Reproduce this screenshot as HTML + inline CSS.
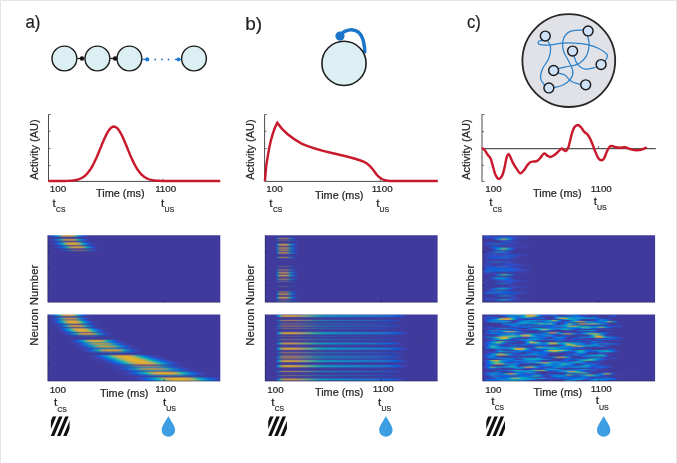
<!DOCTYPE html>
<html><head><meta charset="utf-8"><title>figure</title>
<style>
html,body{margin:0;padding:0;background:#fff;}
body{position:relative;width:677px;height:463px;overflow:hidden;font-family:"Liberation Sans", sans-serif;}
.hm{position:absolute;background:#3f3a9b;overflow:hidden}
.hm i{display:block;height:1px;width:100%}
svg{position:absolute;left:0;top:0;display:block;font-family:"Liberation Sans", sans-serif;will-change:transform;}
</style></head><body>
<div class="hm" style="left:47px;top:235px;width:174px;height:68px">
<i style="background:linear-gradient(90deg,#3f3da3 0.5px,#3d41ad 2.5px,#354ac1 4.5px,#2353ce 5.5px,#0d5ed4 6.5px,#1b72cc 8.5px,#197fc8 9.5px,#108ec3 10.5px,#1698b5 11.5px,#33a1a1 12.5px,#5da589 13.5px,#82a175 14.5px,#9d9c67 15.5px,#b1975c 16.5px,#bf9452 17.5px,#c49c41 19.5px,#c49e40 21.5px,#c59649 23.5px,#bd9454 24.5px,#989d6a 26.5px,#7ca279 27.5px,#54a58e 28.5px,#2c9fa5 29.5px,#1397b8 30.5px,#118cc5 31.5px,#1a7cc8 32.5px,#1a70cd 33.5px,#0e5bd4 35.5px,#2850cc 36.5px,#3749be 37.5px,#3e3ea6 40.5px,#3f3b9e 43.5px,#3f3a9b 173.5px)"></i>
<i style="background:linear-gradient(90deg,#3f3ca0 0.5px,#3e3fa8 2.5px,#3845b6 4.5px,#1c53c3 6.5px,#2661be 8.5px,#1e75b8 10.5px,#227dad 11.5px,#37839f 12.5px,#6e8380 14.5px,#8f7b6e 16.5px,#997967 17.5px,#9d7f5c 19.5px,#9d815a 21.5px,#9d7b61 23.5px,#987969 24.5px,#7e8078 26.5px,#6a8483 27.5px,#4e8692 28.5px,#3281a2 29.5px,#207bb0 30.5px,#1e74b9 31.5px,#2568bb 32.5px,#2560bf 33.5px,#1c52c3 35.5px,#2f4abe 36.5px,#3944b4 37.5px,#3f3da3 40.5px,#3f3b9d 43.5px,#3f3a9b 173.5px)"></i>
<i style="background:linear-gradient(90deg,#3f3a9c 0.5px,#393fa2 6.5px,#3a469e 11.5px,#4d4693 16.5px,#504691 23.5px,#3944a0 31.5px,#393ea2 35.5px,#3e3c9f 37.5px,#3f3a9b 43.5px,#3f3a9b 173.5px)"></i>
<i style="background:linear-gradient(90deg,#3f3a9c 0.5px,#3e3da1 5.5px,#3740a6 7.5px,#364ba2 12.5px,#384d9f 13.5px,#464f97 15.5px,#554c8f 18.5px,#594d8a 23.5px,#534d90 27.5px,#364ca1 32.5px,#3541a6 37.5px,#3d3da2 39.5px,#3f3a9c 45.5px,#3f3a9b 173.5px)"></i>
<i style="background:linear-gradient(90deg,#3f3c9f 0.5px,#3e40a9 3.5px,#3946b8 5.5px,#304cc4 6.5px,#1956d0 7.5px,#1060d1 8.5px,#1e72c8 10.5px,#138dbe 12.5px,#1d96b0 13.5px,#3b9d9c 14.5px,#619f87 15.5px,#829c76 16.5px,#99976a 17.5px,#aa9260 18.5px,#bd904f 20.5px,#be934a 21.5px,#be9449 23.5px,#ba8f54 25.5px,#a09565 27.5px,#8c9a71 28.5px,#6f9e7f 29.5px,#4a9f94 30.5px,#2899a8 31.5px,#1491b9 32.5px,#1486c4 33.5px,#1d77c6 34.5px,#105ad1 37.5px,#2950ca 38.5px,#3648bd 39.5px,#3e3ea6 42.5px,#3f3b9e 45.5px,#3f3a9b 173.5px)"></i>
<i style="background:linear-gradient(90deg,#3f3b9e 0.5px,#3e3ea5 3.5px,#3b43b1 5.5px,#3447b9 6.5px,#234ec2 7.5px,#1d55c3 8.5px,#2763bc 10.5px,#1f77b5 12.5px,#267daa 13.5px,#3c829c 14.5px,#58848c 15.5px,#708180 16.5px,#8d7a70 18.5px,#9b7963 20.5px,#9c7c5f 23.5px,#997867 25.5px,#867c74 27.5px,#628387 29.5px,#478496 30.5px,#2e7fa5 31.5px,#1f79b1 32.5px,#1f72b9 33.5px,#2667bb 34.5px,#1d51c3 37.5px,#2f4abd 38.5px,#3944b4 39.5px,#3e3da3 42.5px,#3f3b9d 45.5px,#3f3a9b 173.5px)"></i>
<i style="background:linear-gradient(90deg,#3f3a9c 0.5px,#3e3ca1 5.5px,#3543a8 9.5px,#364ea3 13.5px,#55518f 18.5px,#5e5186 22.5px,#58508c 28.5px,#3a50a0 33.5px,#3448a7 36.5px,#3c3da3 41.5px,#3f3a9b 48.5px,#3f3a9b 173.5px)"></i>
<i style="background:linear-gradient(90deg,#3f3b9c 0.5px,#3f3da2 4.5px,#3a44b2 7.5px,#3248bb 8.5px,#214fc1 9.5px,#1e56c2 10.5px,#2664bc 12.5px,#1f77b4 14.5px,#297da9 15.5px,#5c838a 17.5px,#73817e 18.5px,#847d75 19.5px,#9a7965 21.5px,#9c7d5e 22.5px,#9a8259 24.5px,#9a815a 26.5px,#9b7a63 28.5px,#94796b 29.5px,#78807b 31.5px,#628387 32.5px,#468396 33.5px,#2e7fa5 34.5px,#2179b1 35.5px,#2071b9 36.5px,#2667bb 37.5px,#1f51c2 40.5px,#2f4abd 41.5px,#3c41ad 43.5px,#3e3da3 45.5px,#3f3b9d 48.5px,#3f3a9b 173.5px)"></i>
<i style="background:linear-gradient(90deg,#3f3b9d 0.5px,#3f3da2 3.5px,#3e41ab 5.5px,#3948bd 7.5px,#2e4fca 8.5px,#1859d7 9.5px,#0964db 10.5px,#157bd3 12.5px,#0b99c8 14.5px,#14a5b9 15.5px,#31afa3 16.5px,#5cb38a 17.5px,#86b073 18.5px,#a6ab62 19.5px,#bea554 20.5px,#cfa247 21.5px,#d7a53b 22.5px,#d5b02f 24.5px,#d5b12f 26.5px,#d7a63a 28.5px,#d0a246 29.5px,#c0a453 30.5px,#a8aa61 31.5px,#89b071 32.5px,#36afa0 34.5px,#17a6b6 35.5px,#0c9ac6 36.5px,#147dd3 38.5px,#0b65db 40.5px,#185ad6 41.5px,#3749be 43.5px,#3e3fa7 46.5px,#3f3b9e 49.5px,#3f3a9b 173.5px)"></i>
<i style="background:linear-gradient(90deg,#3f3b9c 0.5px,#3f3da3 4.5px,#3b45b5 7.5px,#354ac0 8.5px,#2751cd 9.5px,#105bd5 10.5px,#0f66d4 11.5px,#176fd0 12.5px,#1a7bca 13.5px,#128ac7 14.5px,#1196bd 15.5px,#229fac 16.5px,#45a696 17.5px,#6fa77f 18.5px,#90a26e 19.5px,#a89c61 20.5px,#ba9856 21.5px,#c6974a 22.5px,#c89d40 23.5px,#c5a539 25.5px,#c6a33b 27.5px,#c79848 29.5px,#bc9754 30.5px,#93a16d 32.5px,#73a67d 33.5px,#4ba793 34.5px,#27a0a9 35.5px,#1197bb 36.5px,#118cc7 37.5px,#197dca 38.5px,#1871cf 39.5px,#0f5dd5 41.5px,#2353ce 42.5px,#344ac1 43.5px,#3b45b6 44.5px,#3e3fa8 46.5px,#3f3b9f 49.5px,#3f3a9b 57.5px,#3f3a9b 173.5px)"></i>
<i style="background:linear-gradient(90deg,#3f3a9b 0.5px,#3d3da3 8.5px,#3544aa 11.5px,#3152a9 15.5px,#415a9b 18.5px,#605988 22.5px,#695a7e 26.5px,#6a597f 29.5px,#615987 32.5px,#40599b 36.5px,#2f4bac 41.5px,#3844a9 43.5px,#3d3da2 47.5px,#3f3a9c 53.5px,#3f3a9b 173.5px)"></i>
<i style="background:linear-gradient(90deg,#3f3a9b 0.5px,#3f3ca1 7.5px,#3945b4 11.5px,#3149bd 12.5px,#1f50c4 13.5px,#1b58c5 14.5px,#2565be 16.5px,#1d79b8 18.5px,#2180ae 19.5px,#3485a1 20.5px,#4f8991 21.5px,#6a8782 22.5px,#8d8070 24.5px,#a07c62 26.5px,#a2805b 27.5px,#a18458 29.5px,#a18259 31.5px,#9d7c65 33.5px,#947e6c 34.5px,#77857c 36.5px,#608888 37.5px,#2b83a6 39.5px,#1d7db2 40.5px,#1d75bb 41.5px,#246bbc 42.5px,#2462c0 43.5px,#1a55c5 45.5px,#264ec2 46.5px,#3547b9 47.5px,#3b43b1 48.5px,#3e3ea6 50.5px,#3f3b9e 53.5px,#3f3a9b 61.5px,#3f3a9b 173.5px)"></i>
<i style="background:linear-gradient(90deg,#3f3a9b 0.5px,#3f3da3 7.5px,#3d41ac 9.5px,#3748bd 11.5px,#2b4fca 12.5px,#1359d3 13.5px,#0e62d4 14.5px,#1c75cb 16.5px,#1090c3 18.5px,#1699b5 19.5px,#30a1a3 20.5px,#56a68d 21.5px,#7aa379 22.5px,#959e6b 23.5px,#aa9960 24.5px,#c4954c 26.5px,#c69944 27.5px,#c59f3f 29.5px,#c59c41 31.5px,#c09451 33.5px,#b3975a 34.5px,#8ba171 36.5px,#6da580 37.5px,#46a596 38.5px,#249eab 39.5px,#1196bb 40.5px,#118bc6 41.5px,#1a7dc9 42.5px,#1a71cd 43.5px,#0d5fd5 45.5px,#1d55d1 46.5px,#324cc4 47.5px,#3947b9 48.5px,#3e40aa 50.5px,#3f3ca0 53.5px,#3f3a9b 61.5px,#3f3a9b 173.5px)"></i>
<i style="background:linear-gradient(90deg,#3f3a9b 0.5px,#3f3b9e 7.5px,#3c40a9 11.5px,#2e46b2 13.5px,#2b4ab2 14.5px,#3152ae 16.5px,#2c5cab 18.5px,#2f60a5 19.5px,#486595 21.5px,#57648e 22.5px,#6a6083 24.5px,#756078 27.5px,#756177 31.5px,#6e5f81 34.5px,#516590 37.5px,#3462a1 39.5px,#2c5fa8 40.5px,#3050af 43.5px,#2b49b2 45.5px,#3d3fa7 48.5px,#3f3b9d 53.5px,#3f3a9b 173.5px)"></i>
<i style="background:linear-gradient(90deg,#3f3a9b 0.5px,#3e3ca0 12.5px,#3841a4 16.5px,#3a47a0 20.5px,#4f4991 27.5px,#53488f 32.5px,#4e4993 36.5px,#3b499e 41.5px,#3846a2 43.5px,#3e3ca0 50.5px,#3f3a9c 56.5px,#3f3a9b 173.5px)"></i>
<i style="background:linear-gradient(90deg,#3f3a9b 0.5px,#3f3b9d 8.5px,#3d40a8 13.5px,#3a42ad 14.5px,#284ab6 16.5px,#2f56b1 19.5px,#2962ad 21.5px,#2b66a8 22.5px,#3669a0 23.5px,#536b8f 25.5px,#686884 27.5px,#74657e 29.5px,#79647a 32.5px,#74657e 35.5px,#686884 37.5px,#536b8f 39.5px,#3669a0 41.5px,#2b66a8 42.5px,#2962ad 43.5px,#2f56b1 45.5px,#284ab6 48.5px,#3a42ad 50.5px,#3d40a8 51.5px,#3f3b9d 56.5px,#3f3a9b 173.5px)"></i>
<i style="background:linear-gradient(90deg,#3f3a9b 0.5px,#3e3b9e 13.5px,#3a3ea1 16.5px,#3a439f 21.5px,#494596 27.5px,#4d4493 32.5px,#494596 37.5px,#3a439f 43.5px,#3a3ea1 48.5px,#3f3a9c 56.5px,#3f3a9b 173.5px)"></i>
<i></i>
<i></i>
<i></i>
<i></i>
<i></i>
<i></i>
<i></i>
<i></i>
<i></i>
<i></i>
<i></i>
<i></i>
<i></i>
<i></i>
<i></i>
<i></i>
<i></i>
<i></i>
<i></i>
<i></i>
<i></i>
<i></i>
<i></i>
<i></i>
<i></i>
<i></i>
<i></i>
<i></i>
<i></i>
<i></i>
<i></i>
<i></i>
<i></i>
<i></i>
<i></i>
<i></i>
<i></i>
<i></i>
<i></i>
<i></i>
<i></i>
<i></i>
<i></i>
<i></i>
<i></i>
<i></i>
<i></i>
<i></i>
<i></i>
<i></i>
<i></i>
</div>
<div class="hm" style="left:47px;top:314px;width:174px;height:68px">
<i style="background:linear-gradient(90deg,#3f3da1 0.5px,#3e40aa 2.5px,#3847ba 4.5px,#2b4ec7 5.5px,#1358cf 6.5px,#1e75c5 9.5px,#1584c2 10.5px,#168eb7 11.5px,#2b96a6 12.5px,#4f9c91 13.5px,#749a7d 14.5px,#8f956f 15.5px,#b18c5b 17.5px,#b98d50 18.5px,#b9924a 19.5px,#b99449 22.5px,#b58c57 24.5px,#a98e60 25.5px,#97936a 26.5px,#809877 27.5px,#5f9c88 28.5px,#38999e 29.5px,#1c91b1 30.5px,#1488bf 31.5px,#1f6ec7 33.5px,#115ccf 35.5px,#2152cc 36.5px,#3449bf 37.5px,#3b45b4 38.5px,#3e3fa7 40.5px,#3f3b9e 43.5px,#3f3a9b 173.5px)"></i>
<i style="background:linear-gradient(90deg,#3f3da2 0.5px,#3e41ab 2.5px,#3748bd 4.5px,#2950cb 5.5px,#105ad3 6.5px,#1b7ac8 9.5px,#128ac5 10.5px,#1395b9 11.5px,#2a9da7 12.5px,#50a490 13.5px,#78a17b 14.5px,#959c6b 15.5px,#ba9355 17.5px,#c3944a 18.5px,#c39944 19.5px,#c39b42 22.5px,#bf9351 24.5px,#b1955c 25.5px,#9e9a66 26.5px,#859f74 27.5px,#61a387 28.5px,#38a09e 29.5px,#1998b2 30.5px,#118fc1 31.5px,#1c73cb 33.5px,#0e5fd4 35.5px,#1f54d0 36.5px,#334bc2 37.5px,#3a45b6 38.5px,#3e3fa8 40.5px,#3f3b9e 43.5px,#3f3a9b 51.5px,#3f3a9b 173.5px)"></i>
<i style="background:linear-gradient(90deg,#3f3b9d 0.5px,#3d3ea5 4.5px,#3144ac 6.5px,#3156a5 11.5px,#425b99 13.5px,#585a8d 15.5px,#655786 17.5px,#69597f 20.5px,#695880 23.5px,#5f598a 26.5px,#3659a1 30.5px,#3047ad 35.5px,#3a40a8 37.5px,#3e3da2 39.5px,#3f3a9b 46.5px,#3f3a9b 173.5px)"></i>
<i style="background:linear-gradient(90deg,#3f3b9c 0.5px,#3d3ea5 5.5px,#3543ae 7.5px,#2c47b1 8.5px,#3153ac 11.5px,#2f5da7 13.5px,#436298 15.5px,#516290 16.5px,#655f86 18.5px,#6f5d80 20.5px,#725d7c 23.5px,#705c7f 25.5px,#675e85 27.5px,#56628e 29.5px,#315ea4 32.5px,#2d5aaa 33.5px,#3045b0 38.5px,#3d3fa7 40.5px,#3f3a9c 46.5px,#3f3a9b 173.5px)"></i>
<i style="background:linear-gradient(90deg,#3f3b9e 0.5px,#3e3fa6 3.5px,#3649bd 6.5px,#2850ca 7.5px,#105ad1 8.5px,#1d77c6 11.5px,#1485c4 12.5px,#1390ba 13.5px,#2598aa 14.5px,#459e97 15.5px,#6a9f82 16.5px,#869b73 17.5px,#9b9668 18.5px,#b58f58 20.5px,#bb8f52 21.5px,#be914e 23.5px,#b98f55 25.5px,#b1905b 26.5px,#94986c 28.5px,#7c9c79 29.5px,#5c9f8a 30.5px,#379c9f 31.5px,#1b95b1 32.5px,#138cbf 33.5px,#1e72c8 35.5px,#1060d1 37.5px,#1856d0 38.5px,#2f4cc5 39.5px,#3946b9 40.5px,#3e3ea5 43.5px,#3f3b9e 46.5px,#3f3a9b 173.5px)"></i>
<i style="background:linear-gradient(90deg,#3f3b9d 0.5px,#3f3da3 3.5px,#3944b2 6.5px,#3148bb 7.5px,#214fc1 8.5px,#2056c0 9.5px,#2764ba 11.5px,#2075b2 13.5px,#2b7ba7 14.5px,#40809a 15.5px,#6f7e80 17.5px,#7e7b78 18.5px,#92766c 20.5px,#987863 23.5px,#91776c 26.5px,#7e7b78 28.5px,#5a808b 30.5px,#2c7ba7 32.5px,#2375b1 33.5px,#2664ba 35.5px,#2056c0 37.5px,#234fc0 38.5px,#3944b2 40.5px,#3c41ab 41.5px,#3f3ca0 44.5px,#3f3a9b 49.5px,#3f3a9b 173.5px)"></i>
<i style="background:linear-gradient(90deg,#3f3b9d 0.5px,#3f3da3 3.5px,#3b44b3 6.5px,#3548bd 7.5px,#2450c7 8.5px,#1759cb 9.5px,#1f69c5 11.5px,#1880be 13.5px,#1c89b3 14.5px,#3090a3 15.5px,#509591 16.5px,#70937f 17.5px,#888f72 18.5px,#a88760 20.5px,#b08857 21.5px,#b18c51 22.5px,#b08f4e 25.5px,#ae8958 27.5px,#a58961 28.5px,#849075 30.5px,#6a9382 31.5px,#4a9394 32.5px,#2e8fa6 33.5px,#1d88b4 34.5px,#1a7ebe 35.5px,#1f72c2 36.5px,#1957ca 39.5px,#294fc4 40.5px,#3b44b2 42.5px,#3e3ea6 44.5px,#3f3b9e 47.5px,#3f3a9b 173.5px)"></i>
<i style="background:linear-gradient(90deg,#3f3b9d 0.5px,#3e3fa7 4.5px,#3749bf 7.5px,#2a51cd 8.5px,#155bd8 9.5px,#0b67dc 10.5px,#137fd3 12.5px,#0c9dc6 14.5px,#18a8b6 15.5px,#38b19f 16.5px,#62b487 17.5px,#8ab171 18.5px,#a9ac60 19.5px,#c1a653 20.5px,#d1a446 21.5px,#d9ad33 23.5px,#d9af30 26.5px,#d5a73e 28.5px,#cca54a 29.5px,#b9a857 30.5px,#9eae66 31.5px,#53b38f 33.5px,#2eaea7 34.5px,#16a4bb 35.5px,#0f97c8 36.5px,#107bd5 38.5px,#0d6ed9 39.5px,#1163d9 40.5px,#1d58d4 41.5px,#2d4fc8 42.5px,#3748bc 43.5px,#3e3ea6 46.5px,#3f3b9e 49.5px,#3f3a9b 173.5px)"></i>
<i style="background:linear-gradient(90deg,#3f3b9c 0.5px,#3e3fa8 5.5px,#354ac1 8.5px,#165cd9 10.5px,#0968dc 11.5px,#1380d3 13.5px,#0d9dc5 15.5px,#19a8b5 16.5px,#37b09f 17.5px,#60b488 18.5px,#88b272 19.5px,#a8ac61 20.5px,#bfa753 21.5px,#cea646 22.5px,#d7a73d 23.5px,#d9ab34 24.5px,#d9b02f 26.5px,#daaa35 28.5px,#d7a53e 29.5px,#cda44a 30.5px,#baa857 31.5px,#a1ad65 32.5px,#81b276 33.5px,#31afa4 35.5px,#16a6b9 36.5px,#0c9ac7 37.5px,#137dd4 39.5px,#0e65db 41.5px,#165ad6 42.5px,#2a50cc 43.5px,#3749bf 44.5px,#3e3fa7 47.5px,#3f3b9e 50.5px,#3f3a9b 58.5px,#3f3a9b 173.5px)"></i>
<i style="background:linear-gradient(90deg,#3f3a9c 0.5px,#3f3da2 5.5px,#3b43b1 8.5px,#3647b9 9.5px,#1955c7 11.5px,#2264c2 13.5px,#236dbe 14.5px,#1c78bc 15.5px,#1d81b3 16.5px,#2c87a6 17.5px,#468c96 18.5px,#648c85 19.5px,#7c8979 20.5px,#9b8167 22.5px,#a48060 23.5px,#a78655 25.5px,#a78656 28.5px,#a38061 30.5px,#8a8571 32.5px,#78897b 33.5px,#5f8c89 34.5px,#2886a9 36.5px,#1b7fb6 37.5px,#236bbf 39.5px,#1b54c7 42.5px,#3746b7 44.5px,#3e3ea5 47.5px,#3f3b9e 50.5px,#3f3a9b 173.5px)"></i>
<i style="background:linear-gradient(90deg,#3f3a9b 0.5px,#3d3da3 9.5px,#3247ac 13.5px,#3454a5 17.5px,#3e599c 19.5px,#5f5889 23.5px,#675882 26.5px,#695781 29.5px,#5d588a 33.5px,#3c599e 37.5px,#3250a9 40.5px,#3446ab 43.5px,#3b3fa6 46.5px,#3f3a9c 53.5px,#3f3a9b 173.5px)"></i>
<i style="background:linear-gradient(90deg,#3f3a9b 0.5px,#3f3da3 7.5px,#3d41ab 9.5px,#3748bb 11.5px,#2c4ec7 12.5px,#1557cf 13.5px,#1260cf 14.5px,#1f71c7 16.5px,#1489bf 18.5px,#1991b3 19.5px,#2f98a3 20.5px,#509d91 21.5px,#709b7f 22.5px,#889772 23.5px,#9a9369 24.5px,#b28d5a 26.5px,#b88d55 27.5px,#ba8e50 29.5px,#b88d55 31.5px,#b28d5a 32.5px,#9a9369 34.5px,#889772 35.5px,#709b7f 36.5px,#509d91 37.5px,#2f98a3 38.5px,#1991b3 39.5px,#1489bf 40.5px,#1f71c7 42.5px,#1260cf 44.5px,#1557cf 45.5px,#2c4ec7 46.5px,#3748bb 47.5px,#3e3fa6 50.5px,#3f3b9e 53.5px,#3f3a9b 61.5px,#3f3a9b 173.5px)"></i>
<i style="background:linear-gradient(90deg,#3f3a9b 0.5px,#3f3da3 7.5px,#3d41ab 9.5px,#3748bb 11.5px,#2c4ec7 12.5px,#1557cf 13.5px,#1260cf 14.5px,#1f71c7 16.5px,#1489bf 18.5px,#1991b3 19.5px,#2f98a3 20.5px,#509d91 21.5px,#709b7f 22.5px,#889772 23.5px,#9a9369 24.5px,#b28d5a 26.5px,#b88d55 27.5px,#ba8e50 29.5px,#b88d55 31.5px,#b28d5a 32.5px,#9a9369 34.5px,#889772 35.5px,#709b7f 36.5px,#509d91 37.5px,#2f98a3 38.5px,#1991b3 39.5px,#1489bf 40.5px,#1f71c7 42.5px,#1260cf 44.5px,#1557cf 45.5px,#2c4ec7 46.5px,#3748bb 47.5px,#3e3fa6 50.5px,#3f3b9e 53.5px,#3f3a9b 61.5px,#3f3a9b 173.5px)"></i>
<i style="background:linear-gradient(90deg,#3f3a9b 0.5px,#3f3b9d 7.5px,#3d3ea4 11.5px,#3148ad 15.5px,#3156a7 19.5px,#3b5b9d 21.5px,#5f5a89 25.5px,#685884 27.5px,#6b5980 30.5px,#655985 34.5px,#5a5b8c 36.5px,#395aa1 40.5px,#304cac 44.5px,#3b3fa6 49.5px,#3f3a9c 56.5px,#3f3a9b 173.5px)"></i>
<i style="background:linear-gradient(90deg,#3f3a9b 0.5px,#3f3ca0 8.5px,#3e40aa 11.5px,#3846b8 13.5px,#2f4bc2 14.5px,#1c53c9 15.5px,#175bcb 16.5px,#1f6bc5 18.5px,#1880be 20.5px,#1a88b5 21.5px,#2b8fa7 22.5px,#459597 23.5px,#7c9279 25.5px,#908e6e 26.5px,#a9885f 28.5px,#b08858 29.5px,#b28c50 31.5px,#b18a55 34.5px,#ac895b 35.5px,#988d69 37.5px,#889072 38.5px,#72937e 39.5px,#55958e 40.5px,#39919e 41.5px,#248cad 42.5px,#1d85b8 43.5px,#1f70c2 45.5px,#1660ca 47.5px,#1a57ca 48.5px,#2a50c5 49.5px,#3c42ae 52.5px,#3f3da1 55.5px,#3f3a9c 60.5px,#3f3a9b 173.5px)"></i>
<i style="background:linear-gradient(90deg,#3f3a9b 0.5px,#3f3ca0 8.5px,#3e40ab 11.5px,#3947ba 13.5px,#314cc5 14.5px,#155ed9 16.5px,#0c69db 17.5px,#1080d5 19.5px,#0c9ac8 21.5px,#16a6bb 22.5px,#2cafa8 23.5px,#73b57d 25.5px,#94b16b 26.5px,#afad5d 27.5px,#d2a646 29.5px,#daa73b 30.5px,#dbac35 31.5px,#dbae33 34.5px,#d3ac3d 36.5px,#bfaa52 38.5px,#a9ad5f 39.5px,#6cb282 41.5px,#31aca9 43.5px,#1ea2b9 44.5px,#1297c6 45.5px,#0d8cd0 46.5px,#0f72d8 48.5px,#1767d7 49.5px,#195dd3 50.5px,#304dc4 52.5px,#3d41ab 55.5px,#3f3b9f 59.5px,#3f3a9b 67.5px,#3f3a9b 173.5px)"></i>
<i style="background:linear-gradient(90deg,#3f3a9b 0.5px,#3f3ca0 9.5px,#3e40aa 12.5px,#3a46b9 14.5px,#2753cf 16.5px,#175cd7 17.5px,#1166dc 18.5px,#0a72dc 19.5px,#0e98cb 22.5px,#14a4c0 23.5px,#25afb0 24.5px,#40b59b 25.5px,#63b787 26.5px,#a5b362 28.5px,#bdae54 29.5px,#cead46 30.5px,#dfb131 33.5px,#e1b32d 35.5px,#e0ad35 37.5px,#dbaa3e 38.5px,#cfaa49 39.5px,#a5b263 41.5px,#64b887 43.5px,#23afb0 45.5px,#12a4c1 46.5px,#0d97cb 47.5px,#0e7ed8 49.5px,#1167db 51.5px,#2254ce 53.5px,#314cc5 54.5px,#3947ba 55.5px,#3e40ab 57.5px,#3f3ca0 60.5px,#3f3a9b 69.5px,#3f3a9b 173.5px)"></i>
<i style="background:linear-gradient(90deg,#3f3a9b 0.5px,#3f3c9f 10.5px,#3e3fa7 13.5px,#3b44b3 15.5px,#2e4ec6 17.5px,#2056d1 18.5px,#0e5fd6 19.5px,#197ccb 22.5px,#1395c0 24.5px,#1b9db2 25.5px,#34a3a2 26.5px,#54a88e 27.5px,#76a77b 28.5px,#91a36d 29.5px,#b59c58 31.5px,#c89a49 33.5px,#cb9e40 35.5px,#cb9d41 37.5px,#c5984d 39.5px,#ad9d5e 41.5px,#82a675 43.5px,#41a79a 45.5px,#25a0ac 46.5px,#1398bb 47.5px,#118ec6 48.5px,#1976cd 50.5px,#1063d4 52.5px,#135ad3 53.5px,#2851cc 54.5px,#354ac0 55.5px,#3d40aa 58.5px,#3f3ca0 61.5px,#3f3a9b 70.5px,#3f3a9b 173.5px)"></i>
<i style="background:linear-gradient(90deg,#3f3a9b 0.5px,#3f3b9c 11.5px,#3e3ea4 16.5px,#2f4bb4 21.5px,#2a4fb4 22.5px,#2b59b1 24.5px,#3062aa 26.5px,#3c689e 28.5px,#5f6a89 31.5px,#71677e 33.5px,#7d6675 36.5px,#7e6673 38.5px,#796677 41.5px,#70677f 43.5px,#40689d 48.5px,#2b5dae 51.5px,#2959b2 52.5px,#314fb2 54.5px,#3145af 57.5px,#3b40a8 59.5px,#3f3b9d 65.5px,#3f3a9b 173.5px)"></i>
<i style="background:linear-gradient(90deg,#3f3a9b 0.5px,#3f3b9d 12.5px,#3f3da3 15.5px,#3c43b1 18.5px,#334bc3 20.5px,#0e5bd4 22.5px,#1c74ca 25.5px,#118cc4 27.5px,#1395b9 28.5px,#259caa 29.5px,#64a385 31.5px,#81a076 32.5px,#a79862 34.5px,#bd9352 36.5px,#c2944b 37.5px,#c39845 39.5px,#c2944b 42.5px,#bd9352 43.5px,#a79862 45.5px,#81a076 47.5px,#64a385 48.5px,#259caa 50.5px,#1395b9 51.5px,#118cc4 52.5px,#1c74ca 54.5px,#0e5bd4 57.5px,#334bc3 59.5px,#3946b9 60.5px,#3e3fa6 63.5px,#3f3c9f 66.5px,#3f3a9b 75.5px,#3f3a9b 173.5px)"></i>
<i style="background:linear-gradient(90deg,#3f3a9b 0.5px,#3f3b9d 12.5px,#3f3da1 15.5px,#3d41ac 18.5px,#3548bb 20.5px,#1955c8 22.5px,#2369c2 25.5px,#197cbd 27.5px,#1a83b5 28.5px,#2989a9 29.5px,#5b8f8c 31.5px,#718d80 32.5px,#8f876f 34.5px,#a18363 36.5px,#a5855d 37.5px,#a68858 39.5px,#a68759 41.5px,#a28462 43.5px,#90886e 45.5px,#718e7f 47.5px,#5a918b 48.5px,#298ba8 50.5px,#1a85b4 51.5px,#197ebd 52.5px,#226ac2 54.5px,#1756ca 57.5px,#3448bc 59.5px,#3a44b4 60.5px,#3e3ea5 63.5px,#3f3b9e 66.5px,#3f3a9b 173.5px)"></i>
<i style="background:linear-gradient(90deg,#3f3a9b 0.5px,#3f3a9c 13.5px,#3e3ca1 19.5px,#3746aa 25.5px,#2f4cac 27.5px,#2f4fab 28.5px,#40569f 32.5px,#4e5c91 40.5px,#4d5c93 44.5px,#425c99 47.5px,#2f58a8 51.5px,#334eab 54.5px,#2e47ae 57.5px,#3d3ea5 61.5px,#3f3b9d 66.5px,#3f3a9b 173.5px)"></i>
<i style="background:linear-gradient(90deg,#3f3a9b 0.5px,#3f3c9f 22.5px,#3541a7 27.5px,#354ca2 35.5px,#3d4f9c 43.5px,#364da1 49.5px,#3541a7 58.5px,#3d3da2 61.5px,#3f3a9c 67.5px,#3f3a9b 173.5px)"></i>
<i style="background:linear-gradient(90deg,#3f3a9b 0.5px,#3f3e9b 43.5px,#3f3a9b 67.5px,#3f3a9b 173.5px)"></i>
<i style="background:linear-gradient(90deg,#3f3a9b 0.5px,#3f3a9b 173.5px)"></i>
<i style="background:linear-gradient(90deg,#3f3a9b 0.5px,#3f3a9c 18.5px,#3e3da1 25.5px,#3c3fa6 27.5px,#3243ab 29.5px,#354aa9 32.5px,#3253a5 35.5px,#3455a2 36.5px,#435898 38.5px,#535790 40.5px,#615388 43.5px,#645682 47.5px,#645483 51.5px,#5a558c 55.5px,#455897 58.5px,#3555a1 60.5px,#3253a5 61.5px,#354aa8 64.5px,#3144ab 67.5px,#3d3ea4 70.5px,#3f3b9c 76.5px,#3f3a9b 173.5px)"></i>
<i style="background:linear-gradient(90deg,#3f3a9b 0.5px,#3f3b9d 18.5px,#3f3ea5 22.5px,#3c44b3 25.5px,#324cc5 27.5px,#2353d0 28.5px,#0d5cd6 29.5px,#0c65d6 30.5px,#1975ce 32.5px,#197fcb 33.5px,#108cc9 34.5px,#0e96c1 35.5px,#169eb4 36.5px,#2ea4a4 37.5px,#4eaa92 38.5px,#70a97f 39.5px,#8ba571 40.5px,#a0a166 41.5px,#be9954 43.5px,#c8984b 44.5px,#cb9b43 45.5px,#caa23c 47.5px,#caa23b 49.5px,#cb9c42 51.5px,#c99849 52.5px,#c09852 53.5px,#a4a064 55.5px,#76a87c 57.5px,#55aa8e 58.5px,#34a6a1 59.5px,#1a9fb1 60.5px,#0e98bf 61.5px,#0f8ec8 62.5px,#1a76cd 64.5px,#0b5ed7 67.5px,#1e55d2 68.5px,#304dc7 69.5px,#3848bd 70.5px,#3e40a9 73.5px,#3f3ca0 76.5px,#3f3a9b 85.5px,#3f3a9b 173.5px)"></i>
<i style="background:linear-gradient(90deg,#3f3a9b 0.5px,#3f3b9d 18.5px,#3e3ea5 22.5px,#3c44b4 25.5px,#324dc6 27.5px,#2354d2 28.5px,#0d5dd9 29.5px,#0c66d9 30.5px,#1877d3 32.5px,#1781d0 33.5px,#0d8fd0 34.5px,#099ac9 35.5px,#10a3bc 36.5px,#27aaac 37.5px,#48b099 38.5px,#6ab086 39.5px,#86ad77 40.5px,#9ba96c 41.5px,#b8a35a 43.5px,#c1a351 44.5px,#c4a648 45.5px,#c4ae41 47.5px,#c4af40 49.5px,#c5a946 51.5px,#c3a54e 52.5px,#baa557 53.5px,#9dac68 55.5px,#6fb481 57.5px,#4fb594 58.5px,#2eb0a7 59.5px,#15a8b7 60.5px,#0aa0c5 61.5px,#0a96cf 62.5px,#1288d1 63.5px,#147dd5 64.5px,#076bde 66.5px,#0662df 67.5px,#1b58d9 68.5px,#2e50cd 69.5px,#374ac1 70.5px,#3e41ab 73.5px,#3f3ca1 76.5px,#3f3a9b 85.5px,#3f3a9b 173.5px)"></i>
<i style="background:linear-gradient(90deg,#3f3a9b 0.5px,#3f3b9c 19.5px,#3f3ca1 23.5px,#3d40a9 26.5px,#3148b8 29.5px,#2d55c4 32.5px,#1c63ce 34.5px,#136bcf 35.5px,#1172cc 36.5px,#237ec0 38.5px,#3f89ab 41.5px,#52929a 44.5px,#5b998d 47.5px,#609a86 50.5px,#59998e 54.5px,#509897 56.5px,#4095a5 58.5px,#318cb2 60.5px,#257cc2 63.5px,#0e6ad0 66.5px,#1263d1 67.5px,#215cce 68.5px,#2d54c6 69.5px,#334fbf 70.5px,#3e3fa6 76.5px,#3f3b9d 82.5px,#3f3a9b 173.5px)"></i>
<i style="background:linear-gradient(90deg,#3f3a9b 0.5px,#3f3b9d 21.5px,#3f3da2 25.5px,#3d41ab 28.5px,#354abf 31.5px,#2c4fc9 32.5px,#1a57d0 33.5px,#115ed3 34.5px,#1b74cb 37.5px,#1389c6 39.5px,#1490be 40.5px,#1f97b2 41.5px,#4da196 43.5px,#66a088 44.5px,#899b74 46.5px,#a7965f 49.5px,#a99b55 51.5px,#a89d55 55.5px,#a7965d 57.5px,#99956c 59.5px,#819a7b 61.5px,#709c84 62.5px,#3f9ca0 64.5px,#2697ae 65.5px,#1591ba 66.5px,#108ac4 67.5px,#1f6dca 70.5px,#1559cf 73.5px,#314bc2 75.5px,#3847b9 76.5px,#3e3fa8 79.5px,#3f3ca0 82.5px,#3f3a9b 91.5px,#3f3a9b 173.5px)"></i>
<i style="background:linear-gradient(90deg,#3f3a9b 0.5px,#3f3b9d 22.5px,#3f3da2 26.5px,#3d41ac 29.5px,#3846b8 31.5px,#304bc1 32.5px,#2151c7 33.5px,#1b57ca 34.5px,#216ac9 37.5px,#137ec9 39.5px,#1085c3 40.5px,#1a8cb9 41.5px,#4296a1 43.5px,#69968a 45.5px,#8d9374 48.5px,#989666 50.5px,#9a9b5f 52.5px,#9c995f 56.5px,#979569 58.5px,#879975 60.5px,#6d9d84 62.5px,#5a9e8f 63.5px,#3098a9 65.5px,#2193b4 66.5px,#1b8dbd 67.5px,#1b74ca 70.5px,#0f66d2 72.5px,#115fd3 73.5px,#2f50c6 75.5px,#364bbd 76.5px,#3b42ad 79.5px,#3e3da3 82.5px,#3f3a9b 92.5px,#3f3a9b 173.5px)"></i>
<i style="background:linear-gradient(90deg,#3f3a9b 0.5px,#3f3a9c 23.5px,#3f3da1 28.5px,#3d40aa 31.5px,#2f51c7 36.5px,#185ed3 38.5px,#0e6dd5 40.5px,#1984c9 43.5px,#2291bb 45.5px,#479e9f 48.5px,#60a08f 50.5px,#6f9f83 52.5px,#7ba076 55.5px,#79a275 58.5px,#729d81 62.5px,#5f9695 65.5px,#4391a9 68.5px,#1583c5 71.5px,#0c7dcc 72.5px,#1175cf 73.5px,#2664ca 75.5px,#2a5dc6 76.5px,#264fc0 79.5px,#2e4abd 80.5px,#3b43b0 82.5px,#3f3ca0 87.5px,#3f3a9b 97.5px,#3f3a9b 173.5px)"></i>
<i style="background:linear-gradient(90deg,#3f3a9b 0.5px,#3f3a9c 24.5px,#3f3da2 29.5px,#3e41ac 32.5px,#364ac0 35.5px,#2e4fca 36.5px,#0d5ed8 38.5px,#177ece 42.5px,#0d94c7 44.5px,#109bbd 45.5px,#21a2b0 46.5px,#56ab90 48.5px,#70a981 49.5px,#96a36d 51.5px,#b79c56 54.5px,#bba34a 56.5px,#baa548 60.5px,#ba9e4f 62.5px,#af9c5e 64.5px,#97a16d 66.5px,#87a477 67.5px,#56a891 69.5px,#1fa0b1 71.5px,#0f99be 72.5px,#0d91c7 73.5px,#1a7ccc 75.5px,#1b73cf 76.5px,#0e5dd5 79.5px,#2e4ec8 81.5px,#3749be 82.5px,#3e40ab 85.5px,#3f3da1 88.5px,#3f3a9b 98.5px,#3f3a9b 173.5px)"></i>
<i style="background:linear-gradient(90deg,#3f3a9b 0.5px,#3f3a9c 25.5px,#3e3fa6 33.5px,#3645b3 36.5px,#264dbb 38.5px,#2b59bb 41.5px,#2365bc 43.5px,#1f6fb5 45.5px,#2874af 46.5px,#45799e 48.5px,#5e7990 50.5px,#6c7787 52.5px,#767a7b 55.5px,#757f76 59.5px,#747a7d 63.5px,#637c89 66.5px,#437f9c 69.5px,#2a79ac 71.5px,#2275b3 72.5px,#2464bd 75.5px,#1e55c3 78.5px,#2050c2 79.5px,#3447b9 81.5px,#3a44b3 82.5px,#3f3da1 87.5px,#3f3a9b 97.5px,#3f3a9b 173.5px)"></i>
<i style="background:linear-gradient(90deg,#3f3a9b 0.5px,#3f3b9e 31.5px,#3e3ea4 35.5px,#3747b6 40.5px,#1b58c6 44.5px,#195dc6 45.5px,#317cae 53.5px,#3c83a0 58.5px,#3e849d 62.5px,#3980a5 67.5px,#3271b3 72.5px,#1a60c4 77.5px,#1b5bc4 78.5px,#2d51bf 80.5px,#364ab6 82.5px,#3f3ca0 90.5px,#3f3a9b 100.5px,#3f3a9b 173.5px)"></i>
<i style="background:linear-gradient(90deg,#3f3a9b 0.5px,#3f3a9c 28.5px,#3e3fa8 36.5px,#3449be 40.5px,#1b54cb 42.5px,#165acc 43.5px,#1f6cc5 46.5px,#1883bc 49.5px,#1d88b3 50.5px,#2b8da9 51.5px,#539392 53.5px,#669287 54.5px,#808d79 56.5px,#998868 59.5px,#9b8d5f 61.5px,#9b8d5f 66.5px,#9a8867 68.5px,#8f8872 70.5px,#6d8d85 73.5px,#468f9a 75.5px,#318ca6 76.5px,#2087b1 77.5px,#1782ba 78.5px,#197bc0 79.5px,#236bc2 81.5px,#1a54c7 85.5px,#3149be 87.5px,#3846b7 88.5px,#3e3fa8 91.5px,#3f3ca0 94.5px,#3f3a9b 104.5px,#3f3a9b 173.5px)"></i>
<i style="background:linear-gradient(90deg,#3f3a9b 0.5px,#3f3b9c 28.5px,#3f3da2 33.5px,#3e40ab 36.5px,#3b45b6 38.5px,#314dc7 40.5px,#0f5bd6 42.5px,#0b63d7 43.5px,#1a79cc 46.5px,#0f8ec8 48.5px,#0e97c0 49.5px,#169eb5 50.5px,#2aa4a6 51.5px,#45a996 52.5px,#7fa777 54.5px,#a59f63 56.5px,#c7984c 59.5px,#cb9e3f 61.5px,#caa33b 63.5px,#cba03e 66.5px,#c99948 68.5px,#b89a58 70.5px,#9ba268 72.5px,#88a672 73.5px,#52aa90 75.5px,#34a6a0 76.5px,#1da0af 77.5px,#0f9abc 78.5px,#0e92c5 79.5px,#1a7dcb 81.5px,#1974cf 82.5px,#0b5ed7 85.5px,#1a57d4 86.5px,#2c4fcb 87.5px,#354ac1 88.5px,#3d41ad 91.5px,#3f3da3 94.5px,#3f3a9b 104.5px,#3f3a9b 173.5px)"></i>
<i style="background:linear-gradient(90deg,#3f3a9b 0.5px,#3f3a9c 28.5px,#3e3ea4 36.5px,#3745b4 40.5px,#254dbc 42.5px,#2351bd 43.5px,#2a5eb9 46.5px,#216fb4 49.5px,#2473ae 50.5px,#2f77a7 51.5px,#4f7b94 53.5px,#6a7986 55.5px,#807578 58.5px,#877670 60.5px,#867b6b 62.5px,#87786d 67.5px,#827675 69.5px,#6d7b83 72.5px,#457f99 75.5px,#2979aa 77.5px,#2175b1 78.5px,#2763ba 81.5px,#1e51c1 85.5px,#3844b4 88.5px,#3e3fa7 91.5px,#3f3ca0 94.5px,#3f3a9b 104.5px,#3f3a9b 173.5px)"></i>
<i style="background:linear-gradient(90deg,#3f3a9b 0.5px,#3f3a9b 30.5px,#3e3ca1 39.5px,#3945ad 46.5px,#2750b5 50.5px,#395caa 56.5px,#3765a4 61.5px,#3868a0 66.5px,#2d65ac 75.5px,#2c55b4 81.5px,#264eb8 84.5px,#274bb8 85.5px,#3445b3 87.5px,#3c41ab 89.5px,#3f3c9f 95.5px,#3f3a9b 106.5px,#3f3a9b 173.5px)"></i>
<i style="background:linear-gradient(90deg,#3f3a9b 0.5px,#3f3b9c 42.5px,#3a3da1 50.5px,#3b439e 68.5px,#3a3da1 85.5px,#3f3a9c 95.5px,#3f3a9b 173.5px)"></i>
<i style="background:linear-gradient(90deg,#3f3a9b 0.5px,#3f3b9d 44.5px,#3e3ca1 48.5px,#373fa4 51.5px,#3749a0 59.5px,#4f4a92 66.5px,#554a8c 71.5px,#534990 81.5px,#4a4b95 85.5px,#3a4a9e 89.5px,#3748a2 91.5px,#373fa4 98.5px,#3e3ca1 101.5px,#3f3b9d 106.5px,#3f3a9b 173.5px)"></i>
<i style="background:linear-gradient(90deg,#3f3a9b 0.5px,#3f3a9c 36.5px,#3f3ca0 41.5px,#3e40a9 45.5px,#334abf 49.5px,#1b54cc 51.5px,#165ace 52.5px,#1d6cc8 55.5px,#187cc4 57.5px,#178ab9 59.5px,#1f90b1 60.5px,#2e95a6 61.5px,#599a8c 63.5px,#90946e 66.5px,#b18d59 69.5px,#b58e53 70.5px,#b89548 73.5px,#b8934a 78.5px,#b68d54 80.5px,#9d9166 83.5px,#819776 85.5px,#569a8d 87.5px,#2e94a6 89.5px,#2090b0 90.5px,#1983bf 92.5px,#1d73c5 94.5px,#1461cd 97.5px,#175acd 98.5px,#2c4fc4 100.5px,#3647b8 102.5px,#3e3ea4 107.5px,#3f3a9b 117.5px,#3f3a9b 173.5px)"></i>
<i style="background:linear-gradient(90deg,#3f3a9b 0.5px,#3f3a9c 37.5px,#3f3ca1 42.5px,#3e41ac 46.5px,#3748bd 49.5px,#135fda 53.5px,#0c67dc 54.5px,#0e77d9 56.5px,#0e9cc8 60.5px,#1eabb3 62.5px,#32b1a5 63.5px,#63b686 65.5px,#95b26b 67.5px,#baac56 69.5px,#c7aa4d 70.5px,#d8a93e 72.5px,#ddae32 74.5px,#ddb22d 76.5px,#ddb02f 79.5px,#d7aa3d 82.5px,#c6aa4d 84.5px,#a8af60 86.5px,#64b586 89.5px,#35b0a4 91.5px,#23aab1 92.5px,#17a3bc 93.5px,#0e93cd 95.5px,#0e77d8 98.5px,#1360d7 101.5px,#2853cd 103.5px,#344abe 105.5px,#3b43b2 107.5px,#3e3ea6 110.5px,#3f3b9f 114.5px,#3f3a9c 120.5px,#3f3a9b 173.5px)"></i>
<i style="background:linear-gradient(90deg,#3f3a9b 0.5px,#3f3a9c 38.5px,#3f3c9f 43.5px,#3e3fa8 47.5px,#3a45b6 50.5px,#324cc4 52.5px,#165eda 55.5px,#0c66dd 56.5px,#0d7ed8 59.5px,#0e9acb 62.5px,#19abb8 64.5px,#29b1ab 65.5px,#57b88e 67.5px,#8bb670 69.5px,#b3b15a 71.5px,#c2ae50 72.5px,#ddad39 75.5px,#e1b42c 78.5px,#e0b32e 82.5px,#ddaf37 84.5px,#d1ac45 86.5px,#a7b261 89.5px,#4bb696 93.5px,#24acb1 95.5px,#17a5bc 96.5px,#0d95ce 98.5px,#1071da 102.5px,#1362d8 104.5px,#2d4fc8 107.5px,#3a44b4 110.5px,#3e3fa7 113.5px,#3f3c9f 117.5px,#3f3a9c 123.5px,#3f3a9b 173.5px)"></i>
<i style="background:linear-gradient(90deg,#3f3a9b 0.5px,#3f3a9c 40.5px,#3f3ca1 46.5px,#3e40ab 50.5px,#344bc2 54.5px,#1063dc 58.5px,#0b6bdd 59.5px,#0d7ad9 61.5px,#0f9fc7 65.5px,#1faeb2 67.5px,#32b3a5 68.5px,#62b887 70.5px,#93b56c 72.5px,#b9b056 74.5px,#c6ad4d 75.5px,#dead37 78.5px,#e1b42c 81.5px,#e0b22e 85.5px,#dcae37 87.5px,#d0ac46 89.5px,#a6b261 92.5px,#4db695 96.5px,#25adb0 98.5px,#18a6bb 99.5px,#0e96cd 101.5px,#0f73da 105.5px,#1364d8 107.5px,#165dd6 108.5px,#2b51ca 110.5px,#314cc3 111.5px,#3945b6 113.5px,#3e40a9 116.5px,#3f3ca0 120.5px,#3f3a9c 126.5px,#3f3a9b 173.5px)"></i>
<i style="background:linear-gradient(90deg,#3f3a9b 0.5px,#3f3a9c 42.5px,#3f3ca0 48.5px,#3e40aa 52.5px,#354ac0 56.5px,#1360db 60.5px,#0b68dd 61.5px,#0e7fd8 64.5px,#0e9aca 67.5px,#19aab9 69.5px,#27b0ac 70.5px,#6db881 73.5px,#9bb467 75.5px,#beaf53 77.5px,#daac3c 80.5px,#e1b32e 83.5px,#e1b52b 85.5px,#e0b22f 88.5px,#dcae38 90.5px,#d0ac46 92.5px,#a6b261 95.5px,#4eb694 99.5px,#27adaf 101.5px,#1aa7ba 102.5px,#0e97cb 104.5px,#0e75da 108.5px,#1366d9 110.5px,#155fd7 111.5px,#1d59d3 112.5px,#2853cd 113.5px,#344abe 115.5px,#3e40aa 119.5px,#3f3ca1 123.5px,#3f3a9c 129.5px,#3f3a9b 173.5px)"></i>
<i style="background:linear-gradient(90deg,#3f3a9b 0.5px,#3f3a9c 44.5px,#3f3ca0 50.5px,#3e40a9 54.5px,#3749be 58.5px,#1f57d4 61.5px,#0e65dc 63.5px,#0b6cdd 64.5px,#0d7cd9 66.5px,#0e9fc7 70.5px,#1fadb3 72.5px,#30b3a6 73.5px,#5eb88a 75.5px,#8eb66e 77.5px,#c2ae50 80.5px,#dcac3a 83.5px,#e1b32d 86.5px,#e1b52a 88.5px,#e0b22f 91.5px,#dbae38 93.5px,#cfac46 95.5px,#a6b261 98.5px,#67b685 101.5px,#3ab3a1 103.5px,#29aeae 104.5px,#12a0c2 106.5px,#0d90d0 108.5px,#106fdb 112.5px,#1561d7 114.5px,#324bc1 118.5px,#3a45b5 120.5px,#3e3fa8 123.5px,#3f3ca0 127.5px,#3f3a9c 133.5px,#3f3a9b 173.5px)"></i>
<i style="background:linear-gradient(90deg,#3f3a9b 0.5px,#3f3a9c 46.5px,#3f3ca0 52.5px,#3e40a9 56.5px,#3b45b6 59.5px,#334bc3 61.5px,#1163dc 65.5px,#0b6add 66.5px,#0d78da 68.5px,#0e9bca 72.5px,#19aab9 74.5px,#26b0ad 75.5px,#68b984 78.5px,#96b56a 80.5px,#c6ad4e 83.5px,#ddad39 86.5px,#e1b42c 89.5px,#e1b52a 91.5px,#e0b130 94.5px,#dbae39 96.5px,#cfac47 98.5px,#a6b261 101.5px,#67b785 104.5px,#3bb3a0 106.5px,#2aaead 107.5px,#13a1c1 109.5px,#0d92d0 111.5px,#0e70da 115.5px,#1562d8 117.5px,#185cd5 118.5px,#314cc3 121.5px,#3946b7 123.5px,#3e40a9 126.5px,#3f3ca0 130.5px,#3f3a9c 136.5px,#3f3a9b 173.5px)"></i>
<i style="background:linear-gradient(90deg,#3f3a9b 0.5px,#3f3a9c 47.5px,#3f3b9f 53.5px,#3e3fa8 58.5px,#354ac1 63.5px,#1c59d6 66.5px,#0c67dd 68.5px,#0e85d5 72.5px,#0e9fc7 75.5px,#1eadb4 77.5px,#2eb3a7 78.5px,#5ab88c 80.5px,#89b771 82.5px,#beaf53 85.5px,#daac3d 88.5px,#e1b42c 92.5px,#e1b52a 94.5px,#e0b130 97.5px,#dbad3a 99.5px,#ceac47 101.5px,#a6b261 104.5px,#68b784 107.5px,#3cb49f 109.5px,#2bafac 110.5px,#14a2c0 112.5px,#0d93cf 114.5px,#0d72da 118.5px,#1464d9 120.5px,#175ed6 121.5px,#2f4ec5 124.5px,#3d40ab 129.5px,#3f3ca1 133.5px,#3f3a9c 139.5px,#3f3a9b 173.5px)"></i>
<i style="background:linear-gradient(90deg,#3f3a9b 0.5px,#3f3a9c 49.5px,#3f3b9e 55.5px,#3e3fa7 60.5px,#3649be 65.5px,#1f56d1 68.5px,#0f63d9 70.5px,#0c69d9 71.5px,#1277d4 73.5px,#1196c5 77.5px,#149ebe 78.5px,#28a9aa 80.5px,#69af83 83.5px,#93ac6c 85.5px,#b2a65b 87.5px,#cda246 90.5px,#d4a737 93.5px,#d4ac33 96.5px,#d3a936 99.5px,#cea343 102.5px,#c1a251 104.5px,#98aa69 107.5px,#5ead8a 110.5px,#25a5af 113.5px,#1298c1 115.5px,#1091c8 116.5px,#1082d1 118.5px,#175fd5 123.5px,#2054ce 125.5px,#334bc2 127.5px,#3847bb 128.5px,#3d41ac 131.5px,#3f3da2 135.5px,#3f3b9c 141.5px,#3f3a9b 173.5px)"></i>
<i style="background:linear-gradient(90deg,#3f3a9b 0.5px,#3f3a9b 51.5px,#3e3da3 62.5px,#3844b2 67.5px,#2151c0 71.5px,#2760bb 75.5px,#2373b1 79.5px,#2e7aa6 81.5px,#557f8e 84.5px,#787b7c 87.5px,#8d766f 90.5px,#957667 92.5px,#967b60 95.5px,#967a61 101.5px,#92756a 104.5px,#817977 107.5px,#637e86 110.5px,#487f95 112.5px,#307aa5 114.5px,#2374b1 116.5px,#2761ba 120.5px,#2152bf 124.5px,#3744b3 128.5px,#3e3ea6 132.5px,#3f3a9c 142.5px,#3f3a9b 173.5px)"></i>
<i style="background:linear-gradient(90deg,#3f3a9b 0.5px,#3f3a9b 52.5px,#3f3c9f 63.5px,#3b40aa 69.5px,#2d48b1 73.5px,#2e5da9 81.5px,#3361a3 83.5px,#5f6289 89.5px,#6c6081 92.5px,#745f7a 96.5px,#756078 102.5px,#735e7c 105.5px,#676185 109.5px,#466497 114.5px,#3762a0 116.5px,#2e5ea8 118.5px,#2e49b1 126.5px,#3045b0 128.5px,#3b40a9 131.5px,#3e3da3 134.5px,#3f3a9c 144.5px,#3f3a9b 173.5px)"></i>
<i style="background:linear-gradient(90deg,#3f3a9b 0.5px,#3f3a9b 53.5px,#3f3da2 64.5px,#3944b2 70.5px,#254dbd 73.5px,#2350be 74.5px,#2a5ebc 78.5px,#1e70b8 82.5px,#2777ae 84.5px,#567d93 88.5px,#6f7a85 91.5px,#7d787c 94.5px,#837a74 97.5px,#837c71 102.5px,#7f7979 106.5px,#677e88 111.5px,#4a8098 114.5px,#297aad 117.5px,#2177b2 118.5px,#1e6fbb 120.5px,#2461be 123.5px,#2052c2 127.5px,#3845b4 131.5px,#3e3fa7 135.5px,#3f3a9c 145.5px,#3f3a9b 173.5px)"></i>
<i style="background:linear-gradient(90deg,#3f3a9b 0.5px,#3f3a9c 56.5px,#3e3ea4 68.5px,#324cbc 76.5px,#2855c7 79.5px,#1b5ecc 81.5px,#1467cb 83.5px,#186fc7 85.5px,#3c82ac 93.5px,#448b9f 103.5px,#3d82ac 113.5px,#2475bf 119.5px,#1467ca 123.5px,#1a5fcc 125.5px,#314fbf 129.5px,#3d3fa8 137.5px,#3f3b9c 147.5px,#3f3a9b 173.5px)"></i>
<i style="background:linear-gradient(90deg,#3f3a9b 0.5px,#3f3a9b 56.5px,#3e3ea5 68.5px,#3748bb 74.5px,#284fc7 76.5px,#1758cd 78.5px,#1c6bc9 82.5px,#1484c1 86.5px,#1d8cb4 88.5px,#47969a 91.5px,#719482 94.5px,#8b8f74 97.5px,#9d8d65 101.5px,#9f905f 104.5px,#9f905f 107.5px,#9b8b69 111.5px,#858e79 115.5px,#65938a 118.5px,#45949b 120.5px,#268dae 122.5px,#1585bc 124.5px,#187bc4 126.5px,#2268c6 129.5px,#1857ca 133.5px,#294ec5 135.5px,#3747b9 137.5px,#3d41ac 140.5px,#3f3da2 144.5px,#3f3b9d 149.5px,#3f3a9b 173.5px)"></i>
<i style="background:linear-gradient(90deg,#3f3a9b 0.5px,#3f3a9b 56.5px,#3e3ea4 68.5px,#3747b9 74.5px,#294ec5 76.5px,#1857ca 78.5px,#2268c6 82.5px,#226ec5 83.5px,#177bc5 85.5px,#1486bc 87.5px,#268eae 89.5px,#46949b 91.5px,#729283 94.5px,#8c8e74 97.5px,#9d8d65 101.5px,#9f915e 104.5px,#9f915d 107.5px,#9b8d67 111.5px,#839277 115.5px,#649888 118.5px,#45999a 120.5px,#2892ac 122.5px,#168aba 124.5px,#1680c4 126.5px,#1d72c7 128.5px,#125bd0 133.5px,#1955ce 134.5px,#304cc4 136.5px,#3946b8 138.5px,#3d42af 140.5px,#3f3ea4 144.5px,#3f3b9d 150.5px,#3f3a9b 173.5px)"></i>
<i style="background:linear-gradient(90deg,#3f3a9b 0.5px,#3f3a9b 59.5px,#3e3da3 72.5px,#334ebc 82.5px,#2159c8 85.5px,#1561c9 87.5px,#3075b7 94.5px,#3685a9 101.5px,#3b8aa0 107.5px,#3989a2 113.5px,#2e85af 119.5px,#256dc1 127.5px,#175dca 132.5px,#2255c8 134.5px,#314ebf 136.5px,#3b45b0 140.5px,#3f3b9e 152.5px,#3f3a9b 173.5px)"></i>
<i style="background:linear-gradient(90deg,#3f3a9b 0.5px,#3f3a9b 63.5px,#3e3da3 76.5px,#3844b2 82.5px,#264cbc 85.5px,#2252bd 87.5px,#295eb8 91.5px,#2569b4 94.5px,#276fad 96.5px,#457699 100.5px,#5c748d 103.5px,#71707f 108.5px,#737478 113.5px,#736f7d 120.5px,#6f6d84 123.5px,#636e8c 126.5px,#4e7097 129.5px,#326da6 132.5px,#2765b1 135.5px,#2f58b4 139.5px,#294bb6 144.5px,#3c41ab 149.5px,#3f3b9e 157.5px,#3f3a9b 173.5px)"></i>
<i style="background:linear-gradient(90deg,#3f3a9b 0.5px,#3f3a9c 63.5px,#3e3ea6 75.5px,#3c44b3 79.5px,#344bc3 82.5px,#2054d1 84.5px,#1359d5 85.5px,#0e5fd7 86.5px,#177bce 91.5px,#108bcb 93.5px,#0e98c1 95.5px,#139eba 96.5px,#1ea3b0 97.5px,#2da7a6 98.5px,#55ad8d 100.5px,#8ea86f 103.5px,#a9a361 105.5px,#bd9e55 107.5px,#ca9d49 109.5px,#d0a43a 113.5px,#cfa638 116.5px,#d0a23c 119.5px,#ca9d49 122.5px,#bd9e54 124.5px,#aaa360 126.5px,#7eab77 129.5px,#55ac8e 131.5px,#2ea7a5 133.5px,#169fb9 135.5px,#1299c0 136.5px,#167cce 140.5px,#0b66d8 144.5px,#0f5fd7 145.5px,#1a5ad5 146.5px,#2b50c9 148.5px,#3946b9 151.5px,#3e40a9 155.5px,#3f3ca1 159.5px,#3f3a9b 173.5px)"></i>
<i style="background:linear-gradient(90deg,#3f3a9b 0.5px,#3f3a9c 64.5px,#3f3c9f 72.5px,#3e3fa7 77.5px,#3c43b1 80.5px,#354ac1 83.5px,#1f57d5 86.5px,#0a63dc 88.5px,#0869dc 89.5px,#1382d2 93.5px,#0c99c9 96.5px,#13a6bb 98.5px,#1dabb1 99.5px,#41b299 101.5px,#6db581 103.5px,#94b16b 105.5px,#b1ab5c 107.5px,#c5a64f 109.5px,#d3a444 111.5px,#daa935 114.5px,#daae31 117.5px,#daac33 120.5px,#d5a541 124.5px,#c8a54e 126.5px,#b3aa5a 128.5px,#97af6a 130.5px,#4bb394 134.5px,#36b1a1 135.5px,#18a7b7 137.5px,#0c9bc6 139.5px,#0d8dd0 141.5px,#127dd4 143.5px,#106bda 146.5px,#0f60d9 148.5px,#145ad6 149.5px,#2055d2 150.5px,#2c50cc 151.5px,#3849be 153.5px,#3e41ac 157.5px,#3f3da2 161.5px,#3f3a9b 173.5px)"></i>
<i style="background:linear-gradient(90deg,#3f3a9b 0.5px,#3f3a9b 65.5px,#3e3ea4 78.5px,#3846b7 84.5px,#2e4cc2 86.5px,#1b54c9 88.5px,#1858ca 89.5px,#216dc4 94.5px,#187ac3 96.5px,#1684bc 98.5px,#248cae 100.5px,#509394 103.5px,#6d9284 105.5px,#818e79 107.5px,#9b8968 111.5px,#a28d5d 114.5px,#a19159 121.5px,#a18c5f 124.5px,#958c6c 127.5px,#75937f 131.5px,#4d9695 134.5px,#248dae 137.5px,#1786bc 139.5px,#1e6fc6 143.5px,#1659cd 148.5px,#1a55cc 149.5px,#2450c9 150.5px,#2e4cc4 151.5px,#3946b8 153.5px,#3e40a9 157.5px,#3f3da1 161.5px,#3f3a9b 173.5px)"></i>
<i style="background:linear-gradient(90deg,#3f3a9b 0.5px,#3f3a9b 68.5px,#3e3da2 82.5px,#344ab6 93.5px,#2058bc 98.5px,#3867ac 106.5px,#3a759e 120.5px,#3973a2 126.5px,#2f6fad 133.5px,#255dbb 141.5px,#2250bf 146.5px,#3446b6 150.5px,#3c41ad 153.5px,#3f3c9f 161.5px,#3f3a9b 173.5px)"></i>
<i style="background:linear-gradient(90deg,#3f3a9b 0.5px,#3f3a9b 73.5px,#3f3c9f 88.5px,#3c3ea4 93.5px,#3343a8 98.5px,#354da4 108.5px,#3c509e 112.5px,#484f96 120.5px,#495194 127.5px,#4a4c98 137.5px,#3947a3 150.5px,#3f3a9c 173.5px)"></i>
<i style="background:linear-gradient(90deg,#3f3a9b 0.5px,#3f3a9b 72.5px,#3f3da2 86.5px,#3845b4 93.5px,#1f51c2 97.5px,#2665bb 103.5px,#1f77b4 107.5px,#287da9 109.5px,#4a8494 112.5px,#78807b 116.5px,#987967 121.5px,#9b7e5d 124.5px,#9a8259 127.5px,#9a8259 131.5px,#9c7c5e 135.5px,#95796a 138.5px,#7d7f79 142.5px,#6a8283 144.5px,#508491 146.5px,#2c7ea6 149.5px,#2179b2 151.5px,#2663bc 156.5px,#1d52c2 161.5px,#3248ba 164.5px,#3944b2 166.5px,#3f3da2 173.5px)"></i>
<i style="background:linear-gradient(90deg,#3f3a9b 0.5px,#3f3a9c 73.5px,#3f3c9f 81.5px,#3e3fa8 87.5px,#364ac0 93.5px,#2951ce 95.5px,#1e56d4 96.5px,#0e61db 98.5px,#0c6bda 100.5px,#147cd3 103.5px,#0e92cc 106.5px,#0d9fc1 108.5px,#1ea9b0 110.5px,#2daea5 111.5px,#56b28d 113.5px,#7eb178 115.5px,#9fac66 117.5px,#b7a658 119.5px,#caa24b 121.5px,#d6a63a 124.5px,#d5b02f 128.5px,#d5b12f 132.5px,#d7a739 136.5px,#cca349 139.5px,#afa85d 142.5px,#94ae6c 144.5px,#6fb27f 146.5px,#24aaac 150.5px,#12a1bf 152.5px,#0e9ac5 153.5px,#1286d0 156.5px,#0b68da 161.5px,#1062da 162.5px,#3748bd 168.5px,#3e40a9 173.5px)"></i>
<i style="background:linear-gradient(90deg,#3f3a9b 0.5px,#3f3a9c 74.5px,#3f3b9f 82.5px,#3e3fa8 88.5px,#3c45b5 92.5px,#334cc6 95.5px,#195ada 98.5px,#0666e0 100.5px,#1283d5 105.5px,#09a2c9 109.5px,#0ba8c2 110.5px,#20b2ae 112.5px,#32b6a2 113.5px,#5dbb89 115.5px,#88b972 117.5px,#b7b059 120.5px,#cdab4b 122.5px,#dca93e 124.5px,#e2b22e 127.5px,#dfb927 131.5px,#e0b729 135.5px,#e0ab37 139.5px,#d5aa45 141.5px,#c3ad52 143.5px,#a9b360 145.5px,#88b872 147.5px,#5ebb89 149.5px,#23b2ad 152.5px,#0da8c0 154.5px,#099bce 156.5px,#0c93d1 157.5px,#1184d5 159.5px,#0866de 164.5px,#0d60dd 165.5px,#185bda 166.5px,#324dc6 169.5px,#3c43b1 173.5px)"></i>
<i style="background:linear-gradient(90deg,#3f3a9b 0.5px,#3f3a9b 75.5px,#3e3ea5 89.5px,#3d42b0 93.5px,#3748bd 96.5px,#2c4fc9 98.5px,#105dd6 101.5px,#0c62d6 102.5px,#187bcc 107.5px,#1095c1 111.5px,#1b9fb1 113.5px,#39a69e 115.5px,#5fa988 117.5px,#83a675 119.5px,#9ea166 121.5px,#c29950 125.5px,#ca9b45 127.5px,#c9a539 131.5px,#c8a737 135.5px,#caa03e 139.5px,#c5994c 142.5px,#a59f62 146.5px,#7da778 149.5px,#46a896 152.5px,#25a1ab 154.5px,#1298bc 156.5px,#118dc6 158.5px,#1879cd 161.5px,#1060d5 166.5px,#1a56d1 168.5px,#344ac1 171.5px,#3a45b6 173.5px)"></i>
<i style="background:linear-gradient(90deg,#3f3a9b 0.5px,#3f3b9e 90.5px,#3c3ea6 97.5px,#3045ac 102.5px,#344ca9 107.5px,#3155a5 112.5px,#3657a0 114.5px,#465a97 117.5px,#59588d 121.5px,#645586 125.5px,#66587f 131.5px,#675781 140.5px,#655585 143.5px,#5b578c 147.5px,#445a98 152.5px,#3256a3 156.5px,#3144ac 167.5px,#3d3ea4 173.5px)"></i>
</div>
<div class="hm" style="left:265px;top:235px;width:173px;height:68px">
<i></i>
<i></i>
<i style="background:linear-gradient(90deg,#3f3a9b 0.5px,#3f3a9b 10.5px,#383fa3 11.5px,#3846a1 12.5px,#4e4893 14.5px,#52478f 16.5px,#524790 21.5px,#39489f 25.5px,#383fa3 29.5px,#3f3a9b 33.5px,#3f3a9b 172.5px)"></i>
<i style="background:linear-gradient(90deg,#3f3a9b 0.5px,#3f3a9b 10.5px,#2051be 11.5px,#226db4 12.5px,#477b96 13.5px,#7e7578 14.5px,#8d716e 15.5px,#917269 16.5px,#917664 18.5px,#8e716d 21.5px,#7b767a 22.5px,#617a88 23.5px,#3e7a9b 24.5px,#2674ab 25.5px,#236bb6 26.5px,#2a5fb8 27.5px,#2051be 29.5px,#2f49ba 30.5px,#3a43b0 31.5px,#3f3a9b 33.5px,#3f3a9b 172.5px)"></i>
<i style="background:linear-gradient(90deg,#3f3a9b 0.5px,#3f3a9b 10.5px,#3442a7 11.5px,#354ca4 12.5px,#40519a 13.5px,#534f90 14.5px,#5b4f89 17.5px,#594e8c 21.5px,#364ea1 25.5px,#3442a7 29.5px,#3d3da2 31.5px,#3f3a9b 33.5px,#3f3a9b 172.5px)"></i>
<i style="background:linear-gradient(90deg,#3f3a9b 0.5px,#3f3a9b 10.5px,#3044ac 11.5px,#3251a8 12.5px,#3b599d 13.5px,#56588e 14.5px,#5e578a 15.5px,#635587 17.5px,#5f5689 21.5px,#38589f 24.5px,#3155a5 25.5px,#344baa 27.5px,#3044ac 29.5px,#3d3ea4 31.5px,#3f3a9b 33.5px,#3f3a9b 172.5px)"></i>
<i style="background:linear-gradient(90deg,#3f3a9b 0.5px,#3f3a9b 10.5px,#3c3f9e 12.5px,#454198 14.5px,#484096 17.5px,#464197 21.5px,#3c409d 25.5px,#3f3a9b 33.5px,#3f3a9b 172.5px)"></i>
<i style="background:linear-gradient(90deg,#3f3a9b 0.5px,#3e3c9c 12.5px,#423c99 16.5px,#3e3b9c 29.5px,#3f3a9b 172.5px)"></i>
<i style="background:linear-gradient(90deg,#3f3a9b 0.5px,#3f3a9b 10.5px,#3045ac 11.5px,#3153a7 12.5px,#435998 13.5px,#5d568a 14.5px,#665583 16.5px,#655485 21.5px,#4f5992 23.5px,#3356a3 25.5px,#354ca9 27.5px,#3045ac 29.5px,#3d3ea5 31.5px,#3f3a9b 33.5px,#3f3a9b 172.5px)"></i>
<i style="background:linear-gradient(90deg,#3f3a9b 0.5px,#3f3a9b 10.5px,#0f5ed2 11.5px,#128ac2 12.5px,#4ca093 13.5px,#a29565 14.5px,#b99055 15.5px,#bf924c 16.5px,#bf9845 17.5px,#bf9746 18.5px,#bb9053 21.5px,#9c9768 22.5px,#739e7d 23.5px,#3e9e9a 24.5px,#1894b4 25.5px,#1386c4 26.5px,#1e74c8 27.5px,#0f5ed2 29.5px,#2651cc 30.5px,#3848bb 31.5px,#3f3a9b 33.5px,#3f3a9b 172.5px)"></i>
<i style="background:linear-gradient(90deg,#3f3a9b 0.5px,#3f3a9b 10.5px,#2052bf 11.5px,#226fb5 12.5px,#477d96 13.5px,#807677 14.5px,#8f726d 15.5px,#937367 16.5px,#937763 18.5px,#90726c 21.5px,#7c7779 22.5px,#617c87 23.5px,#3e7c9b 24.5px,#2575ab 25.5px,#226cb6 26.5px,#2960b8 27.5px,#1f52bf 29.5px,#2e49bb 30.5px,#3a43b0 31.5px,#3f3a9b 33.5px,#3f3a9b 172.5px)"></i>
<i style="background:linear-gradient(90deg,#3f3a9b 0.5px,#3f3a9b 10.5px,#3442a7 11.5px,#354ca4 12.5px,#425199 13.5px,#554e8f 14.5px,#5c4e89 16.5px,#5b4d8b 21.5px,#364ea1 25.5px,#3442a7 29.5px,#3d3da2 31.5px,#3f3a9b 33.5px,#3f3a9b 172.5px)"></i>
<i style="background:linear-gradient(90deg,#3f3a9b 0.5px,#3f3a9b 10.5px,#2150bd 11.5px,#246bb3 12.5px,#477996 13.5px,#7c7279 14.5px,#8a6f70 15.5px,#8e706b 16.5px,#8e7366 18.5px,#8b6f6f 21.5px,#5f7889 23.5px,#3e789b 24.5px,#2772aa 25.5px,#2469b5 26.5px,#2a5eb6 27.5px,#2150bd 29.5px,#2f48b9 30.5px,#3b42af 31.5px,#3f3a9b 33.5px,#3f3a9b 172.5px)"></i>
<i style="background:linear-gradient(90deg,#3f3a9b 0.5px,#3f3a9b 10.5px,#1f53c0 11.5px,#2170b5 12.5px,#477f96 13.5px,#827876 14.5px,#92746c 15.5px,#957566 16.5px,#957961 18.5px,#93746b 21.5px,#7e7978 22.5px,#627e87 23.5px,#3e7e9b 24.5px,#2577ac 25.5px,#226db7 26.5px,#2861b9 27.5px,#1f52c0 29.5px,#2e49bc 30.5px,#3a43b1 31.5px,#3f3a9b 33.5px,#3f3a9b 172.5px)"></i>
<i style="background:linear-gradient(90deg,#3f3a9b 0.5px,#3f3a9b 10.5px,#264db7 11.5px,#2863af 12.5px,#456e97 13.5px,#72697f 14.5px,#7e6677 15.5px,#816773 16.5px,#806a6f 18.5px,#7e6676 21.5px,#5a6d8c 23.5px,#3e6d9b 24.5px,#2b68a8 25.5px,#2961b0 26.5px,#2e58b2 27.5px,#264cb7 29.5px,#3b41ac 31.5px,#3f3a9b 33.5px,#3f3a9b 172.5px)"></i>
<i style="background:linear-gradient(90deg,#3f3a9b 0.5px,#3f3a9b 10.5px,#1f52bf 11.5px,#226fb5 12.5px,#477d96 13.5px,#807677 14.5px,#90736d 15.5px,#937467 16.5px,#937863 18.5px,#91736c 21.5px,#7c7779 22.5px,#627c87 23.5px,#3e7c9b 24.5px,#2576ab 25.5px,#226cb6 26.5px,#2961b8 27.5px,#1f52bf 29.5px,#2e49bb 30.5px,#3a43b0 31.5px,#3f3a9b 33.5px,#3f3a9b 172.5px)"></i>
<i style="background:linear-gradient(90deg,#3f3a9b 0.5px,#3f3a9b 10.5px,#3144ab 11.5px,#3251a6 12.5px,#435799 13.5px,#5b548b 14.5px,#645384 16.5px,#635386 21.5px,#4e5792 23.5px,#3454a2 25.5px,#3144ab 29.5px,#3d3ea4 31.5px,#3f3a9b 33.5px,#3f3a9b 172.5px)"></i>
<i style="background:linear-gradient(90deg,#3f3a9b 0.5px,#3f3a9b 10.5px,#1c54c3 11.5px,#1f74b7 12.5px,#488495 13.5px,#877c73 14.5px,#987868 15.5px,#9c7a62 16.5px,#9c7e5d 18.5px,#997867 21.5px,#827d76 22.5px,#658385 23.5px,#3e839b 24.5px,#237cad 25.5px,#1f71b9 26.5px,#2764bb 27.5px,#1c54c3 29.5px,#2d4bbe 30.5px,#3a44b2 31.5px,#3f3a9b 33.5px,#3f3a9b 172.5px)"></i>
<i style="background:linear-gradient(90deg,#3f3a9b 0.5px,#3f3a9b 10.5px,#2350bc 11.5px,#256ab2 12.5px,#467796 13.5px,#79707b 14.5px,#876d71 15.5px,#8b6e6c 16.5px,#8b7168 18.5px,#886d70 21.5px,#5e7689 23.5px,#3e759b 24.5px,#2870aa 25.5px,#2567b4 26.5px,#2b5db5 27.5px,#224fbc 29.5px,#3b42ae 31.5px,#3f3a9b 33.5px,#3f3a9b 172.5px)"></i>
<i style="background:linear-gradient(90deg,#3f3a9b 0.5px,#3f3a9b 10.5px,#3a3ea1 11.5px,#3a429f 12.5px,#494495 14.5px,#4c4393 16.5px,#4c4393 21.5px,#3b449e 25.5px,#3a3ea1 29.5px,#3f3a9b 33.5px,#3f3a9b 172.5px)"></i>
<i></i>
<i style="background:linear-gradient(90deg,#3f3a9b 0.5px,#3f3a9b 10.5px,#383fa3 11.5px,#3846a1 12.5px,#4d4893 14.5px,#52478f 17.5px,#514791 21.5px,#39479f 25.5px,#383fa3 29.5px,#3f3a9b 33.5px,#3f3a9b 172.5px)"></i>
<i style="background:linear-gradient(90deg,#3f3a9b 0.5px,#3f3a9b 10.5px,#2051be 11.5px,#236cb5 12.5px,#437b98 13.5px,#7b767a 14.5px,#8a7171 15.5px,#917367 17.5px,#8b7170 21.5px,#77767c 22.5px,#5c7b8a 23.5px,#3b7a9d 24.5px,#2473ac 25.5px,#246ab6 26.5px,#295fb8 27.5px,#2051be 29.5px,#3b42af 31.5px,#3f3a9b 33.5px,#3f3a9b 172.5px)"></i>
<i style="background:linear-gradient(90deg,#3f3a9b 0.5px,#3f3a9b 10.5px,#383fa3 11.5px,#3846a1 12.5px,#4d4893 14.5px,#52478f 17.5px,#514791 21.5px,#39479f 25.5px,#383fa3 29.5px,#3f3a9b 33.5px,#3f3a9b 172.5px)"></i>
<i></i>
<i></i>
<i></i>
<i></i>
<i></i>
<i></i>
<i style="background:linear-gradient(90deg,#3f3a9b 0.5px,#3f3a9b 10.5px,#3c3f9e 12.5px,#444198 14.5px,#474097 17.5px,#464097 21.5px,#3c409d 25.5px,#3f3a9b 33.5px,#3f3a9b 172.5px)"></i>
<i style="background:linear-gradient(90deg,#3f3a9b 0.5px,#3f3a9b 10.5px,#3243ab 11.5px,#334fa7 12.5px,#3b569d 13.5px,#54568f 14.5px,#5b548b 15.5px,#605388 17.5px,#5c548b 21.5px,#39559f 24.5px,#3252a4 25.5px,#3549a8 27.5px,#3243ab 29.5px,#3d3da3 31.5px,#3f3a9b 33.5px,#3f3a9b 172.5px)"></i>
<i style="background:linear-gradient(90deg,#3f3a9b 0.5px,#3f3a9b 10.5px,#3c3f9e 12.5px,#444198 14.5px,#474097 17.5px,#464097 21.5px,#3c409d 25.5px,#3f3a9b 33.5px,#3f3a9b 172.5px)"></i>
<i style="background:linear-gradient(90deg,#3f3a9b 0.5px,#3f3a9b 10.5px,#3c409e 12.5px,#464197 14.5px,#494195 17.5px,#484196 21.5px,#3c419d 25.5px,#3b3d9f 29.5px,#3f3a9b 33.5px,#3f3a9b 172.5px)"></i>
<i style="background:linear-gradient(90deg,#3f3a9b 0.5px,#3f3a9b 10.5px,#2c48b1 11.5px,#2d59ab 12.5px,#416299 13.5px,#645f87 14.5px,#6d5c81 15.5px,#725d7b 17.5px,#6e5c80 21.5px,#516291 23.5px,#3c619c 24.5px,#2f5da6 25.5px,#3251ad 27.5px,#2c48b1 29.5px,#3c3fa7 31.5px,#3f3a9b 33.5px,#3f3a9b 172.5px)"></i>
<i style="background:linear-gradient(90deg,#3f3a9b 0.5px,#3f3a9b 10.5px,#2c48b1 11.5px,#2d59ab 12.5px,#416299 13.5px,#645f87 14.5px,#6d5c81 15.5px,#725d7b 17.5px,#6e5c80 21.5px,#516291 23.5px,#3c619c 24.5px,#2f5da6 25.5px,#3251ad 27.5px,#2c48b1 29.5px,#3c3fa7 31.5px,#3f3a9b 33.5px,#3f3a9b 172.5px)"></i>
<i style="background:linear-gradient(90deg,#3f3a9b 0.5px,#3f3a9b 10.5px,#3343a8 11.5px,#344da5 12.5px,#425399 13.5px,#56508e 14.5px,#5c4f8a 15.5px,#5e5087 18.5px,#5d4f8a 21.5px,#4b5294 23.5px,#3550a1 25.5px,#3343a8 29.5px,#3d3da3 31.5px,#3f3a9b 33.5px,#3f3a9b 172.5px)"></i>
<i style="background:linear-gradient(90deg,#3f3a9b 0.5px,#3f3a9b 10.5px,#1957c6 11.5px,#1c79ba 12.5px,#498b95 13.5px,#8d8270 14.5px,#a07e63 15.5px,#a47f5d 16.5px,#a48457 17.5px,#a48457 18.5px,#a17e62 21.5px,#898472 22.5px,#698a83 23.5px,#3e899b 24.5px,#2082af 25.5px,#1c76bc 26.5px,#2468be 27.5px,#1957c7 29.5px,#2b4cc2 30.5px,#3945b5 31.5px,#3f3a9b 33.5px,#3f3a9b 172.5px)"></i>
<i style="background:linear-gradient(90deg,#3f3a9b 0.5px,#3f3a9b 10.5px,#254eb9 11.5px,#2766b0 12.5px,#467297 13.5px,#756c7d 14.5px,#826975 15.5px,#856a70 16.5px,#856d6c 18.5px,#836974 21.5px,#5c718b 23.5px,#3e719b 24.5px,#2a6ba9 25.5px,#2764b2 26.5px,#2d5ab3 27.5px,#254eb9 29.5px,#3b41ad 31.5px,#3f3a9b 33.5px,#3f3a9b 172.5px)"></i>
<i style="background:linear-gradient(90deg,#3f3a9b 0.5px,#3f3a9b 10.5px,#2d48af 11.5px,#2e58aa 12.5px,#446098 13.5px,#645c87 14.5px,#6d5a81 15.5px,#6f5b7e 16.5px,#6f5d7b 18.5px,#6d5a80 21.5px,#536090 23.5px,#305ca4 25.5px,#3250ac 27.5px,#2d47af 29.5px,#3c3fa7 31.5px,#3f3a9b 33.5px,#3f3a9b 172.5px)"></i>
<i style="background:linear-gradient(90deg,#3f3a9b 0.5px,#3f3a9b 10.5px,#115dcf 11.5px,#1586c0 12.5px,#4b9b93 13.5px,#9d9167 14.5px,#b38b59 15.5px,#b88d50 16.5px,#b89349 17.5px,#b8924a 18.5px,#b48b57 21.5px,#97926a 22.5px,#71997f 23.5px,#3e999a 24.5px,#1a90b2 25.5px,#1682c2 26.5px,#1f71c5 27.5px,#115ccf 29.5px,#2750c9 30.5px,#3847ba 31.5px,#3f3a9b 33.5px,#3f3a9b 172.5px)"></i>
<i style="background:linear-gradient(90deg,#3f3a9b 0.5px,#3f3a9b 10.5px,#294bb4 11.5px,#2a5fad 12.5px,#456997 13.5px,#6d6482 14.5px,#77627b 15.5px,#7a6377 16.5px,#7a6574 18.5px,#78627a 21.5px,#57688d 23.5px,#3f689b 24.5px,#2d64a6 25.5px,#2b5dae 26.5px,#3055b0 27.5px,#294bb4 29.5px,#3c40aa 31.5px,#3f3a9b 33.5px,#3f3a9b 172.5px)"></i>
<i style="background:linear-gradient(90deg,#3f3a9b 0.5px,#3f3a9b 10.5px,#3a3ea1 11.5px,#3a429f 12.5px,#494495 14.5px,#4c4392 18.5px,#4c4394 21.5px,#3b439e 25.5px,#3a3ea1 29.5px,#3f3a9b 33.5px,#3f3a9b 172.5px)"></i>
<i style="background:linear-gradient(90deg,#3f3a9b 0.5px,#3f3a9b 10.5px,#3045ac 11.5px,#3152a7 12.5px,#41599a 13.5px,#5c578b 14.5px,#635587 15.5px,#665582 17.5px,#635486 21.5px,#4d5993 23.5px,#3255a3 25.5px,#354ca9 27.5px,#3045ac 29.5px,#3d3ea5 31.5px,#3f3a9b 33.5px,#3f3a9b 172.5px)"></i>
<i style="background:linear-gradient(90deg,#3f3a9b 0.5px,#3f3a9b 10.5px,#244eba 11.5px,#2667b2 12.5px,#427498 13.5px,#746f7e 14.5px,#826c75 15.5px,#886d6c 17.5px,#836b75 21.5px,#59748c 23.5px,#3b739d 24.5px,#276daa 25.5px,#2665b3 26.5px,#2c5bb5 27.5px,#244eba 29.5px,#3b42ad 31.5px,#3f3a9b 33.5px,#3f3a9b 172.5px)"></i>
<i style="background:linear-gradient(90deg,#3f3a9b 0.5px,#3f3a9b 10.5px,#3641a6 11.5px,#3649a3 12.5px,#3f4e9b 13.5px,#504d92 14.5px,#584c8c 17.5px,#554b8f 21.5px,#374ba1 25.5px,#3641a6 29.5px,#3e3da1 31.5px,#3f3a9b 33.5px,#3f3a9b 172.5px)"></i>
<i style="background:linear-gradient(90deg,#3f3a9b 0.5px,#3f3a9b 10.5px,#3044ac 11.5px,#3251a8 12.5px,#3b599d 13.5px,#56588e 14.5px,#5e578a 15.5px,#635587 17.5px,#5f5689 21.5px,#38589f 24.5px,#3155a5 25.5px,#344baa 27.5px,#3044ac 29.5px,#3d3ea4 31.5px,#3f3a9b 33.5px,#3f3a9b 172.5px)"></i>
<i style="background:linear-gradient(90deg,#3f3a9b 0.5px,#3f3a9b 10.5px,#3c3f9e 12.5px,#454198 14.5px,#484096 17.5px,#464197 21.5px,#3c409d 25.5px,#3f3a9b 33.5px,#3f3a9b 172.5px)"></i>
<i></i>
<i></i>
<i style="background:linear-gradient(90deg,#3f3a9b 0.5px,#3f3a9b 10.5px,#3c3e9e 12.5px,#444098 14.5px,#463f97 17.5px,#453f98 21.5px,#3c3f9d 25.5px,#3f3a9b 33.5px,#3f3a9b 172.5px)"></i>
<i style="background:linear-gradient(90deg,#3f3a9b 0.5px,#3f3a9b 10.5px,#3342a9 11.5px,#344da6 12.5px,#3c539d 13.5px,#525390 14.5px,#5d508a 17.5px,#59518d 21.5px,#39539e 24.5px,#3450a3 25.5px,#3342a9 29.5px,#3e3da3 31.5px,#3f3a9b 33.5px,#3f3a9b 172.5px)"></i>
<i style="background:linear-gradient(90deg,#3f3a9b 0.5px,#3f3a9b 10.5px,#3c3e9e 12.5px,#444098 14.5px,#463f97 17.5px,#453f98 21.5px,#3c3f9d 25.5px,#3f3a9b 33.5px,#3f3a9b 172.5px)"></i>
<i></i>
<i></i>
<i style="background:linear-gradient(90deg,#3f3a9b 0.5px,#3f3a9b 10.5px,#3c409e 12.5px,#464197 14.5px,#484095 17.5px,#474096 21.5px,#3c409d 25.5px,#3c3c9f 29.5px,#3f3a9b 33.5px,#3f3a9b 172.5px)"></i>
<i style="background:linear-gradient(90deg,#3f3a9b 0.5px,#3f3a9b 10.5px,#2d47af 11.5px,#2f57aa 12.5px,#415f99 13.5px,#615c88 14.5px,#6a5a83 15.5px,#6e5b7d 17.5px,#6b5a82 21.5px,#505f91 23.5px,#3c5f9c 24.5px,#305ba5 25.5px,#334fac 27.5px,#2d47af 29.5px,#3d3fa7 31.5px,#3f3a9b 33.5px,#3f3a9b 172.5px)"></i>
<i style="background:linear-gradient(90deg,#3f3a9b 0.5px,#3f3a9b 10.5px,#294ab4 11.5px,#2b5ead 12.5px,#426899 13.5px,#6a6483 14.5px,#75617d 15.5px,#796376 17.5px,#75617c 21.5px,#54688f 23.5px,#3c679c 24.5px,#2c63a7 25.5px,#3054af 27.5px,#294ab4 29.5px,#3c40a9 31.5px,#3f3a9b 33.5px,#3f3a9b 172.5px)"></i>
<i style="background:linear-gradient(90deg,#3f3a9b 0.5px,#3f3a9b 10.5px,#2250bc 11.5px,#246ab2 12.5px,#467796 13.5px,#79717b 14.5px,#886d71 15.5px,#8b7268 17.5px,#8b7168 18.5px,#896d71 21.5px,#5e7689 23.5px,#3e769b 24.5px,#2870aa 25.5px,#2567b4 26.5px,#2b5db6 27.5px,#224fbc 29.5px,#3b42ae 31.5px,#3f3a9b 33.5px,#3f3a9b 172.5px)"></i>
<i style="background:linear-gradient(90deg,#3f3a9b 0.5px,#3f3a9b 10.5px,#1957c6 11.5px,#1c79ba 12.5px,#498b95 13.5px,#8d8270 14.5px,#a07e63 15.5px,#a47f5d 16.5px,#a48457 17.5px,#a48457 18.5px,#a17e62 21.5px,#898472 22.5px,#698a83 23.5px,#3e899b 24.5px,#2082af 25.5px,#1c76bc 26.5px,#2468be 27.5px,#1957c7 29.5px,#2b4cc2 30.5px,#3945b5 31.5px,#3f3a9b 33.5px,#3f3a9b 172.5px)"></i>
<i style="background:linear-gradient(90deg,#3f3a9b 0.5px,#3f3a9b 10.5px,#3641a5 11.5px,#3749a2 12.5px,#514b91 14.5px,#564a8d 16.5px,#564a8e 21.5px,#384ba0 25.5px,#3641a5 29.5px,#3e3ca1 31.5px,#3f3a9b 33.5px,#3f3a9b 172.5px)"></i>
<i style="background:linear-gradient(90deg,#3f3a9b 0.5px,#3f3a9b 10.5px,#3244aa 11.5px,#3350a6 12.5px,#425699 13.5px,#5a538c 14.5px,#625286 16.5px,#615187 21.5px,#4d5593 23.5px,#3453a2 25.5px,#3244aa 29.5px,#3d3ea4 31.5px,#3f3a9b 33.5px,#3f3a9b 172.5px)"></i>
<i style="background:linear-gradient(90deg,#3f3a9b 0.5px,#3f3a9b 10.5px,#105ed1 11.5px,#1389c1 12.5px,#4b9e93 13.5px,#a09466 14.5px,#b78e56 15.5px,#bd904e 16.5px,#bc9646 17.5px,#bd9647 18.5px,#b98e55 21.5px,#9a9569 22.5px,#739d7e 23.5px,#3e9c9a 24.5px,#1993b3 25.5px,#1485c4 26.5px,#1e73c7 27.5px,#105dd1 29.5px,#2650cb 30.5px,#3847bb 31.5px,#3f3a9b 33.5px,#3f3a9b 172.5px)"></i>
<i style="background:linear-gradient(90deg,#3f3a9b 0.5px,#3f3a9b 10.5px,#2151bd 11.5px,#236cb3 12.5px,#477996 13.5px,#7c7379 14.5px,#8b6f70 15.5px,#8e706a 16.5px,#8e7466 18.5px,#8c6f6f 21.5px,#607888 23.5px,#3e789b 24.5px,#2772aa 25.5px,#2469b5 26.5px,#2a5eb7 27.5px,#2150bd 29.5px,#2f48b9 30.5px,#3a42af 31.5px,#3f3a9b 33.5px,#3f3a9b 172.5px)"></i>
<i style="background:linear-gradient(90deg,#3f3a9b 0.5px,#3f3a9b 10.5px,#383fa3 11.5px,#3946a1 12.5px,#4c4894 14.5px,#51488f 17.5px,#504791 21.5px,#39479f 25.5px,#383fa3 29.5px,#3f3a9b 33.5px,#3f3a9b 172.5px)"></i>
<i style="background:linear-gradient(90deg,#3f3a9b 0.5px,#3f3a9b 10.5px,#3343a9 11.5px,#344da6 12.5px,#3c549d 13.5px,#535490 14.5px,#5e518a 17.5px,#5a528c 21.5px,#39539e 24.5px,#3351a4 25.5px,#3648a7 27.5px,#3343a9 29.5px,#3e3da3 31.5px,#3f3a9b 33.5px,#3f3a9b 172.5px)"></i>
<i style="background:linear-gradient(90deg,#3f3a9b 0.5px,#3f3a9b 10.5px,#3343a9 11.5px,#344da6 12.5px,#3c549d 13.5px,#535490 14.5px,#5e518a 17.5px,#5a528c 21.5px,#39539e 24.5px,#3351a4 25.5px,#3648a7 27.5px,#3343a9 29.5px,#3e3da3 31.5px,#3f3a9b 33.5px,#3f3a9b 172.5px)"></i>
<i style="background:linear-gradient(90deg,#3f3a9b 0.5px,#3f3a9b 10.5px,#3d3e9d 12.5px,#453e98 17.5px,#443f98 21.5px,#3d3e9d 25.5px,#3f3a9b 33.5px,#3f3a9b 172.5px)"></i>
</div>
<div class="hm" style="left:265px;top:314px;width:173px;height:68px">
<i style="background:linear-gradient(90deg,#3f3a9b 0.5px,#3f3a9b 10.5px,#393fa4 11.5px,#3748a2 13.5px,#434d98 15.5px,#544a8f 18.5px,#574b8c 27.5px,#3b4c9d 51.5px,#374aa1 59.5px,#3640a5 132.5px,#3e3ca0 138.5px,#3f3a9b 145.5px,#3f3a9b 172.5px)"></i>
<i style="background:linear-gradient(90deg,#3f3a9b 0.5px,#3f3a9b 10.5px,#2053cc 11.5px,#1485c2 13.5px,#2595aa 14.5px,#559d8e 15.5px,#849874 16.5px,#9f9266 17.5px,#af8e5c 18.5px,#ba8f4e 19.5px,#ba9647 22.5px,#bb914b 27.5px,#b68d56 30.5px,#a39164 34.5px,#7b9a79 40.5px,#5a9d8b 44.5px,#2c97a6 51.5px,#158eb8 59.5px,#148abf 63.5px,#1584c3 74.5px,#1e6fc7 116.5px,#1a67cc 125.5px,#115ad0 132.5px,#1d54ce 134.5px,#304cc3 136.5px,#3a45b6 138.5px,#3f3a9b 145.5px,#3f3a9b 172.5px)"></i>
<i style="background:linear-gradient(90deg,#3f3a9b 0.5px,#3f3a9b 10.5px,#2053cc 11.5px,#1485c2 13.5px,#2595aa 14.5px,#559d8e 15.5px,#849874 16.5px,#9f9266 17.5px,#af8e5c 18.5px,#ba8f4e 19.5px,#ba9647 22.5px,#bb914b 27.5px,#b68d56 30.5px,#a39164 34.5px,#7b9a79 40.5px,#5a9d8b 44.5px,#2c97a6 51.5px,#158eb8 59.5px,#148abf 63.5px,#1584c3 74.5px,#1e6fc7 116.5px,#1a67cc 125.5px,#115ad0 132.5px,#1d54ce 134.5px,#304cc3 136.5px,#3a45b6 138.5px,#3f3a9b 145.5px,#3f3a9b 172.5px)"></i>
<i style="background:linear-gradient(90deg,#3f3a9b 0.5px,#3f3a9b 10.5px,#393fa4 11.5px,#3748a2 13.5px,#434d98 15.5px,#544a8f 18.5px,#574b8c 27.5px,#3b4c9d 51.5px,#374aa1 59.5px,#3640a5 132.5px,#3e3ca0 138.5px,#3f3a9b 145.5px,#3f3a9b 172.5px)"></i>
<i></i>
<i style="background:linear-gradient(90deg,#3f3a9b 0.5px,#3f3a9b 10.5px,#393fa4 11.5px,#3748a3 13.5px,#3a4b9e 14.5px,#514b91 17.5px,#574b8c 21.5px,#544a8f 32.5px,#3c4c9d 50.5px,#374aa1 59.5px,#3640a5 126.5px,#3e3ca0 132.5px,#3f3a9b 139.5px,#3f3a9b 172.5px)"></i>
<i style="background:linear-gradient(90deg,#3f3a9b 0.5px,#3f3a9b 10.5px,#294cbf 11.5px,#2071b8 13.5px,#2b7da7 14.5px,#4d8392 15.5px,#70807f 16.5px,#847c75 17.5px,#9a7864 19.5px,#9b7b60 21.5px,#9a7864 28.5px,#8f796e 32.5px,#6f8180 39.5px,#57838d 43.5px,#3380a1 50.5px,#1f78b1 59.5px,#1f71b8 72.5px,#2762bc 110.5px,#1d51c2 126.5px,#2f4abd 129.5px,#3b42af 132.5px,#3f3a9b 139.5px,#3f3a9b 172.5px)"></i>
<i style="background:linear-gradient(90deg,#3f3a9b 0.5px,#3f3a9b 10.5px,#3a3ea4 11.5px,#3847a2 13.5px,#4f4992 17.5px,#54498d 21.5px,#524991 32.5px,#3c4a9c 50.5px,#3849a0 59.5px,#373fa4 126.5px,#3f3a9b 139.5px,#3f3a9b 172.5px)"></i>
<i style="background:linear-gradient(90deg,#3f3a9b 0.5px,#3f3a9b 10.5px,#3b419f 13.5px,#484296 18.5px,#4a4294 23.5px,#3b429e 56.5px,#3b3da0 121.5px,#3f3a9b 135.5px,#3f3a9b 172.5px)"></i>
<i style="background:linear-gradient(90deg,#3f3a9b 0.5px,#3f3a9b 10.5px,#3543ae 11.5px,#2f56ab 13.5px,#315da4 14.5px,#54608f 16.5px,#665d86 18.5px,#6b5b82 19.5px,#6f5b7f 23.5px,#655d86 32.5px,#3d609c 46.5px,#2e5ca6 56.5px,#324fad 103.5px,#2d47b0 121.5px,#3c3fa7 127.5px,#3f3a9b 135.5px,#3f3a9b 172.5px)"></i>
<i style="background:linear-gradient(90deg,#3f3a9b 0.5px,#3f3a9b 10.5px,#3a3ea3 11.5px,#3847a2 13.5px,#414b9a 15.5px,#514991 18.5px,#54498e 23.5px,#514991 32.5px,#3c4a9d 49.5px,#3849a0 58.5px,#3840a4 123.5px,#3f3a9b 141.5px,#3f3a9b 172.5px)"></i>
<i style="background:linear-gradient(90deg,#3f3a9b 0.5px,#3f3a9b 10.5px,#3244b0 11.5px,#2d59ac 13.5px,#3360a2 14.5px,#5b628b 16.5px,#675f85 17.5px,#735d7c 19.5px,#735f79 21.5px,#735e7b 28.5px,#6d5e82 32.5px,#4c6493 43.5px,#38629f 50.5px,#2d5da8 59.5px,#3151ae 112.5px,#2c47b1 129.5px,#3d3fa6 135.5px,#3f3a9b 142.5px,#3f3a9b 172.5px)"></i>
<i style="background:linear-gradient(90deg,#3f3a9b 0.5px,#3f3a9b 10.5px,#3244b0 11.5px,#2d59ac 13.5px,#3360a2 14.5px,#5b628b 16.5px,#675f85 17.5px,#735d7c 19.5px,#735f79 21.5px,#735e7b 28.5px,#6d5e82 32.5px,#4c6493 43.5px,#38629f 50.5px,#2d5da8 59.5px,#3151ae 112.5px,#2c47b1 129.5px,#3d3fa6 135.5px,#3f3a9b 142.5px,#3f3a9b 172.5px)"></i>
<i style="background:linear-gradient(90deg,#3f3a9b 0.5px,#3f3a9b 10.5px,#3a3ea3 11.5px,#3847a2 13.5px,#414b9a 15.5px,#514991 18.5px,#54498e 23.5px,#514991 32.5px,#3c4a9d 49.5px,#3849a0 58.5px,#3940a4 121.5px,#3f3a9b 141.5px,#3f3a9b 172.5px)"></i>
<i style="background:linear-gradient(90deg,#3f3a9b 0.5px,#3f3a9b 10.5px,#3543ae 11.5px,#2f56ab 13.5px,#315da4 14.5px,#54608f 16.5px,#665d86 18.5px,#6b5b82 19.5px,#6f5b7f 23.5px,#655d86 32.5px,#3d609c 46.5px,#2e5ca6 56.5px,#324fad 102.5px,#2d47b0 119.5px,#3c3fa7 125.5px,#3f3a9b 133.5px,#3f3a9b 172.5px)"></i>
<i style="background:linear-gradient(90deg,#3f3a9b 0.5px,#3f3a9b 10.5px,#3b419f 13.5px,#484296 18.5px,#4a4294 23.5px,#3b429e 56.5px,#3b3da0 119.5px,#3f3a9b 133.5px,#3f3a9b 172.5px)"></i>
<i></i>
<i style="background:linear-gradient(90deg,#3f3a9b 0.5px,#3f3a9b 10.5px,#3a3ea3 11.5px,#3847a2 13.5px,#524890 18.5px,#54498d 27.5px,#3848a0 59.5px,#373fa4 132.5px,#3f3a9b 145.5px,#3f3a9b 172.5px)"></i>
<i style="background:linear-gradient(90deg,#3f3a9b 0.5px,#3f3a9b 10.5px,#2251c9 11.5px,#1780c0 13.5px,#278fa9 14.5px,#54968e 15.5px,#809277 16.5px,#988c6a 17.5px,#a78860 18.5px,#b28954 19.5px,#b1904c 22.5px,#b28b50 27.5px,#ae875b 30.5px,#9c8b68 34.5px,#77937c 40.5px,#58968c 44.5px,#2d91a5 51.5px,#1889b6 59.5px,#187fc0 74.5px,#216cc4 116.5px,#1c64c9 125.5px,#1557cc 132.5px,#2052ca 134.5px,#314ac0 136.5px,#3a45b5 138.5px,#3f3a9b 145.5px,#3f3a9b 172.5px)"></i>
<i style="background:linear-gradient(90deg,#3f3a9b 0.5px,#3f3a9b 10.5px,#1d55d2 11.5px,#108dc7 13.5px,#23a0ac 14.5px,#58a88c 15.5px,#8ca370 16.5px,#aa9c60 17.5px,#bc9755 18.5px,#c89946 19.5px,#c7a03d 22.5px,#c99b42 27.5px,#c3964f 30.5px,#ae9b5e 34.5px,#82a475 40.5px,#5da889 44.5px,#2aa1a7 51.5px,#1098bb 59.5px,#0f92c3 63.5px,#108cc7 74.5px,#1a7cca 99.5px,#1b75cc 116.5px,#156cd1 125.5px,#0c5dd6 132.5px,#1a56d3 134.5px,#2f4dc8 136.5px,#3947b9 138.5px,#3d41ad 140.5px,#3f3a9b 145.5px,#3f3a9b 172.5px)"></i>
<i style="background:linear-gradient(90deg,#3f3a9b 0.5px,#3f3a9b 10.5px,#3344ae 11.5px,#2e57aa 13.5px,#355ea1 14.5px,#486196 15.5px,#5a5f8c 16.5px,#6b5b82 18.5px,#6f5e7a 22.5px,#6f5c7c 27.5px,#665c85 34.5px,#375e9f 51.5px,#2e5ba6 59.5px,#324fac 116.5px,#2d46b0 132.5px,#3d3ea6 138.5px,#3f3a9b 145.5px,#3f3a9b 172.5px)"></i>
<i style="background:linear-gradient(90deg,#3f3a9b 0.5px,#3f3a9b 10.5px,#3c3ca0 11.5px,#3b439d 14.5px,#494395 18.5px,#4b4394 23.5px,#3b439e 57.5px,#3b3ea0 124.5px,#3f3a9b 172.5px)"></i>
<i style="background:linear-gradient(90deg,#3f3a9b 0.5px,#3f3a9b 10.5px,#3940a7 11.5px,#3451a2 14.5px,#515491 17.5px,#56538e 18.5px,#5c518b 23.5px,#55538f 32.5px,#3d549c 44.5px,#3451a3 54.5px,#3343a9 122.5px,#3d3da3 129.5px,#3f3a9b 137.5px,#3f3a9b 172.5px)"></i>
<i style="background:linear-gradient(90deg,#3f3a9b 0.5px,#3f3a9b 10.5px,#3c3f9d 14.5px,#444098 18.5px,#463f97 23.5px,#3c3f9d 54.5px,#3f3a9b 172.5px)"></i>
<i style="background:linear-gradient(90deg,#3f3a9b 0.5px,#3f3a9b 10.5px,#3c3ca0 11.5px,#3b42a0 13.5px,#4a4495 18.5px,#4c4393 23.5px,#3a439e 56.5px,#3a3da1 123.5px,#3f3a9b 137.5px,#3f3a9b 172.5px)"></i>
<i style="background:linear-gradient(90deg,#3f3a9b 0.5px,#3f3a9b 10.5px,#3344b1 11.5px,#2c5bae 13.5px,#2f63a5 14.5px,#57678d 16.5px,#6d6382 18.5px,#74617d 19.5px,#78617a 23.5px,#6c6382 32.5px,#3d679c 46.5px,#2b62a8 56.5px,#2b5dad 63.5px,#3053b0 103.5px,#2a49b4 123.5px,#3c40aa 129.5px,#3f3a9b 137.5px,#3f3a9b 172.5px)"></i>
<i style="background:linear-gradient(90deg,#3f3a9b 0.5px,#3f3a9b 10.5px,#3c3ca0 11.5px,#3b42a0 13.5px,#4a4495 18.5px,#4c4393 23.5px,#3a439e 56.5px,#3a3da1 123.5px,#3f3a9b 137.5px,#3f3a9b 172.5px)"></i>
<i style="background:linear-gradient(90deg,#3f3a9b 0.5px,#3f3a9b 10.5px,#3c3f9e 13.5px,#454197 17.5px,#484095 22.5px,#3c409d 57.5px,#3f3a9b 172.5px)"></i>
<i style="background:linear-gradient(90deg,#3f3a9b 0.5px,#3f3a9b 10.5px,#3146b4 11.5px,#2960b0 13.5px,#2e69a5 14.5px,#5e6d8a 16.5px,#6c6a82 17.5px,#7d6678 19.5px,#806673 22.5px,#7e6676 27.5px,#74687e 32.5px,#4f6e91 42.5px,#396c9e 48.5px,#2967aa 57.5px,#2961b0 68.5px,#2e56b2 108.5px,#274bb7 127.5px,#3b41ac 133.5px,#3f3a9b 141.5px,#3f3a9b 172.5px)"></i>
<i style="background:linear-gradient(90deg,#3f3a9b 0.5px,#3f3a9b 10.5px,#2352cd 11.5px,#196bcd 12.5px,#1486c5 13.5px,#1d98b0 14.5px,#49a194 15.5px,#7c9f79 16.5px,#999969 17.5px,#ba9155 19.5px,#c0934c 22.5px,#bd9152 27.5px,#a99561 32.5px,#889d72 37.5px,#60a188 42.5px,#339da1 48.5px,#1f98ae 52.5px,#1393b9 57.5px,#128cc2 62.5px,#1288c4 68.5px,#1d72ca 108.5px,#1668cf 121.5px,#0f5cd2 127.5px,#2053ce 130.5px,#3748bd 133.5px,#3e41ab 136.5px,#3f3a9b 141.5px,#3f3a9b 172.5px)"></i>
<i style="background:linear-gradient(90deg,#3f3a9b 0.5px,#3f3a9b 10.5px,#3146b4 11.5px,#2960b0 13.5px,#2e69a5 14.5px,#5e6d8a 16.5px,#6c6a82 17.5px,#7d6678 19.5px,#806673 22.5px,#7e6676 27.5px,#74687e 32.5px,#4f6e91 42.5px,#396c9e 48.5px,#2967aa 57.5px,#2961b0 68.5px,#2e56b2 108.5px,#274bb7 127.5px,#3b41ac 133.5px,#3f3a9b 141.5px,#3f3a9b 172.5px)"></i>
<i style="background:linear-gradient(90deg,#3f3a9b 0.5px,#3f3a9b 10.5px,#3c3f9e 13.5px,#454197 17.5px,#484095 22.5px,#3c409d 57.5px,#3f3a9b 172.5px)"></i>
<i style="background:linear-gradient(90deg,#3f3a9b 0.5px,#3f3a9b 10.5px,#3c409e 13.5px,#474096 18.5px,#484095 28.5px,#3c409d 60.5px,#3f3a9b 172.5px)"></i>
<i style="background:linear-gradient(90deg,#3f3a9b 0.5px,#3f3a9b 10.5px,#2e47b5 11.5px,#2962af 13.5px,#336aa2 14.5px,#656b86 16.5px,#7b6679 18.5px,#806871 19.5px,#7f6c6e 22.5px,#806871 28.5px,#72687f 35.5px,#4f6e92 44.5px,#366ba0 51.5px,#2966ab 60.5px,#2e56b2 117.5px,#274bb7 132.5px,#3c40aa 138.5px,#3f3a9b 145.5px,#3f3a9b 172.5px)"></i>
<i style="background:linear-gradient(90deg,#3f3a9b 0.5px,#3f3a9b 10.5px,#1b56d3 11.5px,#0f90c7 13.5px,#24a2aa 14.5px,#5caa8a 15.5px,#91a46e 16.5px,#af9d5d 17.5px,#c19852 18.5px,#cb9c41 19.5px,#c9a53a 22.5px,#cb9d41 28.5px,#c4984f 31.5px,#ac9e5f 35.5px,#86a673 40.5px,#61aa87 44.5px,#2ca4a6 51.5px,#179eb4 56.5px,#0f99bd 60.5px,#0f8ec8 75.5px,#197ecb 100.5px,#1a76cd 117.5px,#146cd3 126.5px,#0b5ed7 132.5px,#1857d5 134.5px,#2e4ec9 136.5px,#3947ba 138.5px,#3d42ae 140.5px,#3f3a9b 145.5px,#3f3a9b 172.5px)"></i>
<i style="background:linear-gradient(90deg,#3f3a9b 0.5px,#3f3a9b 10.5px,#2350c7 11.5px,#197dbd 13.5px,#2a8ba7 14.5px,#55928d 15.5px,#7f8d78 16.5px,#96876b 17.5px,#a48462 18.5px,#ad8755 19.5px,#ab8d4f 22.5px,#ad8754 28.5px,#a78360 31.5px,#94886c 35.5px,#5a918b 44.5px,#308da3 51.5px,#2088ae 56.5px,#1984b6 60.5px,#197cbe 75.5px,#2269c2 117.5px,#1756ca 132.5px,#2051c8 134.5px,#324abf 136.5px,#3a44b4 138.5px,#3f3a9b 145.5px,#3f3a9b 172.5px)"></i>
<i style="background:linear-gradient(90deg,#3f3a9b 0.5px,#3f3a9b 10.5px,#3a3ea3 11.5px,#3846a1 13.5px,#514791 18.5px,#53488e 28.5px,#3847a0 60.5px,#383fa3 132.5px,#3f3a9b 145.5px,#3f3a9b 172.5px)"></i>
<i style="background:linear-gradient(90deg,#3f3a9b 0.5px,#3f3a9b 10.5px,#3b3da1 11.5px,#3a43a0 13.5px,#4a4595 17.5px,#4e4491 21.5px,#4c4494 32.5px,#3a449f 59.5px,#3a3ea1 127.5px,#3f3a9b 140.5px,#3f3a9b 172.5px)"></i>
<i style="background:linear-gradient(90deg,#3f3a9b 0.5px,#3f3a9b 10.5px,#2f47b5 11.5px,#2862b0 13.5px,#306ba4 14.5px,#636d87 16.5px,#716a7f 17.5px,#816773 19.5px,#826970 21.5px,#816773 28.5px,#79687b 32.5px,#506f91 43.5px,#366ca0 50.5px,#2867ab 59.5px,#2d57b3 111.5px,#274bb7 127.5px,#3c40aa 133.5px,#3f3a9b 140.5px,#3f3a9b 172.5px)"></i>
<i style="background:linear-gradient(90deg,#3f3a9b 0.5px,#3f3a9b 10.5px,#3740a8 11.5px,#344da5 13.5px,#38529f 14.5px,#515391 16.5px,#58518d 17.5px,#5f5088 19.5px,#5f5186 21.5px,#5b508b 32.5px,#3b539d 50.5px,#3450a3 59.5px,#3342a9 127.5px,#3e3da2 133.5px,#3f3a9b 140.5px,#3f3a9b 172.5px)"></i>
<i style="background:linear-gradient(90deg,#3f3a9b 0.5px,#3f3a9b 10.5px,#3c3da0 11.5px,#3a429f 13.5px,#494495 17.5px,#4c4392 21.5px,#4b4395 32.5px,#3a439e 59.5px,#3a3ea1 128.5px,#3f3a9b 143.5px,#3f3a9b 172.5px)"></i>
<i style="background:linear-gradient(90deg,#3f3a9b 0.5px,#3f3a9b 10.5px,#3244b0 11.5px,#2d5aac 13.5px,#3361a2 14.5px,#5c638b 16.5px,#676085 17.5px,#745e7b 19.5px,#746078 21.5px,#745e7b 28.5px,#6e5f81 32.5px,#4d6593 43.5px,#38629f 50.5px,#2d5ea8 59.5px,#3151ae 113.5px,#2b47b2 130.5px,#3d3fa7 136.5px,#3f3a9b 143.5px,#3f3a9b 172.5px)"></i>
<i style="background:linear-gradient(90deg,#3f3a9b 0.5px,#3f3a9b 10.5px,#2b4abc 11.5px,#236bb5 13.5px,#2d76a6 14.5px,#4c7c93 15.5px,#6b7982 16.5px,#7d7579 17.5px,#90726a 19.5px,#917466 21.5px,#917269 28.5px,#877273 32.5px,#547b8e 43.5px,#3478a1 50.5px,#2372af 59.5px,#236cb5 72.5px,#2a5fb8 105.5px,#295cb9 116.5px,#2350bd 128.5px,#2c49ba 132.5px,#3c41ab 136.5px,#3f3a9b 143.5px,#3f3a9b 172.5px)"></i>
<i style="background:linear-gradient(90deg,#3f3a9b 0.5px,#3f3a9b 10.5px,#2d49b9 11.5px,#2568b3 13.5px,#2e72a5 14.5px,#4b7794 15.5px,#687484 16.5px,#79717b 17.5px,#8b6e6d 19.5px,#8b706a 21.5px,#8b6e6d 28.5px,#826e76 32.5px,#53778f 43.5px,#3574a0 50.5px,#256ead 59.5px,#2568b3 72.5px,#2b5cb6 105.5px,#234ebb 125.5px,#3843af 131.5px,#3f3b9d 138.5px,#3f3a9b 172.5px)"></i>
<i style="background:linear-gradient(90deg,#3f3a9b 0.5px,#3f3a9b 10.5px,#3046b4 11.5px,#2a5faf 13.5px,#3167a3 14.5px,#606988 16.5px,#6e6681 17.5px,#7c6476 19.5px,#7d6673 21.5px,#7d6476 28.5px,#75647d 32.5px,#4f6b92 43.5px,#37699f 50.5px,#2a64aa 59.5px,#2f55b1 109.5px,#284ab5 125.5px,#3d40a9 131.5px,#3f3a9b 138.5px,#3f3a9b 172.5px)"></i>
<i style="background:linear-gradient(90deg,#3f3a9b 0.5px,#3f3a9b 10.5px,#3741a9 11.5px,#334fa6 13.5px,#38539f 14.5px,#525491 16.5px,#615186 19.5px,#615285 27.5px,#5a528c 34.5px,#3a549e 51.5px,#3351a3 59.5px,#3544a9 127.5px,#3f3a9b 145.5px,#3f3a9b 172.5px)"></i>
<i style="background:linear-gradient(90deg,#3f3a9b 0.5px,#3f3a9b 10.5px,#2152cb 11.5px,#1583c1 13.5px,#2693aa 14.5px,#559b8e 15.5px,#839675 16.5px,#9d9067 17.5px,#ac8c5e 18.5px,#b88d50 19.5px,#b79449 22.5px,#b88f4d 27.5px,#b38b58 30.5px,#a08f65 34.5px,#7a977a 40.5px,#599a8b 44.5px,#2c95a5 51.5px,#168cb7 59.5px,#1588be 63.5px,#1682c2 74.5px,#1f6ec6 116.5px,#1b66cb 125.5px,#1359cf 132.5px,#1e53cc 134.5px,#314bc2 136.5px,#3a45b6 138.5px,#3f3a9b 145.5px,#3f3a9b 172.5px)"></i>
<i style="background:linear-gradient(90deg,#3f3a9b 0.5px,#3f3a9b 10.5px,#1d55d1 11.5px,#118cc6 13.5px,#239eab 14.5px,#57a68c 15.5px,#8ba171 16.5px,#a89a61 17.5px,#b99556 18.5px,#c69747 19.5px,#c59e3f 22.5px,#c69944 27.5px,#c19450 30.5px,#ac995f 34.5px,#81a276 40.5px,#5ca689 44.5px,#2a9fa7 51.5px,#1196bb 59.5px,#1091c2 63.5px,#118bc6 74.5px,#1b7bc9 99.5px,#1b74cb 116.5px,#166bd0 125.5px,#0d5cd5 132.5px,#1a56d2 134.5px,#2f4dc7 136.5px,#3946b9 138.5px,#3d41ad 140.5px,#3f3a9b 145.5px,#3f3a9b 172.5px)"></i>
<i style="background:linear-gradient(90deg,#3f3a9b 0.5px,#3f3a9b 10.5px,#3740a8 11.5px,#344da5 13.5px,#38519f 14.5px,#455398 15.5px,#515291 16.5px,#5c4f8b 18.5px,#5f5285 22.5px,#5f5086 27.5px,#59508d 34.5px,#3a529e 51.5px,#3450a2 59.5px,#3342a9 132.5px,#3e3da2 138.5px,#3f3a9b 145.5px,#3f3a9b 172.5px)"></i>
<i></i>
<i style="background:linear-gradient(90deg,#3f3a9b 0.5px,#3f3a9b 10.5px,#393ea4 11.5px,#3748a2 13.5px,#4c4b94 16.5px,#54498f 18.5px,#554a8d 28.5px,#3c4b9d 51.5px,#3749a0 60.5px,#3740a5 131.5px,#3f3a9b 144.5px,#3f3a9b 172.5px)"></i>
<i style="background:linear-gradient(90deg,#3f3a9b 0.5px,#3f3a9b 10.5px,#2052cc 11.5px,#1584c1 13.5px,#2894a8 14.5px,#589b8c 15.5px,#859574 16.5px,#9f8f66 17.5px,#af8b5c 18.5px,#b88f4e 19.5px,#b69647 22.5px,#b88f4d 28.5px,#b18b5a 31.5px,#9d9067 35.5px,#5c9a89 44.5px,#2e95a4 51.5px,#1d90b0 56.5px,#158cb9 60.5px,#1683c2 75.5px,#1f6ec6 116.5px,#1a65cb 125.5px,#1259cf 131.5px,#1d53cd 133.5px,#304bc3 135.5px,#3a45b6 137.5px,#3f3a9b 144.5px,#3f3a9b 172.5px)"></i>
<i style="background:linear-gradient(90deg,#3f3a9b 0.5px,#3f3a9b 10.5px,#1b56d3 11.5px,#0f90c7 13.5px,#24a2aa 14.5px,#5caa8a 15.5px,#91a46e 16.5px,#af9d5d 17.5px,#c19852 18.5px,#cb9c41 19.5px,#c9a53a 22.5px,#cb9d41 28.5px,#c4984f 31.5px,#ac9e5f 35.5px,#86a673 40.5px,#61aa87 44.5px,#2ca4a6 51.5px,#179eb4 56.5px,#0f99bd 60.5px,#0f8ec8 75.5px,#197ecb 100.5px,#1a77cd 116.5px,#146cd3 125.5px,#0b5ed7 131.5px,#1857d5 133.5px,#2e4ec9 135.5px,#3947ba 137.5px,#3d42ae 139.5px,#3f3a9b 144.5px,#3f3a9b 172.5px)"></i>
<i style="background:linear-gradient(90deg,#3f3a9b 0.5px,#3f3a9b 10.5px,#3145b1 11.5px,#2c5bac 13.5px,#3562a1 14.5px,#5e638a 16.5px,#715e7f 18.5px,#756078 19.5px,#746375 22.5px,#756078 28.5px,#696084 35.5px,#38639f 51.5px,#2c5fa8 60.5px,#3151ae 116.5px,#2b48b2 131.5px,#3d3fa7 137.5px,#3f3a9b 144.5px,#3f3a9b 172.5px)"></i>
<i style="background:linear-gradient(90deg,#3f3a9b 0.5px,#3d3e9d 13.5px,#453e98 18.5px,#463f97 28.5px,#3d3e9d 60.5px,#3f3a9b 172.5px)"></i>
<i></i>
<i style="background:linear-gradient(90deg,#3f3a9b 0.5px,#3f3a9b 10.5px,#3a3ea4 11.5px,#3747a2 13.5px,#504a92 17.5px,#554a8d 21.5px,#524990 32.5px,#3c4b9d 50.5px,#3749a0 59.5px,#3740a4 126.5px,#3f3a9b 139.5px,#3f3a9b 172.5px)"></i>
<i style="background:linear-gradient(90deg,#3f3a9b 0.5px,#3f3a9b 10.5px,#284cc0 11.5px,#1f72b9 13.5px,#2a7fa7 14.5px,#4d8592 15.5px,#71827f 16.5px,#867d74 17.5px,#9c7963 19.5px,#9d7c5e 21.5px,#9c7a62 28.5px,#917a6e 32.5px,#708280 39.5px,#57858d 43.5px,#3381a1 50.5px,#1f79b2 59.5px,#1f72b9 72.5px,#2662bd 110.5px,#1d52c3 126.5px,#2f4abe 129.5px,#3b43af 132.5px,#3f3a9b 139.5px,#3f3a9b 172.5px)"></i>
<i style="background:linear-gradient(90deg,#3f3a9b 0.5px,#3f3a9b 10.5px,#3a3ea4 11.5px,#3747a2 13.5px,#504a92 17.5px,#554a8d 21.5px,#524990 32.5px,#3c4b9d 50.5px,#3749a0 59.5px,#3740a4 126.5px,#3f3a9b 139.5px,#3f3a9b 172.5px)"></i>
<i></i>
<i style="background:linear-gradient(90deg,#3f3a9b 0.5px,#3f3a9b 10.5px,#3b3da2 11.5px,#3945a1 13.5px,#4e4793 18.5px,#514790 23.5px,#39479f 56.5px,#383fa3 122.5px,#3f3a9b 136.5px,#3f3a9b 172.5px)"></i>
<i style="background:linear-gradient(90deg,#3f3a9b 0.5px,#3f3a9b 10.5px,#3444af 11.5px,#2e58ac 13.5px,#3060a4 14.5px,#55638e 16.5px,#695f84 18.5px,#6f5e80 19.5px,#735d7d 23.5px,#686084 32.5px,#3d639c 46.5px,#2d5ea7 56.5px,#3151ae 103.5px,#2c48b2 122.5px,#3c40a8 128.5px,#3f3a9b 136.5px,#3f3a9b 172.5px)"></i>
<i style="background:linear-gradient(90deg,#3f3a9b 0.5px,#3f3a9b 10.5px,#3b419f 13.5px,#484396 18.5px,#4b4294 23.5px,#3b429e 56.5px,#3b3da0 122.5px,#3f3a9b 136.5px,#3f3a9b 172.5px)"></i>
<i style="background:linear-gradient(90deg,#3f3a9b 0.5px,#3f3a9b 10.5px,#3b409e 13.5px,#474297 17.5px,#494194 23.5px,#3b419e 58.5px,#3b3d9f 128.5px,#3f3a9b 172.5px)"></i>
<i style="background:linear-gradient(90deg,#3f3a9b 0.5px,#3f3a9b 10.5px,#2f47b7 11.5px,#2764b2 13.5px,#2d6da6 14.5px,#627187 16.5px,#726d7f 17.5px,#836973 19.5px,#866b6e 23.5px,#846973 28.5px,#7a6b7a 32.5px,#53728f 42.5px,#37709f 49.5px,#276aac 58.5px,#2764b2 70.5px,#2c59b4 109.5px,#254db9 128.5px,#2d48b7 131.5px,#3c40aa 135.5px,#3f3a9b 142.5px,#3f3a9b 172.5px)"></i>
<i style="background:linear-gradient(90deg,#3f3a9b 0.5px,#3f3a9b 10.5px,#2153cf 11.5px,#196cce 12.5px,#1288c6 13.5px,#1e9aaf 14.5px,#4ca392 15.5px,#80a076 16.5px,#9e9a67 17.5px,#bf9351 19.5px,#c39647 23.5px,#bf9351 28.5px,#ad965e 32.5px,#8d9e70 37.5px,#64a385 42.5px,#2f9fa3 49.5px,#1d9ab0 53.5px,#1294bb 58.5px,#118dc3 63.5px,#1289c5 70.5px,#1c73ca 109.5px,#1669d0 122.5px,#0e5dd4 128.5px,#0f5ad3 129.5px,#1e54d0 131.5px,#314cc4 133.5px,#3a46b7 135.5px,#3f3a9b 142.5px,#3f3a9b 172.5px)"></i>
<i style="background:linear-gradient(90deg,#3f3a9b 0.5px,#3f3a9b 10.5px,#2f47b7 11.5px,#2764b2 13.5px,#2d6da6 14.5px,#627187 16.5px,#726d7f 17.5px,#836973 19.5px,#866b6e 23.5px,#846973 28.5px,#7a6b7a 32.5px,#53728f 42.5px,#37709f 49.5px,#276aac 58.5px,#2764b2 70.5px,#2c59b4 109.5px,#254db9 128.5px,#2d48b7 131.5px,#3c40aa 135.5px,#3f3a9b 142.5px,#3f3a9b 172.5px)"></i>
<i style="background:linear-gradient(90deg,#3f3a9b 0.5px,#3f3a9b 10.5px,#3b409e 13.5px,#474297 17.5px,#494194 23.5px,#3b419e 58.5px,#3b3d9f 128.5px,#3f3a9b 172.5px)"></i>
</div>
<div class="hm" style="left:482px;top:235px;width:174px;height:68px">
<i style="background:linear-gradient(90deg,#3f3a9b 0.5px,#3d41ad 3.5px,#3a43b0 5.5px,#3c3ca0 8.5px,#3d3c9f 11.5px,#3b3da0 20.5px,#3b3fa6 24.5px,#3d3ca0 27.5px,#3f3a9b 48.5px,#3f3a9b 173.5px)"></i>
<i style="background:linear-gradient(90deg,#3f3a9b 0.5px,#3a46b7 3.5px,#284ec3 5.5px,#2d48b7 8.5px,#3346b5 12.5px,#274bb9 18.5px,#254dbc 22.5px,#2a4bbc 25.5px,#3c41ab 32.5px,#3f3a9b 49.5px,#3f3a9b 173.5px)"></i>
<i style="background:linear-gradient(90deg,#3f3a9b 0.5px,#3748bd 3.5px,#1b55cf 5.5px,#2c4ec8 11.5px,#2555cf 14.5px,#175ed4 16.5px,#1867cf 22.5px,#1864d2 25.5px,#1f5cd2 27.5px,#324cc2 31.5px,#3b43b0 36.5px,#3f3a9c 49.5px,#3f3a9b 173.5px)"></i>
<i style="background:linear-gradient(90deg,#3f3a9b 0.5px,#3a42ad 4.5px,#3543ae 5.5px,#3941aa 9.5px,#3941ab 10.5px,#3945b5 11.5px,#314cc3 12.5px,#2156cb 13.5px,#255fcc 14.5px,#1678cd 16.5px,#1c81c4 17.5px,#4187ae 19.5px,#5188a6 21.5px,#498caa 23.5px,#3a8eb2 24.5px,#1286cc 26.5px,#1671d6 28.5px,#1068da 29.5px,#1a5dd6 30.5px,#2555c9 31.5px,#274cbb 33.5px,#3a43b0 38.5px,#3f3ca0 46.5px,#3f3a9b 52.5px,#3f3a9b 173.5px)"></i>
<i style="background:linear-gradient(90deg,#3f3a9b 0.5px,#3f3b9e 10.5px,#3d40ab 11.5px,#3249bd 12.5px,#1b57c7 13.5px,#2463c2 14.5px,#1c7fb7 16.5px,#3188a7 17.5px,#538b94 18.5px,#6c8987 19.5px,#7a8780 20.5px,#7e877e 21.5px,#7b8880 22.5px,#6f8b86 23.5px,#598e91 24.5px,#1b85b7 26.5px,#187ac3 27.5px,#1f6bc7 28.5px,#175fcc 29.5px,#2651c8 30.5px,#3647b5 31.5px,#3841a7 32.5px,#393ea3 34.5px,#3f3a9b 52.5px,#3f3a9b 173.5px)"></i>
<i style="background:linear-gradient(90deg,#3f3a9b 0.5px,#3f3a9b 10.5px,#3641a5 13.5px,#374ba2 16.5px,#4451a1 18.5px,#4853a4 20.5px,#3758ac 24.5px,#2b55b4 26.5px,#3248b5 29.5px,#3c41ab 31.5px,#3e3da3 33.5px,#3f3b9e 37.5px,#3f3a9b 173.5px)"></i>
<i style="background:linear-gradient(90deg,#3f3a9b 0.5px,#3d3da1 5.5px,#3f3a9b 15.5px,#3f3b9d 16.5px,#3c43b1 18.5px,#2750c9 21.5px,#1c54ce 23.5px,#1d54cf 25.5px,#344bc3 29.5px,#3c45b5 32.5px,#3f3da2 38.5px,#3f3da3 46.5px,#3f3a9b 52.5px,#3f3a9b 173.5px)"></i>
<i style="background:linear-gradient(90deg,#3f3a9c 0.5px,#3d41ac 3.5px,#3548ba 5.5px,#3648b9 7.5px,#3c409f 15.5px,#3a43a8 18.5px,#2e4abc 22.5px,#314bc1 26.5px,#3b46b7 32.5px,#3f3da2 40.5px,#3f3a9b 52.5px,#3f3a9b 173.5px)"></i>
<i style="background:linear-gradient(90deg,#3f3ca0 0.5px,#3a45b6 3.5px,#2850c8 5.5px,#2653c8 6.5px,#3057bb 10.5px,#3056b2 15.5px,#2750c0 21.5px,#2f4cc2 23.5px,#3748bd 25.5px,#3b43b2 30.5px,#3f3a9c 44.5px,#3f3a9b 173.5px)"></i>
<i style="background:linear-gradient(90deg,#3f3ca0 0.5px,#3a42af 3.5px,#2c4aba 5.5px,#3056b5 11.5px,#2f59b8 14.5px,#2351c8 22.5px,#324abf 25.5px,#3f3ca1 35.5px,#3f3a9b 52.5px,#3f3a9b 173.5px)"></i>
<i style="background:linear-gradient(90deg,#3f3a9c 0.5px,#3546a9 13.5px,#3e3da2 33.5px,#3d41ad 40.5px,#3f3a9b 52.5px,#3f3a9b 173.5px)"></i>
<i style="background:linear-gradient(90deg,#3f3a9b 0.5px,#3f3a9b 4.5px,#3d41ac 6.5px,#2f4abd 8.5px,#1e51c2 10.5px,#1c53c4 13.5px,#2d4dbe 16.5px,#3a47b1 18.5px,#3f42a2 21.5px,#3f409f 23.5px,#3a43b0 30.5px,#3c43b1 35.5px,#3f3a9b 52.5px,#3f3a9b 173.5px)"></i>
<i style="background:linear-gradient(90deg,#3f3a9b 0.5px,#3f3a9c 4.5px,#3c42af 6.5px,#2c4cc1 8.5px,#2051c6 9.5px,#0d5fdb 12.5px,#0764dc 13.5px,#1c6ad1 16.5px,#3a68ae 19.5px,#4566a0 21.5px,#3e63a0 23.5px,#2f60ab 25.5px,#2c4dc4 30.5px,#3749bf 31.5px,#3a46b9 32.5px,#3e3ea5 39.5px,#3f3a9b 52.5px,#3f3a9b 173.5px)"></i>
<i style="background:linear-gradient(90deg,#3f3a9b 0.5px,#3f3a9b 4.5px,#3b3ea4 8.5px,#3840a7 9.5px,#3546b4 10.5px,#304ec6 11.5px,#165ada 12.5px,#0669de 13.5px,#1174d8 14.5px,#1481d2 15.5px,#0c90ce 16.5px,#1099c0 17.5px,#49a698 20.5px,#50a793 21.5px,#4ca695 22.5px,#3da49d 23.5px,#1499b9 25.5px,#1090c6 26.5px,#1a73d0 28.5px,#1067d7 29.5px,#1659d7 30.5px,#344cc5 31.5px,#3e3ea5 33.5px,#3e3ca0 34.5px,#3f3a9b 52.5px,#3f3a9b 173.5px)"></i>
<i style="background:linear-gradient(90deg,#3f3a9b 0.5px,#3f3a9b 8.5px,#3f3b9d 9.5px,#3e3fa8 10.5px,#3946b6 11.5px,#2450c8 12.5px,#165ccb 13.5px,#1f67c7 14.5px,#2073c3 15.5px,#1880c1 16.5px,#1989b7 17.5px,#47979c 20.5px,#4d9899 21.5px,#49979b 22.5px,#1b8cb8 25.5px,#1783c1 26.5px,#2069c7 28.5px,#175fcc 29.5px,#1d53cb 30.5px,#3747ba 31.5px,#3f3c9f 33.5px,#3f3a9b 34.5px,#3f3a9b 173.5px)"></i>
<i style="background:linear-gradient(90deg,#3f3a9b 0.5px,#3a3ea2 9.5px,#3059b0 17.5px,#3a5db0 20.5px,#3b5bad 22.5px,#3150b0 26.5px,#3d3da2 31.5px,#3f3a9b 34.5px,#3f3a9b 173.5px)"></i>
<i style="background:linear-gradient(90deg,#3f3a9b 0.5px,#3f3a9b 4.5px,#3c40aa 7.5px,#274ab7 9.5px,#2b5db2 13.5px,#2768b6 15.5px,#266eb9 18.5px,#2768be 21.5px,#2c5bba 23.5px,#264dbd 26.5px,#3c42ae 28.5px,#3f3b9d 31.5px,#3f3a9b 173.5px)"></i>
<i style="background:linear-gradient(90deg,#3f3a9b 0.5px,#3e3c9f 4.5px,#3b42af 7.5px,#264cbc 9.5px,#2c5bb8 12.5px,#2668b6 15.5px,#266cb5 17.5px,#266dbb 19.5px,#2960c5 23.5px,#2451c8 26.5px,#3a46b8 28.5px,#3e3da3 31.5px,#3f3b9d 35.5px,#3f3a9b 173.5px)"></i>
<i style="background:linear-gradient(90deg,#3f3a9b 0.5px,#3a44b3 5.5px,#324fbc 14.5px,#3549b9 25.5px,#3d3fa7 32.5px,#3f3a9b 52.5px,#3f3a9b 173.5px)"></i>
<i style="background:linear-gradient(90deg,#3f3a9b 0.5px,#3849bf 5.5px,#354bc4 11.5px,#3a47ba 21.5px,#2e49ba 28.5px,#3c42af 37.5px,#3f3a9b 52.5px,#3f3a9b 173.5px)"></i>
<i style="background:linear-gradient(90deg,#3f3a9b 0.5px,#3849bf 5.5px,#334cc6 8.5px,#334dc7 11.5px,#3948b7 19.5px,#344ec1 22.5px,#2455ce 25.5px,#1a57d1 28.5px,#1c55d0 30.5px,#2751cc 32.5px,#3a46b8 37.5px,#3e3fa8 43.5px,#3f3a9b 52.5px,#3f3a9b 173.5px)"></i>
<i style="background:linear-gradient(90deg,#3f3a9b 0.5px,#3845b5 5.5px,#2e4fcb 12.5px,#2652cf 14.5px,#2354cd 15.5px,#2d57bc 20.5px,#265ac3 25.5px,#2051c5 30.5px,#3547b9 33.5px,#3b43af 35.5px,#3e3ea4 39.5px,#3f3a9b 52.5px,#3f3a9b 173.5px)"></i>
<i style="background:linear-gradient(90deg,#3f3a9b 0.5px,#3d41ac 3.5px,#2e4abe 5.5px,#254fc5 8.5px,#1d57d7 14.5px,#2160cc 23.5px,#285ac8 26.5px,#294ec0 30.5px,#3646b7 32.5px,#3d41ad 34.5px,#3f3da1 38.5px,#3f3a9c 46.5px,#3f3a9b 173.5px)"></i>
<i style="background:linear-gradient(90deg,#3f3a9b 0.5px,#3c43b0 3.5px,#3647ba 4.5px,#294ec5 5.5px,#1b53ca 9.5px,#2153ce 13.5px,#2751c9 17.5px,#2454c9 22.5px,#2951c7 24.5px,#3648b9 28.5px,#3e3fa7 34.5px,#3f3b9c 45.5px,#3f3a9b 173.5px)"></i>
<i style="background:linear-gradient(90deg,#3f3a9b 0.5px,#3940a9 5.5px,#3641a8 9.5px,#3843af 13.5px,#3a3fa5 18.5px,#3a40a9 25.5px,#3f3b9d 34.5px,#3f3a9b 52.5px,#3f3a9b 173.5px)"></i>
<i style="background:linear-gradient(90deg,#3f3a9c 0.5px,#3a43af 5.5px,#3c41a3 11.5px,#3c3f9f 19.5px,#3945b4 25.5px,#3d42ae 29.5px,#3f3a9b 34.5px,#3f3a9b 173.5px)"></i>
<i style="background:linear-gradient(90deg,#3f3b9d 0.5px,#3c43b0 3.5px,#304bc1 5.5px,#294ec2 6.5px,#3056b0 12.5px,#2e58b1 15.5px,#3053b2 19.5px,#294fc4 23.5px,#2f4dc5 24.5px,#3a47ba 27.5px,#3f3b9f 33.5px,#3f3a9b 37.5px,#3f3a9b 173.5px)"></i>
<i style="background:linear-gradient(90deg,#3f3b9d 0.5px,#3c42ae 3.5px,#3149bb 5.5px,#2a4cbd 6.5px,#3056b4 11.5px,#2d5cb8 15.5px,#294ec1 23.5px,#3a47ba 26.5px,#3c41ac 30.5px,#3f3a9b 39.5px,#3f3a9b 173.5px)"></i>
<i style="background:linear-gradient(90deg,#3f3a9c 0.5px,#3a44ad 8.5px,#3b42a3 12.5px,#3941a9 22.5px,#3947bb 25.5px,#354ac1 28.5px,#3947bb 32.5px,#3e3b9e 39.5px,#3f3b9d 43.5px,#3f3a9b 173.5px)"></i>
<i style="background:linear-gradient(90deg,#3f3a9b 0.5px,#3944b1 5.5px,#3c43b1 8.5px,#3f3ca1 12.5px,#3f3da1 16.5px,#3943b1 22.5px,#354bc3 25.5px,#314eca 28.5px,#344cc4 32.5px,#3c41ac 39.5px,#3f3a9b 52.5px,#3f3a9b 173.5px)"></i>
<i style="background:linear-gradient(90deg,#3f3a9b 0.5px,#3846b7 3.5px,#2f4dc4 5.5px,#3a47ba 8.5px,#3b40a5 14.5px,#3b43a8 16.5px,#324fc5 23.5px,#2d50ca 27.5px,#3c42ae 41.5px,#3f3a9b 52.5px,#3f3a9b 173.5px)"></i>
<i style="background:linear-gradient(90deg,#3f3a9b 0.5px,#3a44b3 2.5px,#3149bd 3.5px,#2152c7 5.5px,#334cc2 8.5px,#284dbf 11.5px,#2e53b6 15.5px,#2d5dc3 21.5px,#2855c8 26.5px,#284fc6 28.5px,#3945b5 31.5px,#3c3fa6 35.5px,#3f3a9b 52.5px,#3f3a9b 173.5px)"></i>
<i style="background:linear-gradient(90deg,#3f3a9b 0.5px,#3b43b1 2.5px,#3249bd 3.5px,#2051c7 4.5px,#1a58ca 5.5px,#1c58d1 8.5px,#135ad8 11.5px,#245ecd 15.5px,#2b5dc1 21.5px,#2554ca 27.5px,#2d4fca 29.5px,#3b42af 35.5px,#3f3b9d 42.5px,#3f3a9b 173.5px)"></i>
<i style="background:linear-gradient(90deg,#3f3a9b 0.5px,#3c43b1 2.5px,#3449bf 3.5px,#2252cb 4.5px,#1a5ad1 5.5px,#0e5ddd 11.5px,#205bd0 17.5px,#2455c6 22.5px,#2453cd 27.5px,#2c50cd 31.5px,#3d3fa7 42.5px,#3f3a9b 52.5px,#3f3a9b 173.5px)"></i>
<i style="background:linear-gradient(90deg,#3f3a9b 0.5px,#3c42ae 2.5px,#2756cd 5.5px,#135edc 9.5px,#0763df 12.5px,#0967dd 16.5px,#0c61db 25.5px,#2355d6 32.5px,#3b45b6 42.5px,#3f3a9b 52.5px,#3f3a9b 173.5px)"></i>
<i style="background:linear-gradient(90deg,#3f3a9b 0.5px,#354ac0 2.5px,#1d55d1 3.5px,#145fd6 4.5px,#1868d6 5.5px,#0965d9 14.5px,#0e6ad8 23.5px,#0c61d9 28.5px,#1659d6 31.5px,#2a51ce 34.5px,#364ac0 38.5px,#3e3fa7 46.5px,#3f3a9b 52.5px,#3f3a9b 173.5px)"></i>
<i style="background:linear-gradient(90deg,#3f3a9b 0.5px,#364bc2 2.5px,#2155d3 3.5px,#165ed8 4.5px,#1963d8 5.5px,#235dcc 7.5px,#2454bd 10.5px,#2252bd 15.5px,#2557c0 23.5px,#224fbd 29.5px,#274cbc 31.5px,#3646b6 35.5px,#3b44b2 38.5px,#3f3a9b 52.5px,#3f3a9b 173.5px)"></i>
<i style="background:linear-gradient(90deg,#3f3a9b 0.5px,#3a46b8 2.5px,#314cc5 3.5px,#2754cf 5.5px,#354cbf 7.5px,#3942a9 10.5px,#3a3ea1 17.5px,#3a41a7 22.5px,#3c3ca0 33.5px,#3e40a9 42.5px,#3f3a9b 52.5px,#3f3a9b 173.5px)"></i>
<i style="background:linear-gradient(90deg,#3f3a9b 0.5px,#3847b8 5.5px,#3d43b1 11.5px,#3645b2 13.5px,#364ba3 17.5px,#42509a 22.5px,#364aa4 27.5px,#393fa6 31.5px,#3f3a9c 34.5px,#3f3b9d 37.5px,#3e41ab 43.5px,#3f3a9b 52.5px,#3f3a9b 173.5px)"></i>
<i style="background:linear-gradient(90deg,#3f3a9b 0.5px,#3e3fa7 10.5px,#3749bf 12.5px,#1e54cd 13.5px,#195ecc 14.5px,#2168c6 15.5px,#197fbc 17.5px,#1d86b1 18.5px,#4a9194 21.5px,#4d9192 22.5px,#489195 23.5px,#1b85b3 26.5px,#197dbd 27.5px,#2170c0 28.5px,#2065c5 29.5px,#175bc9 30.5px,#254fc6 31.5px,#3a45b6 32.5px,#3f3b9e 34.5px,#3f3b9c 35.5px,#3f3ca0 42.5px,#3f3a9b 52.5px,#3f3a9b 173.5px)"></i>
<i style="background:linear-gradient(90deg,#3f3a9b 0.5px,#3e3fa7 5.5px,#3f3b9d 9.5px,#3e3fa8 11.5px,#3944b3 12.5px,#274cbe 13.5px,#2354bd 14.5px,#2a5bb9 15.5px,#246cb3 17.5px,#2671ab 18.5px,#477996 21.5px,#497995 22.5px,#457997 23.5px,#2570ad 26.5px,#2961b6 28.5px,#2252bd 30.5px,#2c4abb 31.5px,#3b43b2 32.5px,#3e3ea4 34.5px,#3f3a9b 44.5px,#3f3a9b 173.5px)"></i>
<i style="background:linear-gradient(90deg,#3f3a9b 0.5px,#3d41ad 5.5px,#3a3ea3 9.5px,#3449a7 14.5px,#39519f 20.5px,#3b4fa0 23.5px,#3449a6 26.5px,#3b3da2 31.5px,#3d41ab 36.5px,#3f3a9b 44.5px,#3f3a9b 173.5px)"></i>
<i style="background:linear-gradient(90deg,#3f3a9b 0.5px,#3e3da3 5.5px,#3d42ae 7.5px,#3745b6 8.5px,#274cbe 9.5px,#2153bf 10.5px,#295ebb 12.5px,#1f71b7 15.5px,#2276b0 18.5px,#1f6eba 22.5px,#2561bd 24.5px,#1d55c2 26.5px,#244ec1 27.5px,#3646b7 28.5px,#3c42ad 29.5px,#3f3c9f 31.5px,#3f3b9e 32.5px,#3f3a9b 173.5px)"></i>
<i style="background:linear-gradient(90deg,#3f3a9b 0.5px,#3f3da2 5.5px,#3d43b0 7.5px,#3747bb 8.5px,#274fc6 9.5px,#2057c9 10.5px,#2565ca 12.5px,#0f7dce 15.5px,#0b82cc 16.5px,#0c87c9 19.5px,#0b80d3 22.5px,#1172d6 24.5px,#0863db 26.5px,#145ad9 27.5px,#2d50cc 28.5px,#3749be 29.5px,#3d3fa7 31.5px,#3e3b9d 33.5px,#3f3a9b 173.5px)"></i>
<i style="background:linear-gradient(90deg,#3f3a9b 0.5px,#3e40aa 7.5px,#344ebf 12.5px,#1363d2 16.5px,#116bd6 19.5px,#0f6bda 22.5px,#0b60de 26.5px,#155bdd 27.5px,#2e4fcb 29.5px,#3841ac 33.5px,#3f3a9b 52.5px,#3f3a9b 173.5px)"></i>
<i style="background:linear-gradient(90deg,#3f3a9b 0.5px,#3e3fa7 5.5px,#3d40a9 12.5px,#2b53cc 20.5px,#2056d7 27.5px,#2752ce 31.5px,#3b44b4 38.5px,#3f3a9b 52.5px,#3f3a9b 173.5px)"></i>
<i style="background:linear-gradient(90deg,#3f3a9b 0.5px,#3d41ab 2.5px,#3c43b1 4.5px,#3f3ca0 8.5px,#3f3ca0 13.5px,#344bc1 22.5px,#2e4fca 27.5px,#3d40aa 38.5px,#3f3a9b 52.5px,#3f3a9b 173.5px)"></i>
<i style="background:linear-gradient(90deg,#3f3a9b 0.5px,#3c41ad 3.5px,#3f3b9e 9.5px,#3642a8 14.5px,#364cb3 20.5px,#2f4fc6 27.5px,#3b45b5 31.5px,#3e3da3 36.5px,#3f3a9b 52.5px,#3f3a9b 173.5px)"></i>
<i style="background:linear-gradient(90deg,#3f3a9b 0.5px,#3e3ea4 4.5px,#3f3b9f 7.5px,#3e3da3 9.5px,#3b42af 11.5px,#254dbe 13.5px,#2052bf 14.5px,#295ebb 17.5px,#2765ba 20.5px,#2761c2 24.5px,#1e56ca 27.5px,#2351c8 28.5px,#3a46b8 30.5px,#3f3c9f 34.5px,#3f3b9d 37.5px,#3f3a9b 173.5px)"></i>
<i style="background:linear-gradient(90deg,#3f3a9b 0.5px,#3c44b2 5.5px,#3f3b9e 8.5px,#3f3b9d 9.5px,#3641a5 14.5px,#3846a3 20.5px,#3741a9 28.5px,#3f3b9f 34.5px,#3f3a9b 49.5px,#3f3a9b 173.5px)"></i>
<i style="background:linear-gradient(90deg,#3f3a9b 0.5px,#3e41ac 3.5px,#3c42af 5.5px,#3f3b9d 8.5px,#3f3a9b 9.5px,#3f3a9c 24.5px,#3d40aa 28.5px,#3c41ad 31.5px,#3f3a9b 50.5px,#3f3a9b 173.5px)"></i>
<i style="background:linear-gradient(90deg,#3f3a9b 0.5px,#3e3ea6 4.5px,#3f3a9b 9.5px,#3f3a9b 13.5px,#3c3fa7 18.5px,#3d3ea5 24.5px,#3a46b9 30.5px,#3d42af 41.5px,#3f3a9b 52.5px,#3f3a9b 173.5px)"></i>
<i style="background:linear-gradient(90deg,#3f3a9b 0.5px,#3f3c9f 8.5px,#3442a8 11.5px,#3746a6 13.5px,#3255b9 16.5px,#2d5cc0 19.5px,#3154bc 24.5px,#304cc2 28.5px,#3a48bc 30.5px,#3c45b5 32.5px,#3c43b0 42.5px,#3f3a9b 52.5px,#3f3a9b 173.5px)"></i>
<i style="background:linear-gradient(90deg,#3f3a9b 0.5px,#3d3d9f 6.5px,#3749bb 9.5px,#2951ca 10.5px,#125bd0 11.5px,#1e74c7 14.5px,#1488c7 16.5px,#1691be 19.5px,#1487c8 23.5px,#1e75cb 25.5px,#135bd5 28.5px,#2a51cd 29.5px,#3849be 30.5px,#3e3da2 33.5px,#3f3a9b 52.5px,#3f3a9b 173.5px)"></i>
<i style="background:linear-gradient(90deg,#3f3a9b 0.5px,#3641a7 4.5px,#3746ad 6.5px,#3350c1 9.5px,#1e5aca 11.5px,#2666bc 14.5px,#1f70ba 16.5px,#2073b3 19.5px,#216bba 23.5px,#295fbb 25.5px,#234fc0 28.5px,#3a44b2 30.5px,#3d3da1 33.5px,#3f3a9b 52.5px,#3f3a9b 173.5px)"></i>
<i style="background:linear-gradient(90deg,#3f3a9b 0.5px,#3e3c9f 3.5px,#3948b9 7.5px,#324cc0 9.5px,#304eba 11.5px,#344dab 13.5px,#3250aa 19.5px,#3148ad 24.5px,#3843aa 26.5px,#3d3c9f 33.5px,#3f3a9b 173.5px)"></i>
<i style="background:linear-gradient(90deg,#3f3a9b 0.5px,#3744ae 4.5px,#334ec2 7.5px,#1b59d0 9.5px,#2368c6 13.5px,#1e70c6 16.5px,#2068c9 20.5px,#1359d2 24.5px,#294fc5 26.5px,#2e46af 30.5px,#3d3fa6 39.5px,#3f3a9c 50.5px,#3f3a9b 173.5px)"></i>
<i style="background:linear-gradient(90deg,#3f3a9b 0.5px,#3747bb 2.5px,#2650c7 3.5px,#1e57cb 4.5px,#215dcb 5.5px,#225ecc 7.5px,#1c61cf 9.5px,#1b68d0 15.5px,#0b5fdc 24.5px,#115ad2 31.5px,#2651cc 35.5px,#3649be 38.5px,#3b45b4 40.5px,#3f3da3 46.5px,#3f3a9b 52.5px,#3f3a9b 173.5px)"></i>
<i style="background:linear-gradient(90deg,#3f3a9b 0.5px,#3647ba 2.5px,#2250c7 3.5px,#1958c9 4.5px,#1e5ec7 5.5px,#1e5ec7 16.5px,#1759d0 23.5px,#1855ca 31.5px,#2b4dc5 35.5px,#3c42b0 40.5px,#3f3a9b 52.5px,#3f3a9b 173.5px)"></i>
<i style="background:linear-gradient(90deg,#3f3a9b 0.5px,#383fa6 3.5px,#3842a4 9.5px,#3246ac 14.5px,#314bac 19.5px,#2f50b5 21.5px,#2f51b7 23.5px,#3045ad 30.5px,#3c3ea3 36.5px,#3f3a9b 52.5px,#3f3a9b 173.5px)"></i>
<i style="background:linear-gradient(90deg,#3f3a9b 0.5px,#3d3da2 4.5px,#3f3a9b 9.5px,#3e3ea4 11.5px,#3744b2 13.5px,#294aba 14.5px,#2350bb 15.5px,#2b5db5 18.5px,#256ab6 21.5px,#256cb6 23.5px,#2b5eb7 27.5px,#2351bd 30.5px,#294bbd 31.5px,#3745b5 32.5px,#3c41ad 33.5px,#3f3b9d 36.5px,#3f3a9b 173.5px)"></i>
<i style="background:linear-gradient(90deg,#3f3a9b 0.5px,#3d3da3 4.5px,#3f3a9b 9.5px,#3e3da2 11.5px,#3942ae 13.5px,#2e47b4 14.5px,#294bb4 15.5px,#2f53b1 17.5px,#2b5daf 20.5px,#2a60ad 23.5px,#2f57b1 27.5px,#294ebb 30.5px,#2d4abb 31.5px,#3845b5 32.5px,#3d42ae 33.5px,#3f3ca0 36.5px,#3f3b9c 39.5px,#3f3a9b 173.5px)"></i>
<i style="background:linear-gradient(90deg,#3f3a9b 0.5px,#3840a8 5.5px,#3f3ca0 11.5px,#3b419f 21.5px,#3944b1 31.5px,#3f3c9f 38.5px,#3f3a9b 43.5px,#3f3a9b 173.5px)"></i>
<i style="background:linear-gradient(90deg,#3f3a9b 0.5px,#3a45b4 3.5px,#334abf 4.5px,#2450c8 5.5px,#2b4dc5 7.5px,#3b45b5 10.5px,#3840a3 13.5px,#39479f 20.5px,#39479f 21.5px,#334fc0 27.5px,#304dc5 30.5px,#3947bb 33.5px,#3f3da3 39.5px,#3f3a9c 43.5px,#3f3a9b 173.5px)"></i>
<i style="background:linear-gradient(90deg,#3f3a9b 0.5px,#3c41ac 3.5px,#2f48b8 5.5px,#3745b5 8.5px,#3b46b9 10.5px,#3649be 11.5px,#274ec2 12.5px,#2153c0 13.5px,#285fbb 15.5px,#2170b6 18.5px,#2575ae 21.5px,#2475b2 22.5px,#2170c4 25.5px,#2665ca 27.5px,#1c5ad1 29.5px,#2254d0 30.5px,#334cc6 31.5px,#3948bc 32.5px,#3d40a9 35.5px,#3f3b9e 41.5px,#3f3a9b 173.5px)"></i>
<i style="background:linear-gradient(90deg,#3f3a9b 0.5px,#3c3fa7 4.5px,#3d3fa6 8.5px,#3c42b0 10.5px,#3846b7 11.5px,#2a4cbf 12.5px,#2551c0 13.5px,#2a5cbe 15.5px,#2367bd 17.5px,#256eb5 20.5px,#2669b7 24.5px,#2d59b9 27.5px,#2650bc 29.5px,#2b4abb 30.5px,#3845b4 31.5px,#3d41ac 32.5px,#3e3da1 35.5px,#3f3a9b 52.5px,#3f3a9b 173.5px)"></i>
<i style="background:linear-gradient(90deg,#3f3a9b 0.5px,#3e3c9f 10.5px,#3a3fa3 13.5px,#3945a1 20.5px,#3f3b9c 34.5px,#3f3da2 44.5px,#3f3a9b 52.5px,#3f3a9b 173.5px)"></i>
<i style="background:linear-gradient(90deg,#3f3a9b 0.5px,#3f3a9b 173.5px)"></i>
</div>
<div class="hm" style="left:482px;top:314px;width:174px;height:68px">
<i style="background:linear-gradient(90deg,#3f3a9b 0.5px,#3f3a9b 15.5px,#3844b3 19.5px,#1f53c0 23.5px,#2861ba 26.5px,#2174b0 31.5px,#3d7c9c 34.5px,#457d98 36.5px,#2376ae 39.5px,#2074b2 41.5px,#317ca3 42.5px,#737c7e 44.5px,#957568 46.5px,#947e5d 48.5px,#967763 50.5px,#7d7a79 52.5px,#637f87 53.5px,#3e7e9b 54.5px,#2477ac 55.5px,#2861ba 57.5px,#1f51c0 59.5px,#3347b8 61.5px,#3a43b1 63.5px,#3447b7 65.5px,#2051bf 67.5px,#275abb 71.5px,#244dbf 74.5px,#3844b3 75.5px,#3f3a9c 77.5px,#3f3c9f 80.5px,#3c41ac 81.5px,#2b4abc 82.5px,#2153be 83.5px,#295eb9 85.5px,#2863b7 88.5px,#1f51c0 95.5px,#274cbf 96.5px,#3c41ad 98.5px,#3f3b9c 100.5px,#3f3a9b 112.5px,#3e3da3 114.5px,#3f3a9b 118.5px,#3f3a9b 173.5px)"></i>
<i style="background:linear-gradient(90deg,#3f3a9b 0.5px,#3f3b9e 16.5px,#3248ba 20.5px,#0863dc 23.5px,#157dd3 26.5px,#1189d1 28.5px,#0b8ecb 31.5px,#3690b0 36.5px,#1a93be 38.5px,#0c97cb 40.5px,#09a1c4 41.5px,#25afaa 42.5px,#62b686 43.5px,#99b069 44.5px,#bea755 45.5px,#d5a342 46.5px,#d6ae33 47.5px,#d3b42f 48.5px,#d7a63a 50.5px,#c8a24f 51.5px,#aaaa61 52.5px,#7eb278 53.5px,#3eb19a 54.5px,#10a5b9 55.5px,#0b95cc 56.5px,#177fd0 57.5px,#0762dc 59.5px,#2f4ec8 61.5px,#3946b8 63.5px,#3348bb 65.5px,#1d53c2 67.5px,#255ec1 71.5px,#1f55ce 74.5px,#344cc4 75.5px,#3a46b5 76.5px,#3b42ab 77.5px,#3e3ea2 80.5px,#3b44af 81.5px,#294dbf 82.5px,#1d57c2 83.5px,#2666bb 86.5px,#2668bb 88.5px,#256bc6 89.5px,#0f70d8 91.5px,#0668dd 94.5px,#0862dd 95.5px,#175ada 96.5px,#354bc1 98.5px,#3845b4 99.5px,#3a42ae 104.5px,#3f3a9c 107.5px,#3e3b9c 112.5px,#3d3ea5 114.5px,#3f3a9b 118.5px,#3f3a9b 125.5px,#3b41ac 127.5px,#284ab6 129.5px,#284ab6 131.5px,#3345b3 133.5px,#3f3a9c 136.5px,#3f3a9b 137.5px,#3f3a9b 173.5px)"></i>
<i style="background:linear-gradient(90deg,#3f3a9b 0.5px,#3c3fa7 3.5px,#2d47b0 6.5px,#3045b0 12.5px,#3e3c9e 15.5px,#3f3d9d 20.5px,#3e40a6 21.5px,#3649ba 22.5px,#1b56c8 23.5px,#186ed6 25.5px,#1278d6 26.5px,#1680d3 28.5px,#0b73d9 33.5px,#186ad6 36.5px,#146cd7 37.5px,#07a2c7 41.5px,#1cadb2 42.5px,#4db593 43.5px,#7cb279 44.5px,#9aad69 45.5px,#a8aa5d 46.5px,#99b05b 48.5px,#9f9d67 50.5px,#929578 51.5px,#6b9287 53.5px,#3e909b 54.5px,#1c88b1 55.5px,#197cbf 56.5px,#226cc2 57.5px,#1657cb 59.5px,#2d4cc3 60.5px,#3946b6 61.5px,#3e3da3 64.5px,#3d3ea1 70.5px,#294fbe 72.5px,#2a61c5 75.5px,#2d63bb 78.5px,#305ca9 80.5px,#2e58ae 88.5px,#2b60c1 89.5px,#1d6ad3 90.5px,#0873da 91.5px,#0578da 93.5px,#0a70da 95.5px,#275fce 98.5px,#2056d3 102.5px,#334dc5 104.5px,#3c43af 106.5px,#3b41a9 107.5px,#2c48b0 109.5px,#2c49b1 114.5px,#3f3a9c 117.5px,#3f3a9b 125.5px,#3847b9 127.5px,#264fc6 128.5px,#1954c8 129.5px,#1955c7 130.5px,#1f51c6 132.5px,#2b4cc2 133.5px,#3746b8 134.5px,#3f3b9c 136.5px,#3f3a9b 137.5px,#3f3a9b 173.5px)"></i>
<i style="background:linear-gradient(90deg,#3f3a9b 0.5px,#3f3a9b 1.5px,#3848bd 3.5px,#1d55cf 5.5px,#1458ce 6.5px,#1762cf 10.5px,#135ed3 11.5px,#1a57d5 12.5px,#2b50cc 13.5px,#354aad 15.5px,#3653a0 18.5px,#5d538c 22.5px,#5e548b 23.5px,#5c5d9e 24.5px,#4869b5 25.5px,#3277bd 26.5px,#3288be 28.5px,#128bcf 31.5px,#1278d6 35.5px,#1d74ce 37.5px,#0b89d2 40.5px,#0996c9 42.5px,#31a1ab 44.5px,#3fa1a3 45.5px,#3b9fa6 46.5px,#1991c2 48.5px,#2279cc 50.5px,#186dd4 51.5px,#235cd2 52.5px,#364db3 53.5px,#3249aa 54.5px,#3244ab 62.5px,#3f3a9b 65.5px,#3f3a9b 69.5px,#3f3da2 70.5px,#304ec9 71.5px,#0765dc 72.5px,#1475d6 73.5px,#0f91cd 75.5px,#189cc1 76.5px,#339fad 78.5px,#399fa4 80.5px,#3198b3 84.5px,#118fcb 87.5px,#0c91d0 95.5px,#1486d0 98.5px,#0875d8 101.5px,#0b6cd8 102.5px,#2263d0 103.5px,#2c5cc4 104.5px,#2f59bf 106.5px,#2a5dc6 107.5px,#086dd8 109.5px,#0f75d5 111.5px,#0967db 114.5px,#1b59d6 115.5px,#334abe 116.5px,#3c3ea5 117.5px,#3f3a9b 120.5px,#3d3ea3 128.5px,#3f3a9b 136.5px,#3f3a9b 173.5px)"></i>
<i style="background:linear-gradient(90deg,#3f3a9b 0.5px,#3f3a9b 1.5px,#3847b9 4.5px,#3443a9 7.5px,#334ebd 11.5px,#2e54c9 12.5px,#1960d8 13.5px,#086dda 14.5px,#2389c3 16.5px,#1f9abb 17.5px,#2da5a7 18.5px,#8aad70 20.5px,#aba75f 21.5px,#d09e47 23.5px,#d4a142 24.5px,#c6a251 26.5px,#b2a75e 27.5px,#93af6e 28.5px,#63b587 29.5px,#2ab0a8 30.5px,#09a4c2 31.5px,#157fd4 33.5px,#0762de 35.5px,#2954d0 36.5px,#374cbf 37.5px,#364cbf 38.5px,#2655d0 39.5px,#125dd5 40.5px,#0c61d6 41.5px,#0f60d3 43.5px,#2756cb 47.5px,#2554cf 50.5px,#0f5dd3 54.5px,#1b6ecc 59.5px,#0e5fd3 62.5px,#2a4fca 63.5px,#3d41ad 64.5px,#3f3a9b 65.5px,#3f3b9d 70.5px,#3749bf 71.5px,#0b60d7 72.5px,#1972cf 73.5px,#0f95c1 75.5px,#42a69a 76.5px,#84a478 77.5px,#a39e6a 78.5px,#b39d5c 79.5px,#b8a451 80.5px,#b8a454 82.5px,#ada361 83.5px,#96a96e 84.5px,#71b182 85.5px,#32b2a3 86.5px,#0aa4c3 87.5px,#1283d3 91.5px,#1488d1 94.5px,#0896ce 97.5px,#0f93c2 100.5px,#0f8ac9 109.5px,#1484ca 111.5px,#1875d2 113.5px,#0666de 115.5px,#165bd9 116.5px,#2f51c7 117.5px,#3942a3 120.5px,#3f3a9b 130.5px,#3f3a9b 173.5px)"></i>
<i style="background:linear-gradient(90deg,#3f3a9b 0.5px,#3f3a9b 1.5px,#354bc4 3.5px,#115cdb 5.5px,#0665dd 7.5px,#1579d5 11.5px,#069dcc 14.5px,#27adad 15.5px,#6cb385 16.5px,#97ad6e 17.5px,#b0a85f 18.5px,#c6a550 20.5px,#bea657 22.5px,#cea24b 23.5px,#d4a245 25.5px,#cba24f 26.5px,#b6a75b 27.5px,#97ae6b 28.5px,#66b384 29.5px,#2caea5 30.5px,#0ba1bf 31.5px,#177bd2 33.5px,#0960dd 35.5px,#2a52d1 36.5px,#364ac1 37.5px,#3843ab 40.5px,#3a42a2 49.5px,#3843a9 62.5px,#3c3fa0 64.5px,#3c429d 68.5px,#46439a 71.5px,#3c499e 76.5px,#404faf 77.5px,#275ed1 78.5px,#156ed4 79.5px,#2482c6 81.5px,#0fa3bc 86.5px,#15aab9 89.5px,#08a2c8 91.5px,#1482d5 95.5px,#046ddf 97.5px,#1d5cd7 98.5px,#374dba 99.5px,#3b43a2 100.5px,#3b419e 101.5px,#3c409e 111.5px,#374bbd 113.5px,#2655d4 114.5px,#0463e0 115.5px,#1073da 117.5px,#1476d6 119.5px,#0762dc 124.5px,#155ad9 125.5px,#2c50cd 126.5px,#3948bd 127.5px,#3f3ca1 129.5px,#3f3a9b 130.5px,#3f3a9b 173.5px)"></i>
<i style="background:linear-gradient(90deg,#3f3a9b 0.5px,#3f3a9b 1.5px,#3a47bb 3.5px,#1b58d9 5.5px,#0860de 6.5px,#0467df 7.5px,#0e76da 10.5px,#0c79d8 14.5px,#1e7bcd 18.5px,#1771cf 22.5px,#2a65ca 24.5px,#385ec2 25.5px,#4454b1 27.5px,#3a47a0 30.5px,#3b41a1 33.5px,#304fcb 36.5px,#155ada 37.5px,#0964db 38.5px,#187bce 44.5px,#0d92c8 50.5px,#0f8fc8 53.5px,#1b77cc 57.5px,#1670d3 60.5px,#1979cf 64.5px,#0d95c6 67.5px,#19a1b3 68.5px,#50ab92 69.5px,#81a778 70.5px,#98a26c 71.5px,#9da06a 72.5px,#8fa371 73.5px,#66a986 74.5px,#20a1af 75.5px,#0d90c9 76.5px,#187cd0 77.5px,#0a6bdd 78.5px,#2b52cd 79.5px,#3941a4 80.5px,#3848a2 86.5px,#374fb1 87.5px,#1266d8 88.5px,#0d7ad7 89.5px,#1486d0 90.5px,#0e97cd 92.5px,#1296cb 93.5px,#1f82cc 95.5px,#1464d5 97.5px,#404fb7 98.5px,#46429a 99.5px,#3c419d 104.5px,#3c3d9f 111.5px,#3b40a6 112.5px,#354ac0 113.5px,#1a59d9 114.5px,#0468df 115.5px,#1279d7 117.5px,#147dd5 119.5px,#076ddb 124.5px,#0f64d8 125.5px,#2d59cc 126.5px,#3e4fba 127.5px,#3f44a0 129.5px,#3d419c 130.5px,#3f3a9b 137.5px,#3f3a9b 173.5px)"></i>
<i style="background:linear-gradient(90deg,#3f3a9b 0.5px,#3f3a9b 1.5px,#3947bb 3.5px,#2b51ce 4.5px,#0f5cda 5.5px,#0966db 6.5px,#1480d0 9.5px,#0d8ccf 10.5px,#0a97c9 19.5px,#1b9eb8 22.5px,#1a99ba 24.5px,#1291c2 25.5px,#1389c7 26.5px,#1f71c9 28.5px,#1656ce 30.5px,#3648bc 31.5px,#3d3fa7 33.5px,#3949ba 35.5px,#2954d1 36.5px,#0766de 37.5px,#127fd5 39.5px,#0f8ad2 40.5px,#0a96ce 43.5px,#1485d2 47.5px,#0571da 51.5px,#2860ca 53.5px,#3352b2 56.5px,#3253bc 58.5px,#2c58ca 59.5px,#1362db 60.5px,#086ddd 61.5px,#147fd4 63.5px,#0b95cf 67.5px,#3087bf 71.5px,#2c7fc3 73.5px,#0f77d2 75.5px,#0870d8 76.5px,#0a61db 78.5px,#2152cc 80.5px,#2153cd 81.5px,#115bd2 83.5px,#1e76cb 87.5px,#1182d2 88.5px,#0c8ecf 89.5px,#119fbd 91.5px,#2ca8a9 92.5px,#55ab92 93.5px,#78a681 94.5px,#8e9f76 95.5px,#a29169 98.5px,#879573 100.5px,#4e9b93 102.5px,#1891b6 104.5px,#128cc0 105.5px,#1b70cb 110.5px,#0f64d8 113.5px,#0468df 115.5px,#167cd5 120.5px,#0a95cb 123.5px,#24a0b2 124.5px,#50a399 125.5px,#719e88 126.5px,#7d9a7f 127.5px,#699b86 128.5px,#2794a9 130.5px,#158cb8 131.5px,#1f71c5 133.5px,#1955cd 135.5px,#3c42b0 136.5px,#3f3a9b 137.5px,#3f3a9b 173.5px)"></i>
<i style="background:linear-gradient(90deg,#3f3a9b 0.5px,#3d3ea5 3.5px,#2f45af 5.5px,#2f55aa 10.5px,#2f58ab 14.5px,#2a62c1 17.5px,#1f6ace 19.5px,#1c70ce 21.5px,#2d6bbf 23.5px,#2d5eae 25.5px,#2e48b0 30.5px,#3a43ac 31.5px,#3a48b7 32.5px,#2852c9 33.5px,#155fcf 34.5px,#1a75d3 36.5px,#0d82d5 37.5px,#0b8cd3 38.5px,#089cce 42.5px,#0888d4 51.5px,#1483ce 53.5px,#1981c3 56.5px,#207acb 59.5px,#1279d6 61.5px,#1583d2 68.5px,#0e6adb 72.5px,#245ed1 73.5px,#2d54c3 74.5px,#2e48af 76.5px,#2f45af 78.5px,#2f4ec7 81.5px,#2355d3 82.5px,#0f62dc 84.5px,#1d66d4 86.5px,#2e62c2 88.5px,#2d5daa 90.5px,#2e5fa6 91.5px,#546290 94.5px,#6a5f84 98.5px,#57628d 101.5px,#4a669c 102.5px,#396db6 103.5px,#1776ce 104.5px,#0d7ed2 105.5px,#1888ce 107.5px,#178ccd 110.5px,#147ad4 114.5px,#066bdd 117.5px,#1d65d6 120.5px,#2368cb 123.5px,#5164a1 126.5px,#566095 127.5px,#4f5e92 128.5px,#2f59a6 131.5px,#3144ae 135.5px,#3e3da3 136.5px,#3f3a9b 137.5px,#3f3a9b 173.5px)"></i>
<i style="background:linear-gradient(90deg,#3f3a9b 0.5px,#3e3c9d 14.5px,#3944ae 18.5px,#334cc0 19.5px,#1d59d8 20.5px,#1164db 21.5px,#206bd0 23.5px,#236abe 26.5px,#246abf 31.5px,#226fc8 32.5px,#0c7ed7 34.5px,#108ad3 36.5px,#0a97ce 40.5px,#118ad0 44.5px,#077cd7 49.5px,#1188d1 52.5px,#0a9ec5 55.5px,#36a8aa 57.5px,#46a6a2 58.5px,#4ba3a1 59.5px,#2a9bb6 63.5px,#2b9bb5 64.5px,#4c9ea3 67.5px,#4b9ea3 68.5px,#3a9eac 69.5px,#1896c1 70.5px,#0889d3 71.5px,#1b66d6 73.5px,#2652ce 74.5px,#3c41aa 75.5px,#3c3c9f 76.5px,#3c41a7 80.5px,#3949b9 81.5px,#135fda 82.5px,#1771d7 83.5px,#0c82d5 84.5px,#138ec6 85.5px,#3f94ac 86.5px,#58909e 87.5px,#578d9b 88.5px,#2581ac 90.5px,#1c7ab7 91.5px,#1f76b8 93.5px,#227caf 95.5px,#3d849b 96.5px,#688584 97.5px,#847f75 98.5px,#997a68 100.5px,#8f7e73 102.5px,#818584 103.5px,#688e94 104.5px,#5c9699 105.5px,#739f89 110.5px,#6f9e8d 112.5px,#579d9b 114.5px,#1490c2 117.5px,#0c88ca 118.5px,#1c72d1 121.5px,#185cd3 124.5px,#384bbd 126.5px,#403fa0 128.5px,#3f3c9b 129.5px,#3f3a9b 173.5px)"></i>
<i style="background:linear-gradient(90deg,#3f3a9b 0.5px,#3f3b9c 18.5px,#3d40aa 19.5px,#2b4fc8 20.5px,#1c5cd4 21.5px,#1865d8 22.5px,#0e72d6 25.5px,#107fd7 33.5px,#097ad9 35.5px,#1675d5 36.5px,#2070c9 37.5px,#2369b7 39.5px,#295fb9 44.5px,#2155be 49.5px,#2960b8 52.5px,#2371b0 55.5px,#4083ae 57.5px,#2d8fb8 61.5px,#208cbf 63.5px,#218bbe 64.5px,#4885ad 67.5px,#4c84aa 68.5px,#4282ae 69.5px,#2a7dba 70.5px,#1f74c5 71.5px,#2555d1 74.5px,#2f4cc0 75.5px,#2150be 76.5px,#2962b8 80.5px,#266ac2 81.5px,#097bd8 82.5px,#1088d3 83.5px,#0c95d0 84.5px,#149dc3 85.5px,#38a0ae 86.5px,#4a9da6 87.5px,#469aa8 88.5px,#178ec3 90.5px,#0c83ce 91.5px,#1c79cc 92.5px,#2672bf 93.5px,#2771ab 95.5px,#3b789c 96.5px,#5d788a 97.5px,#73737f 98.5px,#846f74 100.5px,#7e7079 102.5px,#667787 105.5px,#757480 110.5px,#717686 112.5px,#4f7a98 115.5px,#2c74a8 117.5px,#2370af 118.5px,#295bba 122.5px,#2250be 124.5px,#3944b2 126.5px,#3f3a9c 129.5px,#3d3ea4 136.5px,#3f3a9b 141.5px,#3f3a9b 173.5px)"></i>
<i style="background:linear-gradient(90deg,#3f3a9b 0.5px,#3f3a9b 18.5px,#3f3b9d 19.5px,#3c41ad 20.5px,#2b4cbf 22.5px,#1e52c2 24.5px,#1d58c7 26.5px,#1b60d2 27.5px,#0e69dc 28.5px,#137bd6 32.5px,#0b6fdb 35.5px,#1965d8 36.5px,#235ccc 37.5px,#244fba 39.5px,#2c5bb3 49.5px,#2b57b5 55.5px,#2b5bc0 56.5px,#1966d6 58.5px,#0c6ada 59.5px,#0768dc 62.5px,#175ed9 66.5px,#2961c7 72.5px,#2565cd 74.5px,#0e70d6 76.5px,#1680d1 79.5px,#0b97cd 83.5px,#139dc4 84.5px,#2fa0b3 85.5px,#4c9ca5 86.5px,#669097 88.5px,#5b829d 91.5px,#687594 93.5px,#5d728e 94.5px,#39729e 96.5px,#2c6baa 98.5px,#2c51ba 112.5px,#2955b6 119.5px,#264eb9 123.5px,#3844b1 126.5px,#3d3fa8 130.5px,#274dbe 136.5px,#3942ae 139.5px,#3f3a9b 141.5px,#3f3a9b 173.5px)"></i>
<i style="background:linear-gradient(90deg,#3f3a9b 0.5px,#3543ae 8.5px,#3e3b9c 13.5px,#3c3fa4 25.5px,#3b42ac 26.5px,#354bbf 27.5px,#1e56cf 28.5px,#175fcf 29.5px,#216cc8 32.5px,#1d67d2 36.5px,#0c62db 38.5px,#0a69da 42.5px,#1671d3 46.5px,#2070cd 47.5px,#236bbe 50.5px,#175ac9 61.5px,#2154d0 64.5px,#2056d5 65.5px,#0860de 67.5px,#0666de 68.5px,#1172d8 71.5px,#2072ca 75.5px,#1f75c9 79.5px,#0789d3 82.5px,#0891ce 83.5px,#189cbe 84.5px,#42a6a4 85.5px,#68a58f 86.5px,#8d9f76 88.5px,#90a36d 89.5px,#8fa36d 90.5px,#859f7c 92.5px,#61a88d 94.5px,#45ac9b 95.5px,#27abaa 96.5px,#16a7b5 97.5px,#14a3bb 98.5px,#239aba 102.5px,#2594bc 105.5px,#0876d4 111.5px,#1077ce 114.5px,#3081ba 117.5px,#3781b6 119.5px,#2980bd 121.5px,#0d75cf 123.5px,#136cd4 124.5px,#285ccc 126.5px,#2951c5 128.5px,#3849be 131.5px,#1a53c7 135.5px,#254ec4 138.5px,#3647b9 139.5px,#3f3a9b 141.5px,#3f3a9b 173.5px)"></i>
<i style="background:linear-gradient(90deg,#3f3a9b 0.5px,#3f3a9b 1.5px,#3c43b2 4.5px,#2c4fcb 7.5px,#2752d1 9.5px,#314abe 11.5px,#3244aa 13.5px,#364aa7 19.5px,#3550b2 23.5px,#2e4dbb 31.5px,#384abc 35.5px,#2d4fc7 37.5px,#125acf 39.5px,#1865cd 42.5px,#125ecf 45.5px,#1a57cf 46.5px,#3150c8 47.5px,#304aaf 49.5px,#334dab 50.5px,#3055a8 55.5px,#334daa 62.5px,#2a58cd 65.5px,#0b64dc 67.5px,#0769dd 68.5px,#096adc 71.5px,#1266da 72.5px,#2a5ec9 74.5px,#2f5abb 76.5px,#2f5bba 78.5px,#2862c8 80.5px,#0672da 82.5px,#1986ce 85.5px,#1492ca 88.5px,#148fc9 93.5px,#0c98c3 96.5px,#36aaa6 100.5px,#3bb0a2 103.5px,#32aba9 106.5px,#0a97c6 110.5px,#0991ca 112.5px,#1996bd 114.5px,#699a8c 117.5px,#779783 118.5px,#7a9680 119.5px,#739783 120.5px,#5f988c 121.5px,#1a8db4 123.5px,#167fc3 124.5px,#1f73c5 125.5px,#145cce 128.5px,#1c54cc 129.5px,#304cc3 130.5px,#3946b8 131.5px,#3c3da2 134.5px,#3f3a9b 141.5px,#3f3a9b 173.5px)"></i>
<i style="background:linear-gradient(90deg,#3f3a9b 0.5px,#3947ba 7.5px,#2d4ec9 9.5px,#1f54d1 10.5px,#0f5fd4 13.5px,#1c70cd 17.5px,#1c79c8 22.5px,#1d71cb 27.5px,#0e60d7 31.5px,#125bda 32.5px,#2f4fc7 34.5px,#3940a7 38.5px,#3b3fa3 42.5px,#3443a8 45.5px,#3545ab 46.5px,#334ec1 47.5px,#165ed9 48.5px,#0c6cd9 49.5px,#1676d3 50.5px,#0e89cf 52.5px,#0b9cc4 57.5px,#278cbf 61.5px,#2b82c2 63.5px,#0f7cd5 68.5px,#1780d0 74.5px,#0b8dcf 77.5px,#0d97cb 82.5px,#158ace 85.5px,#056ade 91.5px,#1f5ad4 94.5px,#1b5bd3 95.5px,#0f5fd4 96.5px,#0e67d3 97.5px,#1c78ca 99.5px,#168ac5 101.5px,#1392c1 103.5px,#148ec4 105.5px,#1b77cb 108.5px,#0c63d4 111.5px,#195bd1 113.5px,#404bb1 118.5px,#3c409d 123.5px,#3a40a5 127.5px,#3f3a9b 135.5px,#3f3a9b 173.5px)"></i>
<i style="background:linear-gradient(90deg,#3f3a9b 0.5px,#3a41a8 6.5px,#3942a4 11.5px,#364dbd 16.5px,#3944a2 19.5px,#3a3fa3 30.5px,#3748ba 31.5px,#1f57d8 32.5px,#0863dd 33.5px,#0c68da 35.5px,#0f5cd8 37.5px,#2851ce 38.5px,#364ac0 39.5px,#3b45b5 41.5px,#304dc8 43.5px,#1758d6 44.5px,#0a62d8 45.5px,#146fd5 47.5px,#1475d5 49.5px,#086bda 53.5px,#1585ce 55.5px,#0a99cd 56.5px,#0ba7bf 57.5px,#2ab1a9 58.5px,#55b691 59.5px,#78b47e 60.5px,#8db073 61.5px,#98ad6e 63.5px,#90ae73 64.5px,#7db07d 65.5px,#5cb28e 66.5px,#32aea6 67.5px,#13a4bb 68.5px,#0b98cb 69.5px,#1577d4 71.5px,#0a6bda 72.5px,#0f5fda 73.5px,#2d53cb 74.5px,#374cbc 75.5px,#374bba 76.5px,#0863db 77.5px,#1586ce 79.5px,#0b96cb 80.5px,#0ba0c1 81.5px,#22aaad 82.5px,#31ada4 83.5px,#2aaba8 84.5px,#15a4b7 85.5px,#0b9bc6 86.5px,#177ed1 89.5px,#0761dc 92.5px,#2454d4 93.5px,#364ac2 94.5px,#3841a6 96.5px,#3844a3 109.5px,#3f3a9b 123.5px,#3749bf 125.5px,#324cc5 126.5px,#334bc4 127.5px,#3f3b9d 131.5px,#3f3a9b 132.5px,#3f3a9b 173.5px)"></i>
<i style="background:linear-gradient(90deg,#3f3a9b 0.5px,#3f3a9b 1.5px,#3c45b5 3.5px,#334cc5 4.5px,#1958d7 5.5px,#0a64da 6.5px,#1876d1 8.5px,#1781cc 10.5px,#1972d2 14.5px,#1a7ccc 22.5px,#1e73cd 25.5px,#1566d0 28.5px,#1e5fcf 29.5px,#3953c1 31.5px,#354bb7 36.5px,#3b3ea3 39.5px,#3b3fa0 54.5px,#3b41a1 55.5px,#3152c4 56.5px,#0868d8 57.5px,#1e81ca 59.5px,#1e8dc4 61.5px,#2381c6 64.5px,#1270d2 66.5px,#1463d4 67.5px,#3054c4 68.5px,#3b42a4 70.5px,#3e3c9f 74.5px,#3e459e 83.5px,#3c3fa6 93.5px,#354bc3 94.5px,#0f5cd6 95.5px,#1b74cc 98.5px,#186fcf 104.5px,#1b78cb 106.5px,#1288c8 108.5px,#108cc7 110.5px,#1971ce 113.5px,#0c62d5 114.5px,#344bc2 115.5px,#3f3a9c 116.5px,#3f3a9b 173.5px)"></i>
<i style="background:linear-gradient(90deg,#3f3a9b 0.5px,#3f3a9b 1.5px,#3b45b6 3.5px,#354bc4 4.5px,#175bda 6.5px,#1163dc 8.5px,#1d61d7 9.5px,#3451b4 11.5px,#354eb0 12.5px,#2e55c7 15.5px,#0769de 17.5px,#177fd2 19.5px,#0d90cf 20.5px,#0f9dc1 21.5px,#2fa6ab 22.5px,#5da892 23.5px,#7fa380 24.5px,#959d74 25.5px,#a2996c 26.5px,#a79667 28.5px,#979875 30.5px,#829c7f 31.5px,#319ba9 33.5px,#1591be 34.5px,#1486c9 35.5px,#1d79cb 36.5px,#1657d0 39.5px,#324cc4 40.5px,#3b45b6 41.5px,#3f3b9e 45.5px,#3f3a9b 52.5px,#3d3fa7 56.5px,#3442a8 57.5px,#334ca8 61.5px,#344ba8 65.5px,#47419a 69.5px,#474097 72.5px,#3c3f9e 76.5px,#3f3ca0 81.5px,#334bc1 85.5px,#3a46b7 87.5px,#3e3b9d 89.5px,#3f3b9e 93.5px,#3442a9 95.5px,#3251a7 109.5px,#3145ab 114.5px,#3c3c9f 116.5px,#3f3a9b 173.5px)"></i>
<i style="background:linear-gradient(90deg,#3f3a9b 0.5px,#3e3ea5 3.5px,#3746b7 5.5px,#2f4ec7 6.5px,#185adb 7.5px,#0867df 8.5px,#1c75d0 10.5px,#1f72c6 12.5px,#1e6cce 14.5px,#0862df 17.5px,#1e5ed6 18.5px,#2a5dca 19.5px,#2b65bc 21.5px,#4a6fb3 24.5px,#4175b7 30.5px,#3d71b9 32.5px,#2866c3 34.5px,#2e5bc4 36.5px,#2951cb 39.5px,#324dc8 40.5px,#3d3d9e 47.5px,#3d3e9e 57.5px,#3d3fa2 58.5px,#324cc0 60.5px,#1558cd 61.5px,#216cc5 63.5px,#1983b9 65.5px,#429099 66.5px,#7a8d7b 67.5px,#98866a 68.5px,#a8835f 69.5px,#ab8658 70.5px,#a38464 72.5px,#8e8971 73.5px,#669187 74.5px,#268cab 75.5px,#1780bf 76.5px,#2072c2 77.5px,#145ccb 79.5px,#324fbe 80.5px,#3e48ae 81.5px,#4246a8 82.5px,#3e4db9 87.5px,#3b44b0 94.5px,#3946b6 96.5px,#3449be 97.5px,#145acd 99.5px,#206fc4 102.5px,#1d81bc 107.5px,#2971bc 112.5px,#1d5fc6 115.5px,#2157c7 117.5px,#1557cc 123.5px,#3a45b5 127.5px,#3f3b9e 132.5px,#3f3a9b 173.5px)"></i>
<i style="background:linear-gradient(90deg,#3f3a9b 0.5px,#3f3a9b 1.5px,#3649bd 5.5px,#2e4fca 6.5px,#0b62dd 8.5px,#0c71d9 10.5px,#056cdf 16.5px,#1b62d1 20.5px,#206ad0 23.5px,#0b84d4 27.5px,#0b87d2 29.5px,#1e74d0 32.5px,#1862d4 34.5px,#2257d1 35.5px,#354ec2 36.5px,#384ab7 37.5px,#3b4bb6 39.5px,#3a4ebf 40.5px,#1e5dd0 42.5px,#2a67c2 45.5px,#2965bc 47.5px,#1f5ec3 51.5px,#2566be 57.5px,#2369c8 59.5px,#1d6ad3 60.5px,#096cdd 61.5px,#076bde 62.5px,#1c68d6 63.5px,#2869b7 65.5px,#5e6c8d 67.5px,#776986 69.5px,#727092 71.5px,#6073a3 73.5px,#3f7cb4 74.5px,#1081cb 75.5px,#0e82d2 76.5px,#1684d0 77.5px,#0b8cc8 79.5px,#568997 81.5px,#708485 82.5px,#7f817b 83.5px,#8a7f78 85.5px,#7c8585 87.5px,#6b898f 88.5px,#3288af 90.5px,#1e81bd 91.5px,#256ac6 93.5px,#1a59ce 95.5px,#334cc6 97.5px,#1e56d6 98.5px,#0666dd 99.5px,#157dd2 101.5px,#0d9bc4 104.5px,#23a4b3 105.5px,#43a8a0 106.5px,#5ea693 107.5px,#7e9f81 109.5px,#89a370 111.5px,#8b9c72 113.5px,#839282 114.5px,#4b95a3 117.5px,#118dc6 119.5px,#0984d2 120.5px,#1077d5 121.5px,#0a5fdc 123.5px,#2851ca 124.5px,#3248b9 125.5px,#3e3ea5 128.5px,#3f3a9b 133.5px,#3f3a9b 173.5px)"></i>
<i style="background:linear-gradient(90deg,#3f3a9b 0.5px,#3b41ad 4.5px,#2e49b9 7.5px,#234ebc 9.5px,#2351bb 12.5px,#2354c1 13.5px,#1e5bd1 14.5px,#0964dc 15.5px,#076cde 16.5px,#157bd5 23.5px,#1193cd 30.5px,#158ccf 32.5px,#1079d6 34.5px,#1770d5 35.5px,#2379b7 37.5px,#598195 39.5px,#6f8190 40.5px,#768291 41.5px,#718690 42.5px,#7a8e89 44.5px,#77918c 45.5px,#5c989b 47.5px,#419aa9 48.5px,#2296bb 49.5px,#0e8eca 50.5px,#0d85d3 51.5px,#1279d6 52.5px,#0c6dda 54.5px,#1e67d3 55.5px,#2763c9 56.5px,#0d71d8 58.5px,#1277d9 60.5px,#0c76d9 62.5px,#226fc9 64.5px,#2b66b9 67.5px,#2b61c1 69.5px,#1f5dd0 71.5px,#2658d2 72.5px,#3351c8 73.5px,#2e51c4 74.5px,#2354c0 75.5px,#2b5eb5 77.5px,#266ead 79.5px,#63748a 82.5px,#796e7d 85.5px,#707082 87.5px,#637388 88.5px,#276dac 91.5px,#2c5cb5 93.5px,#244fbb 95.5px,#3a43af 97.5px,#2351bc 99.5px,#2b5db6 101.5px,#256ead 104.5px,#507793 106.5px,#607d9a 107.5px,#568aa2 108.5px,#699396 109.5px,#68ab81 111.5px,#75b372 112.5px,#82b26d 113.5px,#7cac79 114.5px,#50aa98 116.5px,#44a2a6 117.5px,#1286c8 119.5px,#2766c1 121.5px,#244ebd 123.5px,#3844b0 124.5px,#3e3b9d 126.5px,#3f3a9b 173.5px)"></i>
<i style="background:linear-gradient(90deg,#3f3a9b 0.5px,#3c3e9e 12.5px,#3c41a4 13.5px,#3848b4 14.5px,#2352c0 15.5px,#1d60d1 16.5px,#1173d8 17.5px,#1691c6 20.5px,#2695bc 21.5px,#2f96b7 22.5px,#3395b5 25.5px,#4699a9 28.5px,#499da6 30.5px,#369eb0 33.5px,#1894c5 35.5px,#0a9aca 36.5px,#0da5bc 37.5px,#35b0a1 38.5px,#6eb381 39.5px,#9aac6b 40.5px,#b6a65c 41.5px,#cea14a 43.5px,#c4a352 45.5px,#b1a85e 46.5px,#92b06f 47.5px,#64b587 48.5px,#22abb0 50.5px,#119ec4 51.5px,#0c72d9 54.5px,#1e65d5 55.5px,#235ccd 56.5px,#0566df 58.5px,#1481d3 63.5px,#1684cf 66.5px,#1476d6 69.5px,#0566de 71.5px,#175adb 72.5px,#334ec7 73.5px,#3c40a6 75.5px,#3c3e9e 76.5px,#3946ae 79.5px,#2750b9 81.5px,#2852b9 82.5px,#2d4db4 84.5px,#3d46ac 86.5px,#3e3e9b 90.5px,#3c3f9e 103.5px,#354ab3 106.5px,#0f71d8 108.5px,#1b83cf 109.5px,#10a6bd 111.5px,#41b499 112.5px,#6cb281 113.5px,#7bad78 114.5px,#68ac80 116.5px,#6a8d93 118.5px,#4b7ea8 120.5px,#2972b5 121.5px,#2b61b7 122.5px,#2550b9 124.5px,#3a43ac 126.5px,#3d40a6 127.5px,#3f3a9b 137.5px,#3f3a9b 173.5px)"></i>
<i style="background:linear-gradient(90deg,#3f3a9b 0.5px,#3f3a9b 1.5px,#3443af 2.5px,#2f56ac 5.5px,#3153ac 8.5px,#2d5ea7 12.5px,#5b638d 15.5px,#5e6da2 16.5px,#4c82ab 17.5px,#5690a0 18.5px,#50a198 19.5px,#54ac8b 20.5px,#7ab374 22.5px,#7fb075 23.5px,#6cb582 27.5px,#60ab8e 31.5px,#47ab9d 33.5px,#19a0bc 35.5px,#0d96c9 36.5px,#0e97c5 37.5px,#279bb3 38.5px,#77928a 40.5px,#8f8b7b 41.5px,#a1866d 43.5px,#958a78 45.5px,#689890 47.5px,#489ea1 48.5px,#30a0af 50.5px,#179bbf 51.5px,#0c92cd 52.5px,#1377d7 55.5px,#0a6cdc 57.5px,#0d70da 62.5px,#216ecb 64.5px,#236cbf 66.5px,#2368c2 68.5px,#1767d7 70.5px,#0567de 71.5px,#1462db 72.5px,#2a5cca 73.5px,#2f57b0 75.5px,#2f56ad 76.5px,#2f57b0 77.5px,#2b5cc7 79.5px,#0965db 81.5px,#0763dc 82.5px,#3647b8 86.5px,#3b43b1 87.5px,#3f3a9c 90.5px,#3e3b9c 94.5px,#3d3fa6 95.5px,#2f46b1 96.5px,#3151ae 99.5px,#3150ae 103.5px,#2d56c4 105.5px,#0c6ada 107.5px,#1584d1 109.5px,#0a96ce 110.5px,#0ba5bf 111.5px,#51b590 112.5px,#99af69 113.5px,#c3a650 114.5px,#ceac3d 115.5px,#d2ad37 117.5px,#d2a244 118.5px,#b8a459 119.5px,#7caf7a 120.5px,#32a8a5 121.5px,#2094be 122.5px,#0878d3 124.5px,#2962c5 126.5px,#2e5cbc 127.5px,#2b48b2 133.5px,#3b40aa 135.5px,#3f3b9e 137.5px,#3f3a9b 173.5px)"></i>
<i style="background:linear-gradient(90deg,#3f3a9b 0.5px,#3f3a9b 1.5px,#274fc7 2.5px,#1e64c7 3.5px,#1c78c1 5.5px,#2072c2 8.5px,#0b87d0 11.5px,#0e96c3 12.5px,#2aa2ae 13.5px,#54a994 14.5px,#76a781 15.5px,#bfa750 18.5px,#caad41 19.5px,#d1b531 21.5px,#d4aa3c 23.5px,#c8a64e 24.5px,#aaae60 25.5px,#4db296 27.5px,#30a9aa 28.5px,#1a9fba 29.5px,#0f95c4 30.5px,#188ec3 31.5px,#1e71c5 36.5px,#1664cb 38.5px,#1a5bc9 39.5px,#3153c2 40.5px,#3c4eb8 41.5px,#3f4cb4 42.5px,#3452c0 45.5px,#0b6dda 48.5px,#117ad7 52.5px,#0f66da 61.5px,#115ed8 62.5px,#2952cd 63.5px,#3948b8 64.5px,#3c41a6 65.5px,#3d3e9e 67.5px,#3d3fa1 68.5px,#3b45b2 69.5px,#2d50ca 70.5px,#105fd8 71.5px,#1674d5 73.5px,#1081d1 75.5px,#137fd2 78.5px,#0c5fdc 82.5px,#324dc7 83.5px,#3c40a8 84.5px,#3e3b9e 86.5px,#3144ab 94.5px,#2e4dc1 95.5px,#0f5cda 96.5px,#0f67d9 97.5px,#1a6dd3 98.5px,#1f73cc 100.5px,#1d69c9 107.5px,#158abb 111.5px,#37979f 112.5px,#72997e 113.5px,#98916a 114.5px,#ae8c5c 115.5px,#b78e4f 116.5px,#b78d52 118.5px,#a98d60 119.5px,#8d9470 120.5px,#3696a1 122.5px,#1a8db4 123.5px,#1488c2 124.5px,#1780cc 126.5px,#1d74cf 129.5px,#0b60db 133.5px,#1958d7 134.5px,#2c4fc9 135.5px,#3842ad 137.5px,#3b3fa7 138.5px,#3f3a9b 143.5px,#3f3a9b 173.5px)"></i>
<i style="background:linear-gradient(90deg,#3f3a9b 0.5px,#3444a8 8.5px,#344bb3 9.5px,#245bd2 10.5px,#076edd 11.5px,#1687cf 13.5px,#119ec6 15.5px,#19a9b6 16.5px,#48b497 17.5px,#81b376 18.5px,#aaac5f 19.5px,#c5a949 20.5px,#c3b63b 21.5px,#beb53e 22.5px,#bdb341 23.5px,#bba256 24.5px,#92aa72 25.5px,#3aada2 26.5px,#0c98ca 27.5px,#1683d0 28.5px,#0d62da 30.5px,#2f53c9 31.5px,#364bb9 32.5px,#3446a8 34.5px,#3747a6 45.5px,#354eb5 46.5px,#265bd0 47.5px,#066add 48.5px,#0c79d8 51.5px,#0768de 58.5px,#145edb 60.5px,#3349bb 63.5px,#3741a5 65.5px,#3943a4 68.5px,#2f52c6 71.5px,#0f61dd 73.5px,#0567de 74.5px,#106dda 78.5px,#0c5fdb 81.5px,#2554d3 82.5px,#3849c0 83.5px,#3e3ea4 85.5px,#3e3ca0 86.5px,#3e3da3 87.5px,#3a46b9 89.5px,#314dc7 90.5px,#1d56d3 91.5px,#105cd5 92.5px,#105ad4 96.5px,#2952cb 98.5px,#344cc0 100.5px,#374abc 104.5px,#3d3e9e 107.5px,#3c3f9e 110.5px,#40489f 118.5px,#3647a5 122.5px,#3546a8 123.5px,#2e51c8 126.5px,#1e58d7 132.5px,#1857d2 135.5px,#2850cb 137.5px,#3b44b4 140.5px,#3f3a9b 143.5px,#3f3a9b 173.5px)"></i>
<i style="background:linear-gradient(90deg,#3f3a9b 0.5px,#3e41ad 4.5px,#364ac1 6.5px,#2653d2 7.5px,#0a5fda 8.5px,#1574d7 10.5px,#177fd2 13.5px,#0e9ec3 17.5px,#1ba7b1 18.5px,#38ad9e 19.5px,#48b095 20.5px,#3eaf99 21.5px,#23a8ab 22.5px,#189dbc 23.5px,#2182c9 25.5px,#0769db 27.5px,#2d51cc 29.5px,#304dc7 30.5px,#304ec9 31.5px,#0e5cd7 33.5px,#0b64d7 34.5px,#1877d2 39.5px,#1684cf 45.5px,#0893d2 48.5px,#089bcb 51.5px,#0a95cb 54.5px,#167cd1 57.5px,#0968db 60.5px,#0a61db 62.5px,#1875d1 70.5px,#1371d9 72.5px,#0269e1 74.5px,#0564e0 75.5px,#2557d4 78.5px,#3b46b9 84.5px,#364ac1 90.5px,#3840a5 95.5px,#3f3b9d 110.5px,#3a46b9 112.5px,#2f4ec8 113.5px,#1957d5 114.5px,#0b5ed8 115.5px,#0f69d6 118.5px,#0a5fd8 122.5px,#1c57d6 125.5px,#0e5cda 129.5px,#1f56d5 131.5px,#3a44b3 133.5px,#3c3da0 134.5px,#3f3a9b 173.5px)"></i>
<i style="background:linear-gradient(90deg,#3f3a9b 0.5px,#3f3a9b 1.5px,#3c45b6 5.5px,#344fc0 10.5px,#364db6 13.5px,#3848a2 15.5px,#414b9a 19.5px,#3748a2 23.5px,#3a3fa3 29.5px,#3b41a6 36.5px,#2e51ca 39.5px,#0964da 41.5px,#1480d4 46.5px,#167bd3 48.5px,#0a6ed8 50.5px,#1e62d4 51.5px,#3056c3 52.5px,#364eb2 53.5px,#3847a5 54.5px,#3b3ea0 59.5px,#3944b0 63.5px,#3b3fa2 66.5px,#3c3fa0 70.5px,#3b43a9 71.5px,#364bbd 72.5px,#1d58d6 73.5px,#0766db 74.5px,#1774d3 77.5px,#0b63d9 80.5px,#1c57d5 81.5px,#354bc2 82.5px,#3e41ab 84.5px,#3e40aa 85.5px,#3a46b9 87.5px,#1a57d6 90.5px,#0d5cd7 93.5px,#2c4fca 99.5px,#1a56d3 104.5px,#2253d0 106.5px,#3848bc 109.5px,#3c3fa1 112.5px,#3b3da1 123.5px,#3b40a8 126.5px,#3f3b9d 133.5px,#3947bb 136.5px,#3848bd 137.5px,#3f3a9b 141.5px,#3f3a9b 173.5px)"></i>
<i style="background:linear-gradient(90deg,#3f3a9b 0.5px,#3e3da1 3.5px,#3749bd 6.5px,#2c51cd 7.5px,#115dd8 8.5px,#1169d7 9.5px,#1b7acf 11.5px,#168ac7 13.5px,#1c98b2 15.5px,#57a48c 17.5px,#66a384 18.5px,#62a287 19.5px,#4da294 20.5px,#289baa 21.5px,#118ec0 22.5px,#1d77c6 24.5px,#1b69cb 26.5px,#1462cf 32.5px,#1656cf 34.5px,#314bc3 35.5px,#3f3c9f 37.5px,#3442a7 41.5px,#314ec0 42.5px,#0667df 43.5px,#137dd7 44.5px,#0b94d1 45.5px,#15a6bb 46.5px,#5baf91 47.5px,#7eaa7f 48.5px,#7da97f 49.5px,#5eab8e 50.5px,#2ca2ac 51.5px,#1b93c0 52.5px,#2477c4 54.5px,#1061d1 56.5px,#2c52c7 57.5px,#3a47b1 58.5px,#3c3f9f 59.5px,#3d3e9e 60.5px,#454199 71.5px,#354ca7 76.5px,#3148aa 80.5px,#3d429f 84.5px,#3246aa 92.5px,#3841a9 106.5px,#3841ab 107.5px,#364abf 108.5px,#2455d3 109.5px,#0d61d8 110.5px,#196acf 113.5px,#115dd0 117.5px,#1557cf 118.5px,#344ac0 120.5px,#3f3b9d 124.5px,#3f3a9b 133.5px,#3d3da2 137.5px,#3f3a9b 141.5px,#3f3a9b 173.5px)"></i>
<i style="background:linear-gradient(90deg,#3f3a9b 0.5px,#3f3a9b 1.5px,#3846b7 3.5px,#1260d6 6.5px,#0f74da 8.5px,#0a92d2 10.5px,#0b99cc 11.5px,#16a4bd 12.5px,#55b194 14.5px,#68b187 15.5px,#73b47f 16.5px,#6db782 17.5px,#48b696 18.5px,#24a9b3 19.5px,#198cca 21.5px,#077ad8 22.5px,#2066d1 23.5px,#3255b6 24.5px,#324eae 25.5px,#2e47ae 33.5px,#3f3a9c 37.5px,#3c3c9f 41.5px,#3b41a8 42.5px,#0f5fde 43.5px,#127bd8 44.5px,#0a95d1 45.5px,#0eaabc 46.5px,#67b885 47.5px,#a3af66 48.5px,#bca956 49.5px,#b5b04f 50.5px,#a1b157 51.5px,#94a074 53.5px,#7ea283 54.5px,#54a59a 55.5px,#1d9db9 56.5px,#118dca 57.5px,#2071c3 60.5px,#1f69c7 62.5px,#1684be 64.5px,#1d8db0 65.5px,#5f9788 67.5px,#7b947a 68.5px,#8b9171 69.5px,#948f6c 71.5px,#7e9478 73.5px,#649786 74.5px,#3f969a 75.5px,#218fae 76.5px,#1686bd 77.5px,#1d78c3 78.5px,#1687bb 81.5px,#3092a4 84.5px,#1c87b8 87.5px,#197dc2 90.5px,#1f6dc6 96.5px,#155fcc 99.5px,#1857cc 100.5px,#2c4fc5 101.5px,#3549bb 102.5px,#3b44b2 104.5px,#324abf 106.5px,#155bd3 108.5px,#0f64db 109.5px,#066ddf 111.5px,#076adf 112.5px,#1a62d9 113.5px,#2b58c8 114.5px,#2d4cb0 116.5px,#384abb 122.5px,#3d3d9e 128.5px,#3f3a9b 173.5px)"></i>
<i style="background:linear-gradient(90deg,#3f3a9b 0.5px,#3f3a9b 1.5px,#3a46b9 2.5px,#2552cf 3.5px,#0963de 5.5px,#0e89d2 11.5px,#158fc9 12.5px,#2795be 13.5px,#4295ae 15.5px,#4493ad 16.5px,#3b90b2 17.5px,#0a80d2 19.5px,#0b74d6 20.5px,#1d65d4 21.5px,#205ad1 22.5px,#3749bb 24.5px,#2e4bc0 28.5px,#3c3d9e 31.5px,#3d3ea2 39.5px,#3648b8 40.5px,#1b54c6 41.5px,#1c5cc6 42.5px,#106bdc 43.5px,#0e88cf 46.5px,#4b87ab 48.5px,#5884a3 49.5px,#5c8e9c 52.5px,#588fa2 53.5px,#4a96a9 54.5px,#169dc3 56.5px,#0b96ce 57.5px,#1379d7 61.5px,#1378d7 62.5px,#1387d1 63.5px,#099bcb 64.5px,#12a7b8 65.5px,#38b19f 66.5px,#69b483 67.5px,#8db070 68.5px,#a2ab64 69.5px,#aea95e 71.5px,#a5ab63 72.5px,#91af6d 73.5px,#70b37e 74.5px,#40b299 75.5px,#18a8b3 76.5px,#0a9cc7 77.5px,#128acf 78.5px,#128ad0 79.5px,#08a1c7 81.5px,#1eaeb0 82.5px,#45b597 83.5px,#62b487 84.5px,#6cb182 85.5px,#59af90 87.5px,#13a1be 90.5px,#0f93ce 93.5px,#0b86d4 98.5px,#1861d4 102.5px,#2254d0 103.5px,#3949bb 104.5px,#3b43ad 105.5px,#284db6 108.5px,#1f5dd3 110.5px,#046adf 111.5px,#2170cc 114.5px,#236dc3 115.5px,#2565c1 119.5px,#246dc6 124.5px,#2562c0 127.5px,#1c52c4 134.5px,#3944b4 136.5px,#3f3b9e 138.5px,#3f3a9b 139.5px,#3f3a9b 173.5px)"></i>
<i style="background:linear-gradient(90deg,#3f3a9b 0.5px,#3f3a9b 1.5px,#3b43b0 2.5px,#2d4cc1 3.5px,#0765de 6.5px,#1381d4 10.5px,#147fd4 11.5px,#1173d6 14.5px,#256bcd 15.5px,#2c64c2 16.5px,#2c5dba 17.5px,#244ebc 20.5px,#3745b3 22.5px,#3a43af 24.5px,#334bc2 26.5px,#2653d2 27.5px,#175ad6 28.5px,#285aba 31.5px,#2152bd 36.5px,#2457c0 39.5px,#2160cf 40.5px,#0d69d9 41.5px,#0c6eda 44.5px,#265eca 47.5px,#285dc9 49.5px,#126fd5 52.5px,#107dd3 55.5px,#0b7ad6 58.5px,#1269da 62.5px,#1975ce 64.5px,#2379c0 65.5px,#64778e 68.5px,#6f7384 69.5px,#75707d 71.5px,#677385 73.5px,#2c70a7 76.5px,#256bb3 77.5px,#2866c0 78.5px,#2369cd 79.5px,#077bd8 80.5px,#0b8ad1 81.5px,#2fabab 83.5px,#6eb681 84.5px,#a9ac61 85.5px,#b2b44e 86.5px,#98b75c 88.5px,#75b072 90.5px,#78a77b 91.5px,#5ca794 92.5px,#21a6b6 93.5px,#1099ca 94.5px,#168ecc 95.5px,#0d7cd4 98.5px,#1273d5 100.5px,#086ddc 102.5px,#1067da 103.5px,#2462ca 104.5px,#2861bc 105.5px,#216db9 108.5px,#197acb 110.5px,#0684d4 111.5px,#0e8ad2 113.5px,#157fd3 115.5px,#0e76d7 116.5px,#2069d1 117.5px,#2b5ebd 118.5px,#2b5bb6 119.5px,#2b5eb9 125.5px,#254cb9 134.5px,#3b42ad 136.5px,#3f3b9d 138.5px,#3f3a9b 173.5px)"></i>
<i style="background:linear-gradient(90deg,#3f3a9b 0.5px,#3f3a9b 1.5px,#3b44b4 3.5px,#195cd6 5.5px,#0d6bdb 6.5px,#0d8ad1 8.5px,#229abc 10.5px,#097ed3 14.5px,#2964c3 16.5px,#244dbb 19.5px,#3943af 21.5px,#3d3ea2 24.5px,#3b43af 26.5px,#1e53c2 28.5px,#265dbc 31.5px,#1f54c0 36.5px,#245bbf 41.5px,#1e54c1 44.5px,#3448b8 46.5px,#3a44b0 48.5px,#3348b9 50.5px,#1e53c2 52.5px,#225bbf 55.5px,#1f57c0 59.5px,#2157d0 62.5px,#3a48af 66.5px,#41419f 69.5px,#3e409c 75.5px,#3947af 77.5px,#304ec0 78.5px,#0568de 80.5px,#1182d3 82.5px,#0f90cd 83.5px,#3f9fa9 84.5px,#77988a 85.5px,#80a376 86.5px,#78ad72 89.5px,#87b266 90.5px,#a5af5a 91.5px,#9ead67 92.5px,#6faa81 93.5px,#63a08b 94.5px,#689a8a 95.5px,#5d809d 98.5px,#5281a6 99.5px,#1287c9 102.5px,#0c86ce 103.5px,#128acd 106.5px,#0b89d0 111.5px,#1378d6 115.5px,#0e72d9 116.5px,#2069d0 117.5px,#2b60bb 118.5px,#2b5eb3 119.5px,#254fb9 124.5px,#304ab9 125.5px,#3a45b3 126.5px,#3d3da0 130.5px,#3f3a9b 173.5px)"></i>
<i style="background:linear-gradient(90deg,#3f3a9b 0.5px,#3f3a9b 1.5px,#3749bf 3.5px,#1d57d7 4.5px,#0769dd 5.5px,#1278d7 6.5px,#089ec9 8.5px,#15aab7 9.5px,#31b1a3 10.5px,#1fadaf 12.5px,#08a0c7 14.5px,#1684d0 16.5px,#0864db 19.5px,#2554ca 21.5px,#2f52b4 25.5px,#2b5caf 31.5px,#2e4ab2 37.5px,#3945ad 39.5px,#3d3da2 46.5px,#3c40a8 48.5px,#2b4bb4 50.5px,#2a5eae 53.5px,#3364a4 54.5px,#556690 56.5px,#59658e 57.5px,#4e6694 59.5px,#2f6cb8 61.5px,#266ac1 62.5px,#2e59ae 66.5px,#2c5dab 75.5px,#2868c0 77.5px,#0a77d3 79.5px,#067cd5 80.5px,#1c85cd 85.5px,#0f8acc 88.5px,#1b89c2 89.5px,#378ea8 90.5px,#628f8b 91.5px,#828978 92.5px,#95836d 93.5px,#9d8662 94.5px,#979068 96.5px,#878b7f 98.5px,#72908c 99.5px,#3894ad 101.5px,#1c80b5 103.5px,#2369c0 109.5px,#1c5ec5 112.5px,#2063c7 115.5px,#246bbc 119.5px,#2462bf 122.5px,#1b55c5 124.5px,#3a44b3 126.5px,#3f3b9d 129.5px,#3f3a9b 173.5px)"></i>
<i style="background:linear-gradient(90deg,#3f3a9b 0.5px,#3f3a9b 1.5px,#334dc7 3.5px,#155ad9 4.5px,#0c67dc 5.5px,#1172d8 6.5px,#0894cd 8.5px,#149fbd 9.5px,#2ca8ad 10.5px,#27a8af 11.5px,#08a0c8 14.5px,#128cd0 16.5px,#0a7bd7 18.5px,#0772d8 21.5px,#177fd0 26.5px,#0c96c9 30.5px,#2796ba 32.5px,#4184b2 34.5px,#4171af 37.5px,#5864a9 39.5px,#5064ab 41.5px,#305bb3 44.5px,#344eb2 46.5px,#2e4dc3 48.5px,#2553d2 49.5px,#155fd3 50.5px,#206aca 51.5px,#1b7acb 52.5px,#0b8bcc 53.5px,#1e9ab7 54.5px,#4ea29a 55.5px,#6aa28b 56.5px,#72a186 57.5px,#6ca389 58.5px,#5aa692 59.5px,#1ea4b5 61.5px,#0b9ec4 62.5px,#0a9bc9 63.5px,#1e94c0 69.5px,#0b98c9 73.5px,#0994c8 79.5px,#117cd5 85.5px,#0669dd 88.5px,#215ed3 89.5px,#3058c1 90.5px,#3950ab 92.5px,#3a4eaa 93.5px,#3157c7 96.5px,#225dd1 97.5px,#1961d2 98.5px,#1861d1 100.5px,#215ace 101.5px,#374dbc 102.5px,#3c42a2 103.5px,#3c3f9d 104.5px,#3c3c9e 113.5px,#3c41a7 116.5px,#3d3fa0 118.5px,#3f3a9c 129.5px,#3f3a9b 173.5px)"></i>
<i style="background:linear-gradient(90deg,#3f3a9b 0.5px,#3f3a9b 1.5px,#3848bd 3.5px,#135ad3 6.5px,#0d62d4 7.5px,#1d7bc7 10.5px,#0f8fcc 15.5px,#0f8ec5 20.5px,#1480d4 28.5px,#08a5c4 30.5px,#27b1a9 31.5px,#63b787 32.5px,#97b06c 33.5px,#b9a759 34.5px,#cfa249 35.5px,#d2a93b 36.5px,#d4a93a 38.5px,#d2a047 39.5px,#bca458 40.5px,#9bac6a 41.5px,#6ab384 42.5px,#2daea6 43.5px,#0ba1c1 44.5px,#177ad3 46.5px,#0c6cdb 47.5px,#0c5edc 48.5px,#2c51cf 49.5px,#3b46b2 51.5px,#334ec2 52.5px,#115ed5 53.5px,#197ed0 56.5px,#1689ce 59.5px,#0892d0 62.5px,#0f9fbf 65.5px,#36aba6 68.5px,#33ada7 70.5px,#0fa7bd 72.5px,#08a0c9 73.5px,#1287d2 76.5px,#0571da 79.5px,#0e6bd9 80.5px,#1766d7 82.5px,#066bde 87.5px,#1a6dd1 90.5px,#1a6bcc 92.5px,#0f5dd3 95.5px,#1857d2 96.5px,#304dc5 98.5px,#3e3ca1 104.5px,#3f3a9b 113.5px,#3f3ea4 119.5px,#3f3a9b 122.5px,#3640a5 129.5px,#3f3a9b 135.5px,#3f3a9b 173.5px)"></i>
<i style="background:linear-gradient(90deg,#3f3a9b 0.5px,#3c40a1 12.5px,#3250c2 14.5px,#3053c6 15.5px,#3746a9 20.5px,#3a47b1 23.5px,#2d53cb 25.5px,#0f5fda 26.5px,#0b6dda 27.5px,#1679d3 28.5px,#0aa0c1 30.5px,#2aada7 31.5px,#66b486 32.5px,#97af6d 33.5px,#b8a75b 34.5px,#cfa449 35.5px,#d4ac3b 36.5px,#d4ad3a 38.5px,#d1a548 39.5px,#bba959 40.5px,#9ab16b 41.5px,#67b786 42.5px,#2ab1a9 43.5px,#06a4c5 44.5px,#147cd6 46.5px,#0a6ede 47.5px,#0b5fde 48.5px,#2d50ce 49.5px,#3948bd 50.5px,#3d40aa 52.5px,#3b41aa 53.5px,#354bc1 54.5px,#2057d5 55.5px,#0862db 56.5px,#096bda 58.5px,#026ae0 61.5px,#0d67db 64.5px,#258bc4 70.5px,#179cc4 73.5px,#16a2bf 77.5px,#0d9acb 82.5px,#117fd7 85.5px,#036ce0 87.5px,#145fdc 88.5px,#2f52c9 89.5px,#3943a4 91.5px,#3d449e 99.5px,#3949b8 103.5px,#2753d0 106.5px,#304ec8 108.5px,#3b3ea2 110.5px,#3b419f 122.5px,#384bb8 124.5px,#2258d4 126.5px,#125dda 127.5px,#0760dc 129.5px,#0f5cd9 131.5px,#1c56d5 132.5px,#354ac1 133.5px,#3e3ea5 134.5px,#3f3a9b 135.5px,#3f3a9b 173.5px)"></i>
<i style="background:linear-gradient(90deg,#3f3a9b 0.5px,#3f3b9d 12.5px,#3a47ba 13.5px,#0b5fdd 14.5px,#167ad4 16.5px,#167bd3 18.5px,#0864d9 20.5px,#354fc0 21.5px,#3b419f 22.5px,#3847a1 30.5px,#3a4ba8 31.5px,#3955bd 32.5px,#2362d2 33.5px,#126ed5 34.5px,#217ecc 36.5px,#2386c8 38.5px,#1d80ce 41.5px,#046cde 44.5px,#0b62dd 45.5px,#2953d0 47.5px,#344bc3 49.5px,#3b3ea1 53.5px,#3740a4 58.5px,#3646b2 59.5px,#2a52ce 60.5px,#0368e0 61.5px,#1179d8 62.5px,#09a0c5 64.5px,#60b18c 65.5px,#a7a565 66.5px,#c2ab45 67.5px,#c1b33e 68.5px,#c8b639 72.5px,#c0b53e 76.5px,#bfa553 78.5px,#97ac6e 80.5px,#77b27f 81.5px,#4ab497 82.5px,#20abb1 83.5px,#09a0c5 84.5px,#177dd3 88.5px,#1473d5 91.5px,#187cd0 93.5px,#0b9cc4 96.5px,#2daba5 98.5px,#29aaa8 99.5px,#11a3b9 100.5px,#0b99c9 101.5px,#187dd2 103.5px,#096bdd 105.5px,#0762df 107.5px,#0c67d9 110.5px,#197ad0 113.5px,#0c93cb 116.5px,#0b99c7 119.5px,#0e91ce 125.5px,#137ed5 127.5px,#0468df 129.5px,#1f59d7 130.5px,#324fc5 131.5px,#3a3ea2 133.5px,#3f3a9b 136.5px,#3f3a9b 173.5px)"></i>
<i style="background:linear-gradient(90deg,#3f3a9b 0.5px,#3f3a9b 1.5px,#3b45b6 5.5px,#3e3ea4 10.5px,#3c43b2 12.5px,#2e4fcb 13.5px,#0664dd 14.5px,#1584d0 16.5px,#0c92cd 17.5px,#0e9cc1 19.5px,#1d77c6 26.5px,#1e72ca 31.5px,#0c73dc 34.5px,#0865dc 42.5px,#2354d4 47.5px,#0e5ed9 50.5px,#1065d3 53.5px,#0e5cd4 58.5px,#086ede 61.5px,#1178d9 62.5px,#108ed0 64.5px,#30a3ab 67.5px,#3ead98 68.5px,#7ab474 70.5px,#8eb369 71.5px,#95b266 72.5px,#8fb369 73.5px,#7ab474 74.5px,#33a8a1 76.5px,#309dae 77.5px,#3689b9 79.5px,#0c6fd3 83.5px,#2e58c5 86.5px,#3253c1 88.5px,#2f54c7 89.5px,#235ad3 90.5px,#0a64db 91.5px,#1388d3 94.5px,#07a1cb 96.5px,#14aeb6 98.5px,#12adb8 99.5px,#079fcd 101.5px,#1384d4 103.5px,#0564dd 106.5px,#2852ce 109.5px,#2c53ca 111.5px,#2a56cd 112.5px,#0c66d9 114.5px,#0871da 115.5px,#1382d3 117.5px,#0a99cd 120.5px,#0aa0c4 122.5px,#15a6b9 124.5px,#0a91ce 128.5px,#1b6fd1 131.5px,#115bd1 133.5px,#2b4fc8 134.5px,#3b44b3 135.5px,#3f3b9e 136.5px,#3f3a9b 173.5px)"></i>
<i style="background:linear-gradient(90deg,#3f3a9b 0.5px,#3f3a9b 1.5px,#354bc3 6.5px,#2e4ec8 8.5px,#354bbb 13.5px,#2c4eb5 14.5px,#3351ac 15.5px,#325ea3 19.5px,#3250ad 30.5px,#3150b0 31.5px,#2b59c9 32.5px,#1a61d9 33.5px,#0c65dc 34.5px,#1060db 36.5px,#2a52c7 38.5px,#2f47af 40.5px,#3446ae 47.5px,#2854cd 49.5px,#115fdd 50.5px,#0469df 51.5px,#0d74db 54.5px,#0366e0 59.5px,#1c68d5 65.5px,#2c62c0 67.5px,#415c99 69.5px,#525c90 71.5px,#525c90 73.5px,#3359a3 76.5px,#2f46af 83.5px,#3942a9 86.5px,#3941aa 89.5px,#2f46b0 91.5px,#2a54c9 92.5px,#0969dd 93.5px,#1179d8 94.5px,#0c93d0 96.5px,#0a9fc9 98.5px,#0e8fd1 101.5px,#0d74da 103.5px,#1563da 104.5px,#2e51c0 105.5px,#2f46ae 106.5px,#3841ab 108.5px,#3a40a9 112.5px,#3045ae 114.5px,#2d59c8 117.5px,#2c5ec4 119.5px,#335dac 123.5px,#305cae 126.5px,#2f45ad 133.5px,#3e3da3 135.5px,#3f3a9b 137.5px,#3f3a9b 173.5px)"></i>
<i style="background:linear-gradient(90deg,#3f3a9b 0.5px,#3f3a9b 1.5px,#3c44b3 3.5px,#324dc8 6.5px,#1262d9 9.5px,#1f72cd 11.5px,#1a80c0 13.5px,#2687ad 14.5px,#428c99 15.5px,#588d8c 16.5px,#638c87 17.5px,#638c86 18.5px,#588d8c 19.5px,#2281b1 22.5px,#2062c4 30.5px,#1959d4 32.5px,#2952cf 33.5px,#2a49b6 35.5px,#3c3e9f 40.5px,#3c40a4 41.5px,#3548b9 42.5px,#1955c8 43.5px,#2264c2 45.5px,#216ebf 47.5px,#137ad5 50.5px,#0466df 59.5px,#0c5fdd 63.5px,#175bdb 64.5px,#354bc0 66.5px,#3b42ac 67.5px,#3f3c9b 69.5px,#3e3b9c 82.5px,#3b43b0 83.5px,#244fc4 84.5px,#1b56c5 85.5px,#1954c7 89.5px,#314bbd 91.5px,#334fc6 92.5px,#2158d1 93.5px,#2061d4 94.5px,#0874da 96.5px,#0b7ed5 99.5px,#0b73d8 101.5px,#1168d9 102.5px,#225bd1 103.5px,#2d4dc3 104.5px,#3b41a9 105.5px,#3c3d9f 106.5px,#3c3e9f 114.5px,#354ec1 117.5px,#3252c5 119.5px,#374cbd 121.5px,#3c40a3 123.5px,#3e3b9c 130.5px,#3f3a9b 173.5px)"></i>
<i style="background:linear-gradient(90deg,#3f3a9b 0.5px,#3f3a9b 1.5px,#354bc3 4.5px,#165dd8 7.5px,#1068db 8.5px,#1085d3 10.5px,#0a98cc 12.5px,#0ea1c0 13.5px,#2eaca5 14.5px,#60b087 15.5px,#86ad73 16.5px,#9ca967 17.5px,#a4a760 18.5px,#91a867 20.5px,#5da292 23.5px,#1198c3 26.5px,#177fd0 28.5px,#0d6bd9 30.5px,#2254ce 32.5px,#3649bf 33.5px,#3947b9 34.5px,#1f51c1 36.5px,#295dba 40.5px,#295fbf 41.5px,#2364ce 42.5px,#0e6bd9 43.5px,#1583d0 51.5px,#107fd4 54.5px,#0761de 63.5px,#1e57d8 64.5px,#344bc3 65.5px,#3d40aa 66.5px,#3f3b9e 67.5px,#3f3a9b 77.5px,#3d3c9d 82.5px,#3b41ab 83.5px,#2a4ab9 84.5px,#244fba 85.5px,#205ad0 87.5px,#0962db 88.5px,#0a66da 89.5px,#2269ce 91.5px,#236bcb 92.5px,#206bd0 94.5px,#096add 96.5px,#0965dd 97.5px,#1f5dd0 98.5px,#2555bd 100.5px,#274fc1 102.5px,#334dc4 103.5px,#2c50c7 104.5px,#1f55c1 105.5px,#2764b9 108.5px,#236bb8 114.5px,#207ebd 117.5px,#2a84b9 119.5px,#1d7fc2 120.5px,#2665c5 122.5px,#2157bf 123.5px,#2d4bbd 124.5px,#3c41ab 125.5px,#3f3b9d 126.5px,#3f3a9b 173.5px)"></i>
<i style="background:linear-gradient(90deg,#3f3a9b 0.5px,#3f3a9b 1.5px,#3d43b1 2.5px,#2254d0 4.5px,#1164db 6.5px,#0b6ddc 7.5px,#147dd5 9.5px,#0f86d4 10.5px,#0a83d2 12.5px,#1f80bf 13.5px,#5f7f8a 15.5px,#777b7d 16.5px,#90756c 18.5px,#927767 19.5px,#8d756e 21.5px,#737a7f 23.5px,#2478b1 26.5px,#2766c3 28.5px,#1d57cd 30.5px,#2d4fc9 31.5px,#3b46b8 33.5px,#3848bd 34.5px,#1f54c9 36.5px,#2663c9 41.5px,#2160ce 44.5px,#235ac0 47.5px,#2566ba 55.5px,#2561c5 58.5px,#155bd9 63.5px,#2853d2 64.5px,#3849bf 65.5px,#3d40a9 66.5px,#3e3ca0 67.5px,#423c99 77.5px,#4240a2 78.5px,#294eb6 80.5px,#2a54b7 83.5px,#254eba 85.5px,#354bbd 86.5px,#354bbe 87.5px,#2050c1 88.5px,#2863b9 92.5px,#2961b9 94.5px,#155ad9 97.5px,#2754bb 100.5px,#2956ba 101.5px,#2961c6 103.5px,#1c6bd3 104.5px,#0c77d6 105.5px,#128bcc 108.5px,#0f90ca 113.5px,#0c9ec2 116.5px,#1ea9b0 119.5px,#0ea3bc 120.5px,#0d96c9 121.5px,#1861d7 124.5px,#3b42ad 126.5px,#3f3b9e 128.5px,#3f3a9b 173.5px)"></i>
<i style="background:linear-gradient(90deg,#3f3a9b 0.5px,#3f3a9b 1.5px,#3c44b2 2.5px,#314ec9 3.5px,#115bdb 4.5px,#0768dd 5.5px,#1279d7 7.5px,#1083d4 9.5px,#0e84d4 10.5px,#0f6cd9 12.5px,#265dcc 13.5px,#2a50b9 14.5px,#3a48ad 15.5px,#43419c 17.5px,#41409b 24.5px,#3944b1 30.5px,#3b43ad 38.5px,#3649b7 43.5px,#3c3e9e 48.5px,#3c3f9e 52.5px,#2d4bb6 56.5px,#2a51cc 60.5px,#2653d2 63.5px,#314bc0 66.5px,#2b48b2 68.5px,#2d5fa6 72.5px,#606288 75.5px,#725e7e 77.5px,#736487 78.5px,#676d9b 79.5px,#4f77a7 80.5px,#4283af 82.5px,#3385b7 83.5px,#1b81c4 84.5px,#0e77ce 85.5px,#2368cb 86.5px,#2f59bb 87.5px,#294bb5 89.5px,#3a43ab 91.5px,#3d3ea0 94.5px,#3846b6 96.5px,#1b53c6 98.5px,#1f65cf 101.5px,#1771d4 103.5px,#1778d1 105.5px,#1b7abc 108.5px,#1b7db9 114.5px,#2284ad 119.5px,#1b7ac5 122.5px,#226ec9 123.5px,#1d61cf 124.5px,#2452cc 125.5px,#3947b9 126.5px,#3f3ca0 128.5px,#3f3a9c 129.5px,#3f3a9b 173.5px)"></i>
<i style="background:linear-gradient(90deg,#3f3a9b 0.5px,#3f3a9b 1.5px,#3847ba 3.5px,#2053ce 4.5px,#1361d4 5.5px,#1876d4 7.5px,#088bd2 10.5px,#1177d6 12.5px,#0864db 14.5px,#255acf 15.5px,#3254bc 16.5px,#3152a8 18.5px,#3047ad 34.5px,#3056a7 42.5px,#3155a6 52.5px,#2962c4 54.5px,#116ad6 56.5px,#155bda 60.5px,#2654d2 61.5px,#2b4fc8 62.5px,#2750c8 66.5px,#1657cb 68.5px,#226cc2 70.5px,#1b87b3 72.5px,#38909e 73.5px,#639286 74.5px,#848d75 75.5px,#a78460 77.5px,#ad8659 78.5px,#a68662 80.5px,#998a6b 81.5px,#858f76 82.5px,#669588 83.5px,#3a95a4 84.5px,#198ebd 85.5px,#1583cc 86.5px,#1f73cd 87.5px,#155ace 89.5px,#2a4ec5 90.5px,#3846b7 91.5px,#3e3da2 94.5px,#3c3d9f 99.5px,#344abd 101.5px,#1e55cb 103.5px,#2055cb 104.5px,#3350c5 106.5px,#2f4dae 108.5px,#3251ab 110.5px,#3056aa 116.5px,#2f4cae 120.5px,#3949b6 122.5px,#3e3ea6 127.5px,#3841a9 132.5px,#3f3a9b 137.5px,#3f3a9b 173.5px)"></i>
<i style="background:linear-gradient(90deg,#3f3a9b 0.5px,#3e3ca0 3.5px,#3946b6 5.5px,#2355ce 7.5px,#135bd3 8.5px,#0d60d4 9.5px,#0d61d5 13.5px,#1e74c8 16.5px,#1486c4 18.5px,#128ac7 20.5px,#1475d5 25.5px,#0d6cd9 31.5px,#1160d1 34.5px,#1d76c6 38.5px,#0a93c8 41.5px,#0b98c5 42.5px,#0b96cb 47.5px,#0a9ec5 53.5px,#0898cf 56.5px,#1283d4 58.5px,#0968dc 60.5px,#3056c6 61.5px,#364aac 62.5px,#3243aa 68.5px,#3c40a3 70.5px,#484096 79.5px,#3a48a7 83.5px,#2d54c5 85.5px,#2956cc 86.5px,#2b54cb 87.5px,#3541a9 90.5px,#344da5 104.5px,#3653ae 105.5px,#315ec3 106.5px,#126dd1 107.5px,#1d80ca 109.5px,#0f8ece 114.5px,#1085d0 117.5px,#1772d4 119.5px,#0f66d9 120.5px,#2055d5 121.5px,#3947ba 122.5px,#3b3ea5 123.5px,#3e3da1 126.5px,#304cc4 129.5px,#2651cb 131.5px,#3748bc 134.5px,#3f3a9c 137.5px,#3f3a9b 173.5px)"></i>
<i style="background:linear-gradient(90deg,#3f3a9b 0.5px,#3943a2 7.5px,#45449a 10.5px,#464799 16.5px,#3948a0 18.5px,#3352bf 20.5px,#265ad2 21.5px,#0965de 22.5px,#066edf 23.5px,#0d75dc 24.5px,#127ed7 27.5px,#0f77db 29.5px,#0366e1 31.5px,#2755d2 32.5px,#3649b7 33.5px,#3842a3 34.5px,#3944a2 38.5px,#384aaf 39.5px,#2e56c9 40.5px,#0668de 41.5px,#1382d5 43.5px,#0997d1 45.5px,#09a6c3 50.5px,#0798d0 57.5px,#1a7acd 64.5px,#0a61d8 68.5px,#2553d0 69.5px,#3a46b8 70.5px,#3f3da2 71.5px,#3f3a9b 72.5px,#3f3a9b 78.5px,#3f3c9f 79.5px,#364ac0 81.5px,#0d5ddb 83.5px,#0768de 85.5px,#0f5bd6 90.5px,#0b5dd7 92.5px,#0d6dda 95.5px,#167ed1 98.5px,#0ea1c0 104.5px,#2cb0a8 106.5px,#43b69a 108.5px,#40b69c 109.5px,#31b4a5 110.5px,#07a3c7 112.5px,#1384d4 115.5px,#066edf 117.5px,#0963de 118.5px,#2654d3 120.5px,#344bc2 125.5px,#3e3b9e 129.5px,#3f3a9b 173.5px)"></i>
<i style="background:linear-gradient(90deg,#3f3a9b 0.5px,#3f3a9b 1.5px,#3948bc 3.5px,#2055d5 4.5px,#0867db 5.5px,#1577d3 6.5px,#0b94cb 7.5px,#25a8ab 8.5px,#7aad7b 9.5px,#baa057 10.5px,#c8a542 11.5px,#c6b038 12.5px,#c9b036 14.5px,#cca441 15.5px,#b1a55c 16.5px,#76b07c 17.5px,#20a9ad 18.5px,#0a99c9 19.5px,#1681d3 21.5px,#127bd8 22.5px,#0569e0 29.5px,#197ad0 35.5px,#147ad6 41.5px,#1386d3 46.5px,#0d78da 55.5px,#036bdf 57.5px,#215ad5 58.5px,#364ab5 59.5px,#3942a3 60.5px,#3c3d9f 78.5px,#3b42ab 79.5px,#354bc3 80.5px,#1c58d9 81.5px,#0962de 82.5px,#0665de 84.5px,#0e5edd 85.5px,#2e50cb 86.5px,#3644af 87.5px,#3740a4 88.5px,#3842a3 93.5px,#374ab4 94.5px,#1061dd 95.5px,#1486d3 97.5px,#089fc9 99.5px,#14a9b9 100.5px,#38afa1 102.5px,#3fb09b 103.5px,#3eb19a 106.5px,#11a4ba 109.5px,#0c97c9 111.5px,#167ed1 113.5px,#0764dc 116.5px,#165ad9 117.5px,#354ac1 119.5px,#3e3c9f 124.5px,#3f3a9b 173.5px)"></i>
<i style="background:linear-gradient(90deg,#3f3a9b 0.5px,#3f3a9b 1.5px,#3949be 3.5px,#2753d3 4.5px,#0a61df 5.5px,#066ede 6.5px,#2398c1 9.5px,#30a9a9 11.5px,#65bb80 14.5px,#69b980 15.5px,#57b78d 16.5px,#0baabe 18.5px,#06a0cd 19.5px,#1387d3 21.5px,#0f75db 23.5px,#0763de 26.5px,#185ad8 29.5px,#2b58cc 36.5px,#2959ce 40.5px,#076bde 43.5px,#1483d4 47.5px,#0f8bd4 51.5px,#147fd5 55.5px,#126bd7 58.5px,#1662d1 59.5px,#3653c1 61.5px,#3d4fba 62.5px,#3c50bc 64.5px,#2f56c6 65.5px,#1760ce 66.5px,#1a75cb 69.5px,#197fc9 72.5px,#1b73cc 76.5px,#0d61d7 79.5px,#2954d0 81.5px,#2f50c2 83.5px,#2e51c4 84.5px,#2457d5 86.5px,#0e5fd6 87.5px,#1a74cc 90.5px,#197fc8 93.5px,#1288d2 96.5px,#0779d8 100.5px,#186dd3 101.5px,#375eba 102.5px,#3d539f 103.5px,#3d509d 107.5px,#3443a9 116.5px,#3e3da2 119.5px,#3f3a9b 125.5px,#3f3a9b 173.5px)"></i>
<i style="background:linear-gradient(90deg,#3f3a9b 0.5px,#3e3ea4 2.5px,#354ac2 4.5px,#1e57d7 5.5px,#0469e0 6.5px,#1179d9 7.5px,#0ca1c4 9.5px,#2db0a9 10.5px,#68b883 13.5px,#6bb981 14.5px,#61ba87 15.5px,#12a8ba 18.5px,#198dcc 20.5px,#0c68dc 23.5px,#215cd3 24.5px,#2955c8 25.5px,#3348b1 29.5px,#3347b0 30.5px,#2e52ca 32.5px,#1b5bd8 34.5px,#105ed9 37.5px,#1462d6 39.5px,#1a6ed4 41.5px,#0e89d1 45.5px,#1682d0 48.5px,#117ad5 50.5px,#147dd3 51.5px,#0d95ca 53.5px,#149dbd 54.5px,#679f8f 57.5px,#869580 60.5px,#9e8f72 61.5px,#a98e67 63.5px,#a28e6e 64.5px,#8f937b 65.5px,#4ba49e 67.5px,#20a1b7 68.5px,#0b98ca 69.5px,#1580d4 75.5px,#0f78d7 79.5px,#2075cc 82.5px,#1b79cf 85.5px,#0f80d5 87.5px,#0d8ad3 89.5px,#159fbc 94.5px,#159fbc 96.5px,#0c8ece 99.5px,#1678d3 101.5px,#1e6ccf 102.5px,#135ace 104.5px,#3749b9 106.5px,#3b41a8 109.5px,#304cc3 115.5px,#3847b9 117.5px,#3f3a9c 120.5px,#3f3a9b 173.5px)"></i>
<i style="background:linear-gradient(90deg,#3f3a9b 0.5px,#3f3a9b 1.5px,#334dc6 4.5px,#0465df 6.5px,#1181d5 8.5px,#1192ca 9.5px,#1ba4b8 10.5px,#2eada6 11.5px,#58b48c 12.5px,#7fb277 13.5px,#94ad6b 14.5px,#9ca765 16.5px,#94a569 17.5px,#759c88 20.5px,#599c98 21.5px,#2a98b2 22.5px,#0d8bc7 23.5px,#1b79c9 25.5px,#1f72c4 27.5px,#1b78bf 30.5px,#0f7fd4 34.5px,#116ed9 36.5px,#0762dd 37.5px,#2752c7 38.5px,#2c4bb2 39.5px,#2d59ae 45.5px,#3051b0 51.5px,#2f61a5 54.5px,#4c6798 56.5px,#536ea5 57.5px,#4577b3 58.5px,#3d80b4 59.5px,#5286a8 61.5px,#588da1 63.5px,#4d93a7 65.5px,#2f99b7 67.5px,#1a94c4 68.5px,#108ccf 69.5px,#0b75da 73.5px,#1580d4 76.5px,#0e98c6 79.5px,#34a2ad 81.5px,#36a3ab 82.5px,#0d97cb 85.5px,#1282d4 88.5px,#0a73d8 90.5px,#2369c9 91.5px,#2c60a9 93.5px,#3061a5 96.5px,#2b5bb4 100.5px,#295cca 102.5px,#0a61dd 104.5px,#175fd4 106.5px,#1958cc 109.5px,#314ec7 112.5px,#314dc8 115.5px,#3f3b9c 121.5px,#3f3a9b 173.5px)"></i>
<i style="background:linear-gradient(90deg,#3f3a9b 0.5px,#3f3a9b 1.5px,#3849be 3.5px,#155adb 5.5px,#0562df 6.5px,#0867dd 7.5px,#1668d8 8.5px,#2767c7 9.5px,#2868ae 10.5px,#2e6da5 11.5px,#5f7189 13.5px,#796b7b 15.5px,#806975 17.5px,#6d6d83 20.5px,#3b719e 22.5px,#276bad 23.5px,#206dcd 26.5px,#0f74d5 27.5px,#0a7bd6 28.5px,#0d86d3 32.5px,#077bd8 34.5px,#156dd7 35.5px,#275ecb 36.5px,#254fbf 37.5px,#3b41ab 38.5px,#3e3b9d 39.5px,#3d3f9d 55.5px,#3e409f 56.5px,#3b48b3 57.5px,#1860d7 59.5px,#0c6dda 60.5px,#197fd1 62.5px,#1199c5 66.5px,#0e94cc 68.5px,#0e75d9 72.5px,#0d73db 74.5px,#157fd4 76.5px,#0b9dc7 79.5px,#24a6b5 81.5px,#25a5b5 82.5px,#0d94cd 85.5px,#147bd6 88.5px,#0a68dd 90.5px,#195bd4 91.5px,#3945b0 93.5px,#3c3e9e 95.5px,#3c40a1 97.5px,#3b44ab 98.5px,#344ab8 99.5px,#1e54c3 100.5px,#2166ce 102.5px,#0e76d7 105.5px,#1268da 110.5px,#1a59d4 113.5px,#2454d2 114.5px,#3946b8 116.5px,#3b41ac 117.5px,#3f3b9c 122.5px,#3f3a9b 173.5px)"></i>
<i style="background:linear-gradient(90deg,#3f3a9b 0.5px,#3f3a9b 1.5px,#364bc2 3.5px,#145bdb 5.5px,#105edc 6.5px,#2555cd 8.5px,#3a49b3 9.5px,#3f409b 10.5px,#40419a 12.5px,#42409a 19.5px,#4045a7 20.5px,#2751b9 21.5px,#2a60b5 23.5px,#1c78c8 26.5px,#1183cb 27.5px,#0e8cca 29.5px,#0d89d2 31.5px,#0f77d8 33.5px,#056bde 34.5px,#1e59d6 35.5px,#3849b9 36.5px,#3c3fa4 37.5px,#3e3c9d 38.5px,#3f3d9b 41.5px,#3e44ab 43.5px,#2d4cb6 44.5px,#2c64b0 49.5px,#2753b9 56.5px,#2454c2 57.5px,#2159cd 58.5px,#086adc 60.5px,#157bd4 62.5px,#0f8ad0 64.5px,#0f8fc9 66.5px,#0983d5 69.5px,#0d73da 72.5px,#157fd4 76.5px,#0f8ed0 79.5px,#0f8dcf 81.5px,#0980d6 84.5px,#1a6bd6 88.5px,#0d60dc 91.5px,#2155cb 93.5px,#2653b9 95.5px,#2a61c1 98.5px,#216ccd 99.5px,#097ad5 100.5px,#1991c4 103.5px,#1492c7 104.5px,#0f8fce 105.5px,#1480d3 107.5px,#0c70db 109.5px,#1962d7 111.5px,#1859da 114.5px,#284bba 117.5px,#3844b1 121.5px,#3f3a9b 131.5px,#3f3a9b 173.5px)"></i>
<i style="background:linear-gradient(90deg,#3f3a9b 0.5px,#3f3a9b 1.5px,#354bc4 3.5px,#2455d5 4.5px,#125edc 5.5px,#1d6ad0 7.5px,#2d6dbb 8.5px,#4b6a9b 9.5px,#5d658b 10.5px,#57668e 11.5px,#3464a2 13.5px,#2c5faa 14.5px,#2c5aad 19.5px,#2a61be 20.5px,#0b71d6 21.5px,#1683ce 23.5px,#0d99c7 26.5px,#14a5bb 28.5px,#10a6ba 29.5px,#1697c5 32.5px,#067dd7 34.5px,#1e6bd0 35.5px,#2e5cba 36.5px,#3053b0 37.5px,#2d61a7 40.5px,#526998 42.5px,#5e6d9f 43.5px,#5175a9 44.5px,#5c879c 46.5px,#59929a 48.5px,#399aad 51.5px,#178ec5 53.5px,#1284cf 54.5px,#0868dc 57.5px,#1860d5 59.5px,#2367c2 64.5px,#1d60c8 68.5px,#056ade 70.5px,#118acf 76.5px,#1582d2 79.5px,#096ddb 84.5px,#1a69d5 87.5px,#1a6bd4 89.5px,#0a73d7 93.5px,#1782d0 98.5px,#0d8dcf 100.5px,#1998be 103.5px,#0d88d2 106.5px,#127cd5 107.5px,#0865dd 109.5px,#2754d2 111.5px,#2953d1 112.5px,#0a61dc 115.5px,#0b63db 116.5px,#215cd2 120.5px,#2d4cc2 125.5px,#3e3ea5 128.5px,#3f3a9c 131.5px,#3f3a9b 173.5px)"></i>
<i style="background:linear-gradient(90deg,#3f3a9b 0.5px,#3f3a9b 1.5px,#3948bd 3.5px,#2753d3 4.5px,#0a63dd 5.5px,#0a88d3 7.5px,#1899bc 8.5px,#4ca09c 9.5px,#709c89 10.5px,#629d90 11.5px,#429da1 12.5px,#2294b6 13.5px,#1687c2 14.5px,#197cbf 16.5px,#1e75c3 24.5px,#1786bc 28.5px,#188bb5 29.5px,#2393b2 30.5px,#199cbb 32.5px,#0b95cd 34.5px,#177cd1 37.5px,#177ed0 38.5px,#0e8cce 39.5px,#0e95c2 40.5px,#2c9bae 41.5px,#609894 42.5px,#85917f 43.5px,#a88862 45.5px,#ab8c57 47.5px,#aa895e 48.5px,#8a9077 50.5px,#6d9787 51.5px,#4298a0 52.5px,#1e90b7 53.5px,#1685c7 54.5px,#1e75cc 55.5px,#1160d8 57.5px,#2b51cb 59.5px,#2b4fc2 60.5px,#314eb2 63.5px,#314dae 67.5px,#2f4eb5 68.5px,#2159d3 69.5px,#056adf 70.5px,#1573d7 71.5px,#1585c7 73.5px,#1687bb 75.5px,#206fc6 79.5px,#1965d0 82.5px,#1f71c4 87.5px,#187bc3 95.5px,#1f71c4 99.5px,#1c69c8 105.5px,#135dcd 108.5px,#1756cd 109.5px,#2f4dc7 111.5px,#2e4eca 112.5px,#125fd6 115.5px,#1a68d4 119.5px,#1657cc 124.5px,#2052ca 125.5px,#3946b7 127.5px,#3e3ea5 129.5px,#3f3a9b 132.5px,#3f3a9b 173.5px)"></i>
<i style="background:linear-gradient(90deg,#3f3a9b 0.5px,#3f3a9b 1.5px,#3c44b3 3.5px,#334bc3 4.5px,#1e56d2 5.5px,#0e5fd7 6.5px,#126bd3 8.5px,#1b6ccc 10.5px,#1262d0 12.5px,#2258cd 13.5px,#364cbc 14.5px,#3c43a6 15.5px,#3c40a1 16.5px,#3c409d 29.5px,#3a4ab2 30.5px,#1e59ce 31.5px,#1068d1 32.5px,#1b76cb 34.5px,#1b7ac9 36.5px,#1062d1 41.5px,#3e4db7 43.5px,#47429b 46.5px,#384eb8 52.5px,#344ac0 57.5px,#2e4dc7 58.5px,#105bd2 60.5px,#196dd3 63.5px,#1477d5 65.5px,#1478d4 67.5px,#0470db 70.5px,#2a5fc7 72.5px,#344ea6 75.5px,#3b44b0 81.5px,#3c3fa2 84.5px,#3246a9 94.5px,#364aa8 101.5px,#3343aa 110.5px,#3848bd 113.5px,#354bc0 119.5px,#3c3d9f 123.5px,#3f3a9b 173.5px)"></i>
<i style="background:linear-gradient(90deg,#3f3a9b 0.5px,#3f3b9d 3.5px,#3a44b0 7.5px,#3c3ea1 10.5px,#3d3da2 14.5px,#3846b6 18.5px,#3b3da1 20.5px,#3b3da0 21.5px,#3c489f 35.5px,#3c3fa0 45.5px,#3c40a3 46.5px,#364dbd 48.5px,#215bd4 50.5px,#1c5fd5 51.5px,#255dd1 52.5px,#3d50b8 54.5px,#41459d 56.5px,#41459c 60.5px,#4048a1 61.5px,#3057c7 63.5px,#0c65dd 64.5px,#0873de 65.5px,#137ed7 66.5px,#0795d2 68.5px,#0da0c1 71.5px,#0a92ce 74.5px,#167dd2 76.5px,#0768dc 78.5px,#1d5ad6 79.5px,#354ec1 80.5px,#3b44a8 82.5px,#3b44a8 84.5px,#3050c8 91.5px,#2954cf 92.5px,#0862dc 94.5px,#1376d6 98.5px,#187dd0 102.5px,#1975d1 106.5px,#0a60da 110.5px,#1a58d8 111.5px,#2c51cf 112.5px,#3849bf 114.5px,#3f3a9c 122.5px,#3f3a9b 173.5px)"></i>
<i style="background:linear-gradient(90deg,#3f3a9b 0.5px,#3f3a9c 11.5px,#3649bf 13.5px,#2652cf 14.5px,#125ad7 15.5px,#0a61d9 17.5px,#0f5bd6 21.5px,#0a5fd8 23.5px,#1a79ce 27.5px,#0d9ac2 31.5px,#38aca0 34.5px,#36aca1 35.5px,#13a3b9 37.5px,#0b9bc6 38.5px,#1781cf 41.5px,#1275d6 44.5px,#1684d0 47.5px,#0a99cd 49.5px,#0da3c0 50.5px,#4bae98 52.5px,#5cad8d 53.5px,#63ab86 56.5px,#83a875 60.5px,#7ba979 61.5px,#5fac89 62.5px,#2ba7a9 63.5px,#0a99c7 64.5px,#177dd2 66.5px,#0765db 68.5px,#215ad4 69.5px,#2d55ca 70.5px,#2d56cb 71.5px,#225ad5 72.5px,#0c63dd 73.5px,#026ce0 74.5px,#127cd8 77.5px,#188bcb 85.5px,#2281cc 91.5px,#127fd6 96.5px,#036ae0 100.5px,#0e60de 101.5px,#2756d3 102.5px,#394aba 104.5px,#3a46b1 107.5px,#364ac1 112.5px,#3b46b8 114.5px,#3f3b9d 117.5px,#3f3a9b 173.5px)"></i>
<i style="background:linear-gradient(90deg,#3f3a9b 0.5px,#3947bb 7.5px,#3847ba 8.5px,#3c3fa2 10.5px,#3d3e9e 11.5px,#3445a8 15.5px,#3641a6 24.5px,#3155bc 30.5px,#2b5bc6 31.5px,#0a71d7 33.5px,#1684d0 36.5px,#0c91d2 46.5px,#128bd2 48.5px,#0c71d5 51.5px,#3860bd 52.5px,#42549f 53.5px,#43519b 54.5px,#4a4e95 61.5px,#364aa2 64.5px,#3a40a9 69.5px,#3947ba 71.5px,#314dc8 72.5px,#1a58d7 73.5px,#0663dc 74.5px,#177fd0 78.5px,#1684cf 81.5px,#099dc9 83.5px,#1ba8b6 84.5px,#47b09c 85.5px,#72ae85 86.5px,#8ea876 87.5px,#a9a165 89.5px,#a5a268 91.5px,#98a670 92.5px,#81ab7c 93.5px,#5fb18d 94.5px,#32aea7 95.5px,#11a5bd 96.5px,#0e98cc 97.5px,#1986cf 98.5px,#096cda 100.5px,#205ed5 101.5px,#3453c4 102.5px,#3a47af 104.5px,#3c40a4 107.5px,#3f3a9b 117.5px,#3f3a9b 173.5px)"></i>
<i style="background:linear-gradient(90deg,#3f3a9b 0.5px,#3f3a9b 1.5px,#3b42ad 3.5px,#3949bb 6.5px,#344ec5 7.5px,#2057d3 8.5px,#1362d3 9.5px,#1e6bc9 10.5px,#1580c3 13.5px,#167ec4 15.5px,#1e6cc8 17.5px,#1662cd 18.5px,#1c55cd 19.5px,#3847b6 20.5px,#3c40a2 21.5px,#3c3f9e 22.5px,#45419b 27.5px,#4547a8 28.5px,#3e4fba 29.5px,#255acc 30.5px,#1964d2 31.5px,#176cd5 32.5px,#0e74d8 34.5px,#0971dc 37.5px,#137ad5 43.5px,#1288d2 49.5px,#0e82d3 51.5px,#226fc4 53.5px,#165dcb 55.5px,#2b4ec5 56.5px,#3e41a9 57.5px,#3f3b9b 58.5px,#3e3da2 71.5px,#3044ac 74.5px,#344eab 81.5px,#3058bf 82.5px,#166ad2 83.5px,#0e7ad0 84.5px,#338bba 86.5px,#3990b4 87.5px,#3b99ab 90.5px,#30a5a8 93.5px,#40af9b 96.5px,#5ca692 98.5px,#5fa191 99.5px,#579c98 101.5px,#48999f 102.5px,#1788be 104.5px,#2072c4 106.5px,#155bcc 108.5px,#2e4cc3 109.5px,#3d41ac 110.5px,#3f3a9b 111.5px,#3d3ea0 118.5px,#334dbe 120.5px,#1c5bc8 122.5px,#1f5ac6 124.5px,#3d4cb6 126.5px,#3f48ac 127.5px,#3c41a4 129.5px,#3f3da3 134.5px,#3f3a9b 137.5px,#3f3a9b 173.5px)"></i>
<i style="background:linear-gradient(90deg,#3f3a9b 0.5px,#3f3a9b 1.5px,#3946b8 2.5px,#1c54cb 3.5px,#1e6ad1 7.5px,#1076d8 9.5px,#147ad5 10.5px,#0879d8 13.5px,#1168d9 17.5px,#0b66dd 19.5px,#2068ce 20.5px,#1a7cb9 22.5px,#2885aa 23.5px,#6e8982 25.5px,#868476 26.5px,#9e816b 28.5px,#9c866f 29.5px,#75958b 32.5px,#5f9b96 33.5px,#3d9ea9 34.5px,#1898be 35.5px,#078ecf 36.5px,#0e74d9 38.5px,#066cde 39.5px,#0b63dd 40.5px,#215bd2 41.5px,#2c56bf 43.5px,#2266d0 49.5px,#3056b4 53.5px,#2a4db3 55.5px,#3d40a4 57.5px,#3d3d9d 58.5px,#3e3b9d 62.5px,#3f3b9d 64.5px,#3b43b1 66.5px,#3647b9 68.5px,#3d3c9e 72.5px,#3d3e9f 81.5px,#2b53b9 84.5px,#325abb 85.5px,#325daa 88.5px,#2e62a8 93.5px,#4a6796 97.5px,#506793 99.5px,#4070ac 102.5px,#2b69bb 104.5px,#335db7 106.5px,#2f4fb3 108.5px,#3a47ac 109.5px,#3e3f9c 111.5px,#3d3f9f 112.5px,#334abc 115.5px,#1b54c7 116.5px,#2267c3 118.5px,#1782c8 120.5px,#3392af 121.5px,#6a9190 122.5px,#8a8a7c 123.5px,#908b73 124.5px,#838882 126.5px,#608c90 127.5px,#2a85ac 128.5px,#1e75be 129.5px,#2260c3 130.5px,#1a56c8 131.5px,#3a45b6 133.5px,#3f3a9b 137.5px,#3f3a9b 173.5px)"></i>
<i style="background:linear-gradient(90deg,#3f3a9b 0.5px,#3f3a9b 1.5px,#3b43b0 2.5px,#274fc4 3.5px,#1f5bd1 4.5px,#0d67d9 5.5px,#167bd3 8.5px,#1284d3 10.5px,#1168d9 18.5px,#0a80d2 22.5px,#1286c9 23.5px,#5388a5 26.5px,#668798 28.5px,#688995 29.5px,#578ba2 32.5px,#2f8eb7 34.5px,#1689c7 35.5px,#0a82d2 36.5px,#076bde 39.5px,#0964de 40.5px,#175ed7 41.5px,#1d56cb 43.5px,#2b51cd 46.5px,#2655d2 48.5px,#175fd5 50.5px,#2868bd 53.5px,#236bba 56.5px,#2761bb 58.5px,#1f54c1 60.5px,#3b42af 63.5px,#3b42ae 64.5px,#3946b8 65.5px,#1c56d2 68.5px,#225abf 72.5px,#1f57c0 79.5px,#2761bb 81.5px,#1f73b6 83.5px,#367fa6 84.5px,#5d8293 85.5px,#6c808b 86.5px,#697f89 87.5px,#508091 88.5px,#2a7aa8 89.5px,#2071b6 90.5px,#2861ba 92.5px,#265dbc 95.5px,#2a63b8 97.5px,#207cba 101.5px,#2a83b4 102.5px,#4c88a0 104.5px,#68838d 106.5px,#6d8188 107.5px,#61808a 109.5px,#307da4 111.5px,#2076b4 112.5px,#206dce 115.5px,#1070d7 116.5px,#0b73d7 119.5px,#1874cf 120.5px,#3978b3 121.5px,#647397 122.5px,#7a6b84 123.5px,#7e6b7a 124.5px,#6d6b85 126.5px,#556f90 127.5px,#316ba5 128.5px,#2960b2 129.5px,#274cb7 131.5px,#3c41ab 133.5px,#3f3b9c 136.5px,#3f3a9b 173.5px)"></i>
<i style="background:linear-gradient(90deg,#3f3a9b 0.5px,#3f3a9b 1.5px,#3c41aa 3.5px,#3547b7 4.5px,#214fbf 5.5px,#275bbc 7.5px,#1f71cd 10.5px,#1f6ed0 12.5px,#265dc1 17.5px,#0f67da 24.5px,#1a67d6 26.5px,#2964c7 28.5px,#2c5fb8 31.5px,#265dbc 34.5px,#1163db 38.5px,#0965dd 40.5px,#175cd8 46.5px,#1d67d5 48.5px,#087dd5 50.5px,#2a96b6 53.5px,#2198ba 54.5px,#1096c5 55.5px,#1679d2 58.5px,#0d6dd9 59.5px,#195cd5 60.5px,#274ec4 61.5px,#3745b4 62.5px,#3b42ae 63.5px,#3546b6 66.5px,#2b4abc 67.5px,#125eda 69.5px,#096adc 70.5px,#1178d5 72.5px,#0c81d4 74.5px,#097bd6 78.5px,#167cd2 81.5px,#0884d1 83.5px,#2c84b9 84.5px,#5b7d93 85.5px,#6a7885 86.5px,#667986 87.5px,#4f7b92 88.5px,#2b75a8 89.5px,#226db5 90.5px,#295eb9 92.5px,#2659bc 95.5px,#2666bb 98.5px,#1a74ce 99.5px,#0883d2 100.5px,#1a96c0 102.5px,#39a1ab 104.5px,#529f9c 106.5px,#559e9a 108.5px,#4b9f9f 109.5px,#1c9dba 111.5px,#0d95c8 112.5px,#1781d0 115.5px,#0761dc 119.5px,#3151c7 121.5px,#3b4bba 122.5px,#42409f 126.5px,#3f3a9b 173.5px)"></i>
<i style="background:linear-gradient(90deg,#3f3a9b 0.5px,#3844ae 7.5px,#2655c7 9.5px,#255fce 10.5px,#2763ca 13.5px,#2c55ba 17.5px,#2453cd 21.5px,#0d60dd 24.5px,#1561da 26.5px,#285bc8 28.5px,#2f56b2 30.5px,#3059b0 33.5px,#2f5bb1 34.5px,#2966c3 36.5px,#1672d3 38.5px,#0a76d6 40.5px,#156dd7 44.5px,#0c70db 47.5px,#1479d4 49.5px,#1d83ba 51.5px,#3388a6 52.5px,#3d889d 53.5px,#3287a3 54.5px,#1e81b2 55.5px,#2267c7 58.5px,#185ed0 59.5px,#2e50c9 60.5px,#3946b4 61.5px,#3c41aa 62.5px,#3e3da2 65.5px,#3d3ea3 67.5px,#3a45b5 68.5px,#2653d0 69.5px,#1362d9 70.5px,#0b7fd6 73.5px,#0785d4 75.5px,#1079d6 80.5px,#066ddd 83.5px,#1d63d5 84.5px,#2e58bb 85.5px,#3054b1 86.5px,#284cb6 92.5px,#2851bb 98.5px,#1c5ed5 99.5px,#056cde 100.5px,#167ed1 104.5px,#2473ba 108.5px,#226ebe 114.5px,#1954c7 119.5px,#3847b9 122.5px,#3e3c9e 127.5px,#3f3a9b 173.5px)"></i>
<i style="background:linear-gradient(90deg,#3f3a9b 0.5px,#3a44b3 6.5px,#3449bd 7.5px,#2052c9 8.5px,#165ccc 9.5px,#216ec4 12.5px,#1e75cf 14.5px,#1274d6 16.5px,#0865dd 19.5px,#0960de 22.5px,#0b7dd6 27.5px,#3688b8 30.5px,#3f8bb2 32.5px,#3695b4 35.5px,#0ea1c5 39.5px,#079dcc 41.5px,#1189d2 45.5px,#0576db 48.5px,#156dd7 49.5px,#2665c8 50.5px,#305aa9 53.5px,#2e5aa9 56.5px,#2c5ec3 60.5px,#2f4cba 64.5px,#3943b1 66.5px,#3c43b0 67.5px,#374ac1 69.5px,#1d58d4 71.5px,#135dd6 72.5px,#145edb 77.5px,#0669de 81.5px,#0c70dc 84.5px,#0962dc 91.5px,#0565dd 94.5px,#0870dd 100.5px,#0d68dc 103.5px,#1962d9 104.5px,#3248b2 107.5px,#3844ab 109.5px,#3544ae 118.5px,#2d48b1 120.5px,#3351b4 124.5px,#2f47ae 129.5px,#3b3fa7 131.5px,#3f3a9b 134.5px,#3f3a9b 173.5px)"></i>
<i style="background:linear-gradient(90deg,#3f3a9b 0.5px,#3d3fa7 3.5px,#3442a9 5.5px,#3444aa 12.5px,#2856cd 14.5px,#1261dd 15.5px,#0769df 16.5px,#0e66dc 20.5px,#066ade 22.5px,#1383d5 25.5px,#099ccb 27.5px,#26abb0 28.5px,#55b194 29.5px,#74af83 30.5px,#89ac77 32.5px,#89ac77 33.5px,#79af80 35.5px,#50b396 37.5px,#19adb6 39.5px,#09a8c2 40.5px,#06a4c9 41.5px,#0a94d1 49.5px,#0a8fce 53.5px,#138cbe 56.5px,#1389c3 59.5px,#1e72c9 62.5px,#1161d3 64.5px,#1758d4 65.5px,#2d4fcc 66.5px,#364bc3 67.5px,#3a47ba 69.5px,#314cc3 75.5px,#0f5bd4 78.5px,#0e60d4 79.5px,#1369d4 83.5px,#0961df 87.5px,#1261dd 90.5px,#0372dc 94.5px,#1280d6 99.5px,#107cd7 101.5px,#1871d4 103.5px,#105dd7 106.5px,#2952d0 108.5px,#2957cd 111.5px,#1f60d3 114.5px,#245dd0 117.5px,#215ed3 118.5px,#0869db 120.5px,#1379d5 124.5px,#1274d6 127.5px,#0666dd 129.5px,#145bda 130.5px,#2b51ca 131.5px,#3643ae 133.5px,#3f3b9e 135.5px,#3f3a9b 173.5px)"></i>
<i style="background:linear-gradient(90deg,#3f3a9b 0.5px,#3f3a9b 1.5px,#354bc4 3.5px,#1e56d6 4.5px,#0760dc 5.5px,#0768dc 7.5px,#0762dc 10.5px,#105cda 12.5px,#0668de 14.5px,#1381d5 17.5px,#0f8bd3 19.5px,#117dd7 25.5px,#109dc8 30.5px,#11a1c5 32.5px,#1394cd 37.5px,#089acf 40.5px,#079bcd 45.5px,#1781d1 49.5px,#0a6cda 52.5px,#0c61d9 53.5px,#2d53c9 54.5px,#3a48b1 55.5px,#3c419e 56.5px,#3c3e9f 63.5px,#3849be 66.5px,#3749bf 67.5px,#3f3b9d 71.5px,#3b3d9f 79.5px,#3742a4 82.5px,#2f54c7 85.5px,#0f63dc 87.5px,#046bde 88.5px,#1481d5 91.5px,#0a94cf 93.5px,#13a1b8 95.5px,#15a1b7 96.5px,#0b9bc3 97.5px,#1575d3 100.5px,#0967da 101.5px,#2456d2 102.5px,#374bbd 103.5px,#3a46b3 104.5px,#3945b4 105.5px,#2f4fc9 107.5px,#1b5ada 108.5px,#0667df 109.5px,#157cd6 111.5px,#0e8fd2 113.5px,#0a96d0 115.5px,#1381d5 119.5px,#0766df 125.5px,#0b61d8 132.5px,#125ad6 133.5px,#324cc5 134.5px,#3e3fa8 135.5px,#3f3a9b 136.5px,#3f3a9b 173.5px)"></i>
<i style="background:linear-gradient(90deg,#3f3a9b 0.5px,#3f3a9b 1.5px,#334cc6 3.5px,#1f56d6 4.5px,#0b5edb 5.5px,#0663dd 6.5px,#096adb 13.5px,#1781d0 21.5px,#0aa0c3 30.5px,#0a98cb 34.5px,#167ed1 39.5px,#0667db 44.5px,#1060d9 45.5px,#2458d2 46.5px,#374cbc 48.5px,#3f3b9d 55.5px,#3f3a9b 79.5px,#3c43b1 80.5px,#1a57d4 81.5px,#0f69d6 82.5px,#1a78cf 83.5px,#0d93ca 85.5px,#0d9fbf 87.5px,#0e8fce 90.5px,#177ed1 91.5px,#0a6eda 92.5px,#2d54ca 93.5px,#3b419e 94.5px,#3f3b9d 103.5px,#3f3ea4 104.5px,#3849bf 105.5px,#1c57d6 106.5px,#0962db 107.5px,#177cd2 111.5px,#1486cf 114.5px,#0765dc 121.5px,#105ddb 123.5px,#2852d0 125.5px,#3a41a9 127.5px,#3b3da0 128.5px,#3f3a9b 173.5px)"></i>
<i style="background:linear-gradient(90deg,#3f3a9b 0.5px,#3541a6 6.5px,#364ca2 30.5px,#3541a6 44.5px,#3f3b9e 50.5px,#3f3a9b 79.5px,#383fa6 81.5px,#364ca1 87.5px,#3643a6 92.5px,#3f3a9b 94.5px,#3f3b9c 104.5px,#3541a6 107.5px,#3847a4 114.5px,#3740a6 123.5px,#3f3a9b 128.5px,#3f3a9b 173.5px)"></i>
</div>
<svg width="677" height="463" viewBox="0 0 677 463">
<defs>
<clipPath id="sq"><rect x="0" y="0" width="18.7" height="19.7"/></clipPath>
<linearGradient id="drop" x1="0" x2="1"><stop offset="0" stop-color="#3795dc"/><stop offset="0.45" stop-color="#3d9fe4"/><stop offset="1" stop-color="#3a9ae0"/></linearGradient>
</defs>
<path d="M0.5 463V0.5H676.5V463" fill="none" stroke="#e4e4e4" stroke-width="1"/>
<text x="25.40" y="28.20" font-size="18.40" text-anchor="start" fill="#1f1f1f" stroke="#1f1f1f" stroke-width="0.22" textLength="15.0" lengthAdjust="spacingAndGlyphs">a)</text>
<text x="245.20" y="29.90" font-size="19.00" text-anchor="start" fill="#1f1f1f" stroke="#1f1f1f" stroke-width="0.22" >b)</text>
<text x="467.00" y="28.10" font-size="18.40" text-anchor="start" fill="#1f1f1f" stroke="#1f1f1f" stroke-width="0.22" textLength="13.8" lengthAdjust="spacingAndGlyphs">c)</text>
<circle cx="64.4" cy="58.5" r="12.4" fill="#dcf0f3" stroke="#1c1c1c" stroke-width="1.45"/>
<circle cx="97.4" cy="58.5" r="12.4" fill="#dcf0f3" stroke="#1c1c1c" stroke-width="1.45"/>
<circle cx="129.4" cy="58.5" r="12.4" fill="#dcf0f3" stroke="#1c1c1c" stroke-width="1.45"/>
<circle cx="194.0" cy="58.5" r="12.4" fill="#dcf0f3" stroke="#1c1c1c" stroke-width="1.45"/>
<path d="M77.4 58.5H82.0" stroke="#111" stroke-width="1.3"/>
<circle cx="82.0" cy="58.5" r="2.2" fill="#111"/>
<path d="M110.5 58.5H115.1" stroke="#111" stroke-width="1.3"/>
<circle cx="115.1" cy="58.5" r="2.2" fill="#111"/>
<path d="M142.3 59.4H147" stroke="#1a78cf" stroke-width="1.3"/>
<circle cx="147.2" cy="59.4" r="2.1" fill="#1a78cf"/>
<circle cx="155.2" cy="59.5" r="0.9" fill="#1a78cf"/>
<circle cx="161.9" cy="59.5" r="0.9" fill="#1a78cf"/>
<circle cx="168.5" cy="59.5" r="0.9" fill="#1a78cf"/>
<path d="M174.8 59.4H181.5" stroke="#1a78cf" stroke-width="1.3"/>
<circle cx="178.4" cy="59.4" r="1.9" fill="#1a78cf"/>
<path d="M339.60 36.60C339.92 36.17 340.53 34.90 341.50 34.00C342.47 33.10 343.68 31.90 345.40 31.20C347.12 30.50 349.63 29.63 351.80 29.80C353.97 29.97 356.60 30.73 358.40 32.20C360.20 33.67 361.62 36.30 362.60 38.60C363.58 40.90 363.93 43.77 364.30 46.00C364.67 48.23 364.72 51.00 364.80 52.00" fill="none" stroke="#1b75c9" stroke-width="3.5" stroke-linecap="round"/>
<circle cx="340.0" cy="36.1" r="4.6" fill="#1b75c9"/>
<circle cx="344.0" cy="63.4" r="22.1" fill="#dcf0f3" stroke="#1c1c1c" stroke-width="1.6"/>
<circle cx="568.8" cy="60.6" r="46.4" fill="#e1e2e7" stroke="#262626" stroke-width="1.8"/>
<path d="M543.04 40.64C542.32 40.72 539.35 40.48 538.76 41.11C538.16 41.75 537.49 43.81 539.47 44.44C541.45 45.07 546.80 45.15 550.64 44.91C554.48 44.68 558.56 43.33 562.52 43.01C566.48 42.70 570.44 42.78 574.40 43.01C578.36 43.25 582.32 43.57 586.28 44.44C590.24 45.31 594.67 46.50 598.16 48.24C601.64 49.98 606.07 52.68 607.18 54.89C608.29 57.11 605.20 60.44 604.81 61.55" fill="none" stroke="#2a82cc" stroke-width="1.25"/>
<path d="M547.79 40.64C548.26 41.83 550.48 44.80 550.64 47.77C550.80 50.74 550.12 54.89 548.74 58.46C547.35 62.02 543.67 65.78 542.32 69.15C540.98 72.51 540.26 75.96 540.66 78.65C541.06 81.34 544.03 84.20 544.70 85.30" fill="none" stroke="#2a82cc" stroke-width="1.25"/>
<path d="M583.90 29.95C581.72 30.14 574.20 29.75 570.83 31.13C567.47 32.52 564.97 35.09 563.71 38.26C562.44 41.43 562.44 46.38 563.23 50.14C564.02 53.90 566.87 57.47 568.46 60.83C570.04 64.20 572.34 67.37 572.73 70.34C573.13 73.31 572.54 76.16 570.83 78.65C569.13 81.15 565.49 83.80 562.52 85.30C559.55 86.81 554.60 87.28 553.01 87.68" fill="none" stroke="#2a82cc" stroke-width="1.25"/>
<path d="M587.46 35.41C587.74 36.88 589.32 40.76 589.13 44.20C588.93 47.65 588.26 52.72 586.28 56.08C584.30 59.45 580.61 62.61 577.25 64.40C573.88 66.18 569.33 66.06 566.08 66.77C562.83 67.49 559.15 68.36 557.77 68.67" fill="none" stroke="#2a82cc" stroke-width="1.25"/>
<path d="M573.92 55.61C574.48 56.99 575.39 61.66 577.25 63.92C579.11 66.18 582.00 68.59 585.09 69.15C588.18 69.70 594.00 67.56 595.78 67.25" fill="none" stroke="#2a82cc" stroke-width="1.25"/>
<path d="M557.29 72.71C558.56 73.11 562.52 73.62 564.89 75.09C567.27 76.55 568.85 79.92 571.55 81.50C574.24 83.09 579.47 84.08 581.05 84.59" fill="none" stroke="#2a82cc" stroke-width="1.25"/>
<circle cx="545.3" cy="36.1" r="4.95" fill="#cfe2f7" stroke="#1a1a1a" stroke-width="1.45"/>
<circle cx="588.1" cy="30.9" r="4.95" fill="#cfe2f7" stroke="#1a1a1a" stroke-width="1.45"/>
<circle cx="572.6" cy="51.1" r="4.95" fill="#cfe2f7" stroke="#1a1a1a" stroke-width="1.45"/>
<circle cx="601.1" cy="64.6" r="4.95" fill="#cfe2f7" stroke="#1a1a1a" stroke-width="1.45"/>
<circle cx="553.6" cy="70.5" r="4.95" fill="#cfe2f7" stroke="#1a1a1a" stroke-width="1.45"/>
<circle cx="585.7" cy="84.8" r="4.95" fill="#cfe2f7" stroke="#1a1a1a" stroke-width="1.45"/>
<circle cx="548.9" cy="87.9" r="4.95" fill="#cfe2f7" stroke="#1a1a1a" stroke-width="1.45"/>
<path d="M48.5 114.4V181.4H220.2" fill="none" stroke="#4a4a4a" stroke-width="1"/>
<path d="M48.5 114.5h2.2M48.5 131.2h2M48.5 148.5h2M48.5 165.6h2M162.9 181.0v-2.2" fill="none" stroke="#4a4a4a" stroke-width="0.8"/>
<path d="M48.5 181.00L49.5 181.00L50.4 181.00L51.4 181.00L52.3 181.00L53.3 181.00L54.3 181.00L55.2 181.00L56.2 180.99L57.1 180.99L58.1 180.99L59.1 180.99L60.0 180.98L61.0 180.98L61.9 180.97L62.9 180.96L63.8 180.95L64.8 180.93L65.8 180.91L66.7 180.89L67.7 180.86L68.6 180.82L69.6 180.77L70.6 180.71L71.5 180.63L72.5 180.54L73.4 180.43L74.4 180.29L75.4 180.13L76.3 179.93L77.3 179.70L78.2 179.42L79.2 179.10L80.2 178.72L81.1 178.27L82.1 177.76L83.0 177.17L84.0 176.49L85.0 175.73L85.9 174.86L86.9 173.89L87.8 172.80L88.8 171.60L89.7 170.28L90.7 168.84L91.7 167.27L92.6 165.58L93.6 163.76L94.5 161.84L95.5 159.80L96.5 157.68L97.4 155.46L98.4 153.18L99.3 150.86L100.3 148.50L101.3 146.14L102.2 143.80L103.2 141.51L104.1 139.29L105.1 137.17L106.1 135.17L107.0 133.33L108.0 131.67L108.9 130.21L109.9 128.98L110.8 127.99L111.8 127.26L112.8 126.79L113.7 126.60L114.7 126.69L115.6 127.06L116.6 127.70L117.6 128.60L118.5 129.74L119.5 131.12L120.4 132.71L121.4 134.49L122.4 136.43L123.3 138.51L124.3 140.70L125.2 142.97L126.2 145.29L127.2 147.65L128.1 150.01L129.1 152.35L130.0 154.65L131.0 156.89L132.0 159.05L132.9 161.12L133.9 163.08L134.8 164.94L135.8 166.67L136.7 168.29L137.7 169.78L138.7 171.14L139.6 172.39L140.6 173.51L141.5 174.52L142.5 175.43L143.5 176.23L144.4 176.94L145.4 177.56L146.3 178.10L147.3 178.56L148.3 178.97L149.2 179.31L150.2 179.61L151.1 179.85L152.1 180.06L153.1 180.24L154.0 180.38L155.0 180.50L155.9 180.60L156.9 180.68L157.9 180.75L158.8 180.80L159.8 180.84L160.7 180.88L161.7 180.91L162.6 180.93L163.6 180.94L164.6 180.96L165.5 180.97L166.5 180.98L167.4 180.98L168.4 180.99L169.4 180.99L170.3 180.99L171.3 180.99L172.2 181.00L173.2 181.00L174.2 181.00L175.1 181.00L176.1 181.00L177.0 181.00L178.0 181.00L179.0 181.00L179.9 181.00L180.9 181.00L181.8 181.00L182.8 181.00L183.7 181.00L184.7 181.00L185.7 181.00L186.6 181.00L187.6 181.00L188.5 181.00L189.5 181.00L190.5 181.00L191.4 181.00L192.4 181.00L193.3 181.00L194.3 181.00L195.3 181.00L196.2 181.00L197.2 181.00L198.1 181.00L199.1 181.00L200.1 181.00L201.0 181.00L202.0 181.00L202.9 181.00L203.9 181.00L204.9 181.00L205.8 181.00L206.8 181.00L207.7 181.00L208.7 181.00L209.6 181.00L210.6 181.00L211.6 181.00L212.5 181.00L213.5 181.00L214.4 181.00L215.4 181.00L216.4 181.00L217.3 181.00L218.3 181.00L219.2 181.00L220.2 181.00" fill="none" stroke="#c81a2c" stroke-width="2.45" stroke-linejoin="miter" stroke-miterlimit="8"/>
<path d="M264.6 114.4V181.4H437.8" fill="none" stroke="#4a4a4a" stroke-width="1"/>
<path d="M264.6 114.5h2.2M264.6 131.2h2M264.6 148.5h2M264.6 165.6h2M380.3 181.0v-2.2" fill="none" stroke="#4a4a4a" stroke-width="0.8"/>
<path d="M264.9 181.0C266 160 271 134 277.2 122.8C283 131.5 292 138.5 302 143.8C314 149 326 151.6 333 153.2C345 156 356 158.2 364 161.8C371 165 374 171 376.5 174.6C380 179 384 180.9 390 181H437.8" fill="none" stroke="#c81a2c" stroke-width="2.45" stroke-linejoin="miter" stroke-miterlimit="8"/>
<path d="M482.0 114.4V181.6" fill="none" stroke="#4a4a4a" stroke-width="1"/>
<path d="M482 114.5h2.4M482 181.5h2.4M482 131.6h2M482 165.3h2M598.6 148.4v-2.4" fill="none" stroke="#4a4a4a" stroke-width="0.8"/>
<path d="M481.9 148.55H655.8" fill="none" stroke="#555" stroke-width="1.15"/>
<path d="M482.86 148.57C483.19 148.84 484.21 149.49 484.81 150.19C485.40 150.90 485.89 151.95 486.43 152.79C486.97 153.63 487.51 154.52 488.05 155.22C488.59 155.92 489.18 156.30 489.67 157.00C490.16 157.70 490.48 158.08 490.97 159.43C491.45 160.78 491.91 162.73 492.59 165.11C493.26 167.48 494.26 171.59 495.02 173.70C495.77 175.80 496.50 176.88 497.12 177.75C497.75 178.61 498.15 178.88 498.75 178.88C499.34 178.88 500.04 178.48 500.69 177.75C501.34 177.02 501.96 176.34 502.64 174.51C503.31 172.67 504.09 169.51 504.74 166.73C505.39 163.94 505.90 159.92 506.53 157.81C507.15 155.71 507.82 154.22 508.47 154.08C509.12 153.95 509.69 155.57 510.41 157.00C511.14 158.43 511.77 160.65 512.85 162.67C513.93 164.70 515.63 167.37 516.90 169.16C518.17 170.94 519.25 173.24 520.46 173.37C521.68 173.51 523.03 171.35 524.19 169.97C525.35 168.59 526.35 166.43 527.43 165.11C528.51 163.78 529.59 162.62 530.67 162.03C531.75 161.43 532.84 161.73 533.92 161.54C535.00 161.35 536.08 161.51 537.16 160.89C538.24 160.27 539.24 159.05 540.40 157.81C541.56 156.57 543.05 153.84 544.13 153.44C545.21 153.03 545.88 154.79 546.88 155.38C547.88 155.98 549.04 156.95 550.12 157.00C551.20 157.06 552.15 156.46 553.36 155.71C554.58 154.95 556.07 153.65 557.42 152.46C558.77 151.27 560.39 148.95 561.47 148.57C562.55 148.20 563.17 149.82 563.90 150.19C564.63 150.57 565.14 151.19 565.84 150.84C566.55 150.49 567.46 149.49 568.10 148.09C568.75 146.68 569.05 144.98 569.72 142.41C570.40 139.85 571.35 135.26 572.16 132.69C572.97 130.12 573.64 128.31 574.59 127.02C575.53 125.72 576.80 124.91 577.83 124.91C578.85 124.91 579.67 125.86 580.75 127.02C581.83 128.18 583.18 130.61 584.31 131.88C585.45 133.15 586.61 133.55 587.55 134.64C588.50 135.72 589.17 136.80 589.98 138.36C590.79 139.93 591.60 142.01 592.41 144.04C593.23 146.06 593.90 148.22 594.85 150.52C595.79 152.81 597.01 156.19 598.09 157.81C599.17 159.43 600.33 160.16 601.33 160.24C602.33 160.32 603.14 159.78 604.08 158.30C605.03 156.81 606.11 153.22 607.00 151.33C607.89 149.44 608.62 147.84 609.43 146.95C610.24 146.06 610.78 145.93 611.86 145.98C612.94 146.03 614.57 146.98 615.92 147.28C617.27 147.57 618.48 147.76 619.97 147.76C621.45 147.76 623.34 147.14 624.83 147.28C626.32 147.41 627.53 148.14 628.88 148.57C630.23 149.01 631.58 149.60 632.93 149.87C634.28 150.14 635.63 150.22 636.99 150.19C638.34 150.17 639.82 149.98 641.04 149.71C642.25 149.44 643.47 148.90 644.28 148.57C645.09 148.25 645.63 147.90 645.90 147.76" fill="none" stroke="#c81a2c" stroke-width="2.45" stroke-linejoin="round" stroke-linecap="round"/>
<text transform="translate(38.4 149.6) rotate(-90)" font-size="11.0" text-anchor="middle" fill="#1f1f1f" stroke="#1f1f1f" stroke-width="0.2">Activity (AU)</text>
<text x="49.83" y="192.40" font-size="9.80" text-anchor="start" fill="#1f1f1f" stroke="#1f1f1f" stroke-width="0.22" >100</text>
<text x="120.30" y="197.00" font-size="10.90" text-anchor="middle" fill="#1f1f1f" stroke="#1f1f1f" stroke-width="0.22" >Time (ms)</text>
<text x="155.13" y="191.50" font-size="9.80" text-anchor="start" fill="#1f1f1f" stroke="#1f1f1f" stroke-width="0.22" >1100</text>
<text x="52.53" y="206.60" font-size="11.80" text-anchor="start" fill="#1f1f1f" stroke="#1f1f1f" stroke-width="0.22" >t</text>
<text x="56.09" y="212.10" font-size="7.80" text-anchor="start" fill="#1f1f1f" stroke="#1f1f1f" stroke-width="0.22" textLength="9.3" lengthAdjust="spacingAndGlyphs">CS</text>
<text x="161.03" y="207.00" font-size="11.80" text-anchor="start" fill="#1f1f1f" stroke="#1f1f1f" stroke-width="0.22" >t</text>
<text x="164.45" y="212.20" font-size="7.80" text-anchor="start" fill="#1f1f1f" stroke="#1f1f1f" stroke-width="0.22" textLength="9.7" lengthAdjust="spacingAndGlyphs">US</text>
<text transform="translate(254.1 149.6) rotate(-90)" font-size="11.0" text-anchor="middle" fill="#1f1f1f" stroke="#1f1f1f" stroke-width="0.2">Activity (AU)</text>
<text x="266.33" y="192.30" font-size="9.80" text-anchor="start" fill="#1f1f1f" stroke="#1f1f1f" stroke-width="0.22" >100</text>
<text x="339.20" y="198.50" font-size="10.90" text-anchor="middle" fill="#1f1f1f" stroke="#1f1f1f" stroke-width="0.22" >Time (ms)</text>
<text x="371.63" y="191.80" font-size="9.80" text-anchor="start" fill="#1f1f1f" stroke="#1f1f1f" stroke-width="0.22" >1100</text>
<text x="269.23" y="207.30" font-size="11.80" text-anchor="start" fill="#1f1f1f" stroke="#1f1f1f" stroke-width="0.22" >t</text>
<text x="272.99" y="212.20" font-size="7.80" text-anchor="start" fill="#1f1f1f" stroke="#1f1f1f" stroke-width="0.22" textLength="9.3" lengthAdjust="spacingAndGlyphs">CS</text>
<text x="376.23" y="206.80" font-size="11.80" text-anchor="start" fill="#1f1f1f" stroke="#1f1f1f" stroke-width="0.22" >t</text>
<text x="379.45" y="212.00" font-size="7.80" text-anchor="start" fill="#1f1f1f" stroke="#1f1f1f" stroke-width="0.22" textLength="9.7" lengthAdjust="spacingAndGlyphs">US</text>
<text transform="translate(470.0 149.6) rotate(-90)" font-size="11.0" text-anchor="middle" fill="#1f1f1f" stroke="#1f1f1f" stroke-width="0.2">Activity (AU)</text>
<text x="485.33" y="192.30" font-size="9.80" text-anchor="start" fill="#1f1f1f" stroke="#1f1f1f" stroke-width="0.22" >100</text>
<text x="557.35" y="197.00" font-size="10.90" text-anchor="middle" fill="#1f1f1f" stroke="#1f1f1f" stroke-width="0.22" >Time (ms)</text>
<text x="590.73" y="191.50" font-size="9.80" text-anchor="start" fill="#1f1f1f" stroke="#1f1f1f" stroke-width="0.22" >1100</text>
<text x="489.33" y="206.00" font-size="11.80" text-anchor="start" fill="#1f1f1f" stroke="#1f1f1f" stroke-width="0.22" >t</text>
<text x="492.69" y="211.50" font-size="7.80" text-anchor="start" fill="#1f1f1f" stroke="#1f1f1f" stroke-width="0.22" textLength="9.3" lengthAdjust="spacingAndGlyphs">CS</text>
<text x="593.63" y="205.00" font-size="11.80" text-anchor="start" fill="#1f1f1f" stroke="#1f1f1f" stroke-width="0.22" >t</text>
<text x="596.95" y="210.40" font-size="7.80" text-anchor="start" fill="#1f1f1f" stroke="#1f1f1f" stroke-width="0.22" textLength="9.7" lengthAdjust="spacingAndGlyphs">US</text>
<path d="M46 234H222V304H46ZM47.70 235.20V302.20H220.30V235.20Z" fill="#fff" fill-rule="evenodd"/>
<path d="M47.90 235.20V302.20H220.30" fill="none" stroke="#20204a" stroke-width="0.7" opacity="0.75"/>
<path d="M47.70 251.95h1.6M47.70 268.70h1.6M47.70 285.45h1.6M164.20 302.20v-2" fill="none" stroke="#16163a" stroke-width="0.7" opacity="0.8"/>
<path d="M46 313H222V383H46ZM47.70 314.50V381.10H220.30V314.50Z" fill="#fff" fill-rule="evenodd"/>
<path d="M47.90 314.50V381.10H220.30" fill="none" stroke="#20204a" stroke-width="0.7" opacity="0.75"/>
<path d="M47.70 331.15h1.6M47.70 347.80h1.6M47.70 364.45h1.6M164.20 381.10v-2" fill="none" stroke="#16163a" stroke-width="0.7" opacity="0.8"/>
<path d="M264 234H439V304H264ZM265.00 235.20V302.20H437.60V235.20Z" fill="#fff" fill-rule="evenodd"/>
<path d="M265.20 235.20V302.20H437.60" fill="none" stroke="#20204a" stroke-width="0.7" opacity="0.75"/>
<path d="M265.00 251.95h1.6M265.00 268.70h1.6M265.00 285.45h1.6M381.30 302.20v-2" fill="none" stroke="#16163a" stroke-width="0.7" opacity="0.8"/>
<path d="M264 313H439V383H264ZM265.00 314.50V381.10H437.60V314.50Z" fill="#fff" fill-rule="evenodd"/>
<path d="M265.20 314.50V381.10H437.60" fill="none" stroke="#20204a" stroke-width="0.7" opacity="0.75"/>
<path d="M265.00 331.15h1.6M265.00 347.80h1.6M265.00 364.45h1.6M381.30 381.10v-2" fill="none" stroke="#16163a" stroke-width="0.7" opacity="0.8"/>
<path d="M481 234H657V304H481ZM482.50 235.20V302.20H655.10V235.20Z" fill="#fff" fill-rule="evenodd"/>
<path d="M482.70 235.20V302.20H655.10" fill="none" stroke="#20204a" stroke-width="0.7" opacity="0.75"/>
<path d="M482.50 251.95h1.6M482.50 268.70h1.6M482.50 285.45h1.6M598.50 302.20v-2" fill="none" stroke="#16163a" stroke-width="0.7" opacity="0.8"/>
<path d="M481 313H657V383H481ZM482.50 314.50V381.10H655.10V314.50Z" fill="#fff" fill-rule="evenodd"/>
<path d="M482.70 314.50V381.10H655.10" fill="none" stroke="#20204a" stroke-width="0.7" opacity="0.75"/>
<path d="M482.50 331.15h1.6M482.50 347.80h1.6M482.50 364.45h1.6M598.50 381.10v-2" fill="none" stroke="#16163a" stroke-width="0.7" opacity="0.8"/>
<text transform="translate(38.4 305.2) rotate(-90)" font-size="11.4" text-anchor="middle" fill="#1f1f1f" stroke="#1f1f1f" stroke-width="0.2">Neuron Number</text>
<text x="49.63" y="392.90" font-size="9.80" text-anchor="start" fill="#1f1f1f" stroke="#1f1f1f" stroke-width="0.22" >100</text>
<text x="124.20" y="396.50" font-size="10.90" text-anchor="middle" fill="#1f1f1f" stroke="#1f1f1f" stroke-width="0.22" >Time (ms)</text>
<text x="155.13" y="392.10" font-size="9.80" text-anchor="start" fill="#1f1f1f" stroke="#1f1f1f" stroke-width="0.22" >1100</text>
<text x="53.93" y="406.00" font-size="11.80" text-anchor="start" fill="#1f1f1f" stroke="#1f1f1f" stroke-width="0.22" >t</text>
<text x="57.49" y="411.50" font-size="7.80" text-anchor="start" fill="#1f1f1f" stroke="#1f1f1f" stroke-width="0.22" textLength="9.3" lengthAdjust="spacingAndGlyphs">CS</text>
<text x="163.03" y="405.80" font-size="11.80" text-anchor="start" fill="#1f1f1f" stroke="#1f1f1f" stroke-width="0.22" >t</text>
<text x="166.15" y="411.30" font-size="7.80" text-anchor="start" fill="#1f1f1f" stroke="#1f1f1f" stroke-width="0.22" textLength="9.7" lengthAdjust="spacingAndGlyphs">US</text>
<text transform="translate(254.4 305.2) rotate(-90)" font-size="11.4" text-anchor="middle" fill="#1f1f1f" stroke="#1f1f1f" stroke-width="0.2">Neuron Number</text>
<text x="267.33" y="392.90" font-size="9.80" text-anchor="start" fill="#1f1f1f" stroke="#1f1f1f" stroke-width="0.22" >100</text>
<text x="339.20" y="396.30" font-size="10.90" text-anchor="middle" fill="#1f1f1f" stroke="#1f1f1f" stroke-width="0.22" >Time (ms)</text>
<text x="372.73" y="392.10" font-size="9.80" text-anchor="start" fill="#1f1f1f" stroke="#1f1f1f" stroke-width="0.22" >1100</text>
<text x="271.33" y="405.60" font-size="11.80" text-anchor="start" fill="#1f1f1f" stroke="#1f1f1f" stroke-width="0.22" >t</text>
<text x="274.69" y="411.20" font-size="7.80" text-anchor="start" fill="#1f1f1f" stroke="#1f1f1f" stroke-width="0.22" textLength="9.3" lengthAdjust="spacingAndGlyphs">CS</text>
<text x="378.03" y="405.60" font-size="11.80" text-anchor="start" fill="#1f1f1f" stroke="#1f1f1f" stroke-width="0.22" >t</text>
<text x="381.45" y="411.30" font-size="7.80" text-anchor="start" fill="#1f1f1f" stroke="#1f1f1f" stroke-width="0.22" textLength="9.7" lengthAdjust="spacingAndGlyphs">US</text>
<text transform="translate(474.4 305.2) rotate(-90)" font-size="11.4" text-anchor="middle" fill="#1f1f1f" stroke="#1f1f1f" stroke-width="0.2">Neuron Number</text>
<text x="485.13" y="392.90" font-size="9.80" text-anchor="start" fill="#1f1f1f" stroke="#1f1f1f" stroke-width="0.22" >100</text>
<text x="557.80" y="396.30" font-size="10.90" text-anchor="middle" fill="#1f1f1f" stroke="#1f1f1f" stroke-width="0.22" >Time (ms)</text>
<text x="590.73" y="392.10" font-size="9.80" text-anchor="start" fill="#1f1f1f" stroke="#1f1f1f" stroke-width="0.22" >1100</text>
<text x="491.23" y="405.00" font-size="11.80" text-anchor="start" fill="#1f1f1f" stroke="#1f1f1f" stroke-width="0.22" >t</text>
<text x="494.69" y="410.40" font-size="7.80" text-anchor="start" fill="#1f1f1f" stroke="#1f1f1f" stroke-width="0.22" textLength="9.3" lengthAdjust="spacingAndGlyphs">CS</text>
<text x="595.73" y="404.20" font-size="11.80" text-anchor="start" fill="#1f1f1f" stroke="#1f1f1f" stroke-width="0.22" >t</text>
<text x="598.95" y="409.70" font-size="7.80" text-anchor="start" fill="#1f1f1f" stroke="#1f1f1f" stroke-width="0.22" textLength="9.7" lengthAdjust="spacingAndGlyphs">US</text>
<g transform="translate(50.9 416.2)" clip-path="url(#sq)"><path d="M-4.20 0h3.5l-8.4 19.7h-3.4z" fill="#101010"/><path d="M2.00 0h3.5l-8.4 19.7h-3.4z" fill="#101010"/><path d="M8.20 0h3.5l-8.4 19.7h-3.4z" fill="#101010"/><path d="M14.40 0h3.5l-8.4 19.7h-3.4z" fill="#101010"/><path d="M20.60 0h3.5l-8.4 19.7h-3.4z" fill="#101010"/><path d="M26.80 0h3.5l-8.4 19.7h-3.4z" fill="#101010"/></g>
<g transform="translate(268.2 416.2)" clip-path="url(#sq)"><path d="M-4.20 0h3.5l-8.4 19.7h-3.4z" fill="#101010"/><path d="M2.00 0h3.5l-8.4 19.7h-3.4z" fill="#101010"/><path d="M8.20 0h3.5l-8.4 19.7h-3.4z" fill="#101010"/><path d="M14.40 0h3.5l-8.4 19.7h-3.4z" fill="#101010"/><path d="M20.60 0h3.5l-8.4 19.7h-3.4z" fill="#101010"/><path d="M26.80 0h3.5l-8.4 19.7h-3.4z" fill="#101010"/></g>
<g transform="translate(486.3 416.2)" clip-path="url(#sq)"><path d="M-4.20 0h3.5l-8.4 19.7h-3.4z" fill="#101010"/><path d="M2.00 0h3.5l-8.4 19.7h-3.4z" fill="#101010"/><path d="M8.20 0h3.5l-8.4 19.7h-3.4z" fill="#101010"/><path d="M14.40 0h3.5l-8.4 19.7h-3.4z" fill="#101010"/><path d="M20.60 0h3.5l-8.4 19.7h-3.4z" fill="#101010"/><path d="M26.80 0h3.5l-8.4 19.7h-3.4z" fill="#101010"/></g>
<path transform="translate(168.4 415.9)" d="M0 0C1.6 3.6 6.7 9.8 6.7 14.1A6.7 6.7 0 0 1 -6.7 14.1C-6.7 9.8 -1.6 3.6 0 0Z" fill="url(#drop)"/>
<path transform="translate(168.4 415.9)" d="M-3.6 10.2C-4.6 12.6 -4.5 15.6 -2.6 17.6" fill="none" stroke="#58aee9" stroke-width="0.9" stroke-linecap="round" opacity="0.8"/>
<path transform="translate(385.9 415.9)" d="M0 0C1.6 3.6 6.7 9.8 6.7 14.1A6.7 6.7 0 0 1 -6.7 14.1C-6.7 9.8 -1.6 3.6 0 0Z" fill="url(#drop)"/>
<path transform="translate(385.9 415.9)" d="M-3.6 10.2C-4.6 12.6 -4.5 15.6 -2.6 17.6" fill="none" stroke="#58aee9" stroke-width="0.9" stroke-linecap="round" opacity="0.8"/>
<path transform="translate(603.7 415.9)" d="M0 0C1.6 3.6 6.7 9.8 6.7 14.1A6.7 6.7 0 0 1 -6.7 14.1C-6.7 9.8 -1.6 3.6 0 0Z" fill="url(#drop)"/>
<path transform="translate(603.7 415.9)" d="M-3.6 10.2C-4.6 12.6 -4.5 15.6 -2.6 17.6" fill="none" stroke="#58aee9" stroke-width="0.9" stroke-linecap="round" opacity="0.8"/>
</svg>
</body></html>
